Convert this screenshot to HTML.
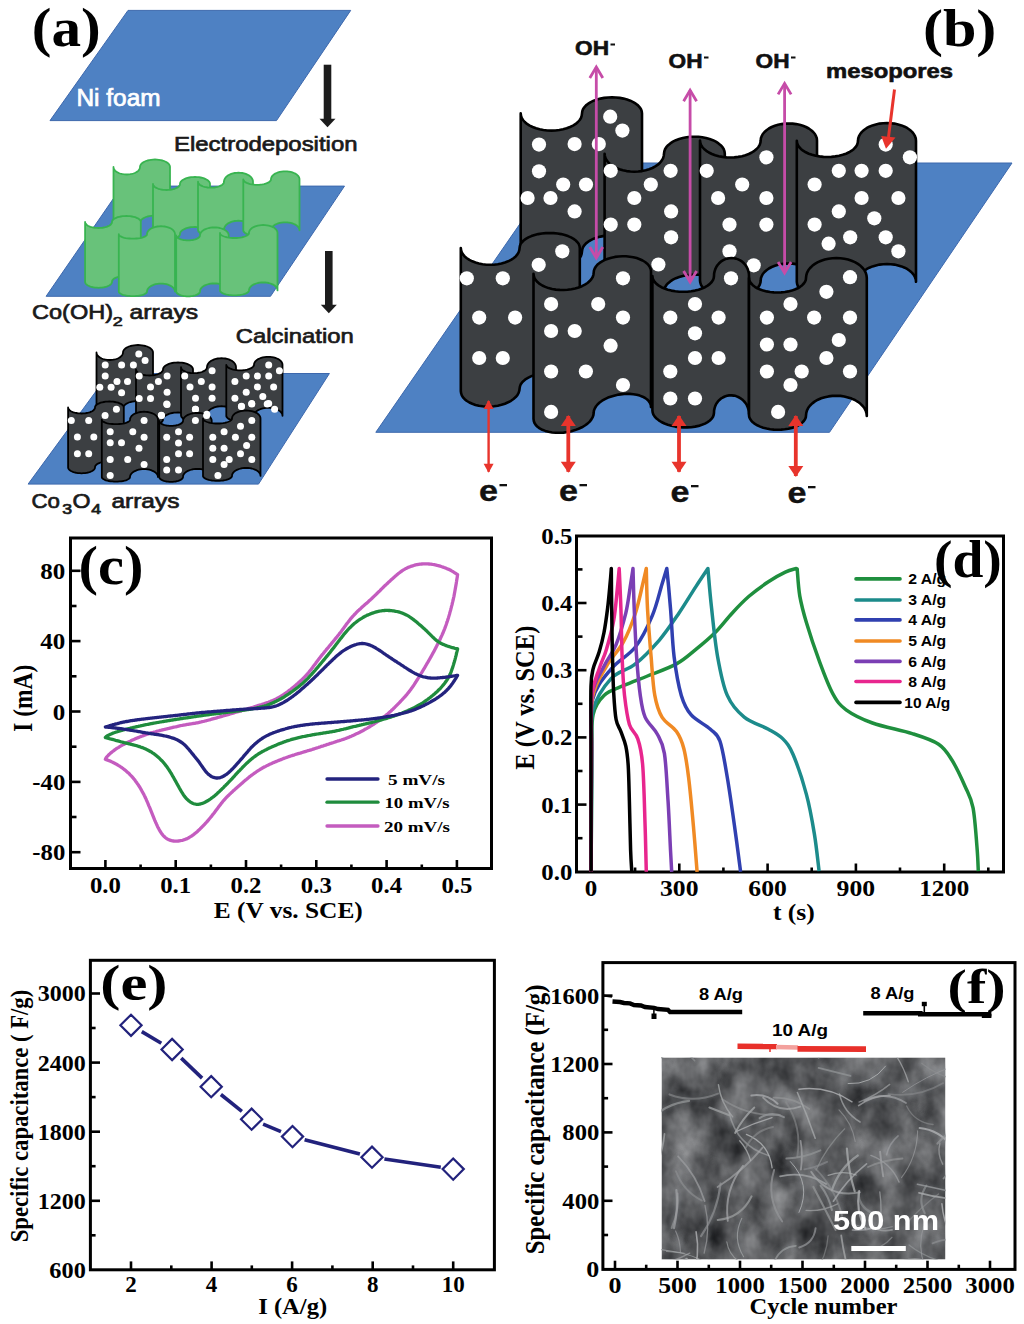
<!DOCTYPE html>
<html><head><meta charset="utf-8"><title>Figure</title>
<style>html,body{margin:0;padding:0;background:#fff;} svg{display:block;}</style></head>
<body><svg width="1024" height="1324" viewBox="0 0 1024 1324">
<rect x="0" y="0" width="1024" height="1324" fill="#fff"/>
<polygon points="128.0,10.4 350.7,10.4 276.5,120.6 50.0,120.6" fill="#4e81c3" stroke="#3d68ad" stroke-width="1"/>
<text x="31.8" y="46.2" font-family="'Liberation Serif',serif" font-weight="bold" font-size="55.5" fill="#000" text-anchor="start" textLength="69" lengthAdjust="spacingAndGlyphs">(a)</text>
<text x="76.5" y="106.4" font-family="'Liberation Sans',sans-serif" font-weight="normal" font-size="23" fill="#fff" text-anchor="start" textLength="84" lengthAdjust="spacingAndGlyphs" stroke="#fff" stroke-width="0.7">Ni foam</text>
<line x1="327.5" y1="64.7" x2="327.5" y2="120.2" stroke="#1c1c1c" stroke-width="7.6"/>
<polygon points="319.5,118.7 335.5,118.7 327.5,127.2" fill="#1c1c1c"/>
<text x="174" y="151.3" font-family="'Liberation Sans',sans-serif" font-weight="normal" font-size="20.7" fill="#1a1a1a" text-anchor="start" textLength="183.5" lengthAdjust="spacingAndGlyphs" stroke="#1a1a1a" stroke-width="0.7">Electrodeposition</text>
<polygon points="122.0,186.1 344.5,186.1 270.5,296.3 46.1,296.3" fill="#4e81c3" stroke="#3d68ad" stroke-width="1"/>
<path d="M113.5,167.0 L113.6,168.0 L114.0,168.9 L114.5,169.9 L115.3,170.8 L116.2,171.6 L117.4,172.3 L118.7,173.0 L120.1,173.5 L121.7,173.9 L123.3,174.2 L125.0,174.4 L126.8,174.5 L128.5,174.4 L130.2,174.2 L131.8,173.9 L133.4,173.5 L134.8,173.0 L136.1,172.3 L137.3,171.6 L138.2,170.8 L139.0,169.9 L139.5,168.9 L139.9,168.0 L140.0,167.0 L140.1,166.0 L140.5,165.1 L141.1,164.1 L142.0,163.2 L143.1,162.4 L144.4,161.7 L145.9,161.0 L147.5,160.5 L149.3,160.1 L151.1,159.8 L153.0,159.6 L155.0,159.5 L157.0,159.6 L158.9,159.8 L160.7,160.1 L162.5,160.5 L164.1,161.0 L165.6,161.7 L166.9,162.4 L168.0,163.2 L168.9,164.1 L169.5,165.1 L169.9,166.0 L170.0,167.0 L170.0,223.0 L169.9,222.0 L169.5,221.1 L168.9,220.1 L168.0,219.2 L166.9,218.4 L165.6,217.7 L164.1,217.0 L162.5,216.5 L160.7,216.1 L158.9,215.8 L157.0,215.6 L155.0,215.5 L153.0,215.6 L151.1,215.8 L149.3,216.1 L147.5,216.5 L145.9,217.0 L144.4,217.7 L143.1,218.4 L142.0,219.2 L141.1,220.1 L140.5,221.1 L140.1,222.0 L140.0,223.0 L139.9,224.0 L139.5,224.9 L139.0,225.9 L138.2,226.8 L137.3,227.6 L136.1,228.3 L134.8,229.0 L133.4,229.5 L131.8,229.9 L130.2,230.2 L128.5,230.4 L126.8,230.5 L125.0,230.4 L123.3,230.2 L121.7,229.9 L120.1,229.5 L118.7,229.0 L117.4,228.3 L116.2,227.6 L115.3,226.8 L114.5,225.9 L114.0,224.9 L113.6,224.0 L113.5,223.0 Z" fill="#68c27a" stroke="#38b450" stroke-width="1.8" stroke-linejoin="round"/>
<path d="M153.0,184.0 L153.1,184.8 L153.5,185.6 L154.0,186.3 L154.8,187.0 L155.8,187.7 L157.0,188.2 L158.3,188.8 L159.8,189.2 L161.3,189.5 L163.0,189.8 L164.7,189.9 L166.5,190.0 L168.3,189.9 L170.0,189.8 L171.7,189.5 L173.2,189.2 L174.7,188.8 L176.0,188.2 L177.2,187.7 L178.2,187.0 L179.0,186.3 L179.5,185.6 L179.9,184.8 L180.0,184.0 L180.1,183.1 L180.5,182.2 L181.1,181.3 L182.0,180.5 L183.1,179.7 L184.4,179.1 L185.9,178.4 L187.5,177.9 L189.3,177.5 L191.1,177.2 L193.0,177.1 L195.0,177.0 L197.0,177.1 L198.9,177.2 L200.7,177.5 L202.5,177.9 L204.1,178.4 L205.6,179.1 L206.9,179.7 L208.0,180.5 L208.9,181.3 L209.5,182.2 L209.9,183.1 L210.0,184.0 L210.0,234.0 L209.9,233.1 L209.5,232.2 L208.9,231.3 L208.0,230.5 L206.9,229.7 L205.6,229.1 L204.1,228.4 L202.5,227.9 L200.7,227.5 L198.9,227.2 L197.0,227.1 L195.0,227.0 L193.0,227.1 L191.1,227.2 L189.3,227.5 L187.5,227.9 L185.9,228.4 L184.4,229.1 L183.1,229.7 L182.0,230.5 L181.1,231.3 L180.5,232.2 L180.1,233.1 L180.0,234.0 L179.9,234.8 L179.5,235.6 L179.0,236.3 L178.2,237.0 L177.2,237.7 L176.0,238.2 L174.7,238.8 L173.2,239.2 L171.7,239.5 L170.0,239.8 L168.3,239.9 L166.5,240.0 L164.7,239.9 L163.0,239.8 L161.3,239.5 L159.8,239.2 L158.3,238.8 L157.0,238.2 L155.8,237.7 L154.8,237.0 L154.0,236.3 L153.5,235.6 L153.1,234.8 L153.0,234.0 Z" fill="#68c27a" stroke="#38b450" stroke-width="1.8" stroke-linejoin="round"/>
<path d="M198.0,181.7 L198.1,182.5 L198.4,183.3 L199.0,184.0 L199.7,184.7 L200.7,185.4 L201.8,185.9 L203.1,186.5 L204.5,186.9 L206.0,187.2 L207.6,187.5 L209.3,187.6 L211.0,187.7 L212.7,187.6 L214.4,187.5 L216.0,187.2 L217.5,186.9 L218.9,186.5 L220.2,185.9 L221.3,185.4 L222.3,184.7 L223.0,184.0 L223.6,183.3 L223.9,182.5 L224.0,181.7 L224.1,180.5 L224.5,179.4 L225.1,178.3 L225.9,177.2 L227.0,176.2 L228.2,175.3 L229.7,174.6 L231.2,173.9 L233.0,173.4 L234.7,173.0 L236.6,172.8 L238.5,172.7 L240.4,172.8 L242.3,173.0 L244.0,173.4 L245.8,173.9 L247.3,174.6 L248.8,175.3 L250.0,176.2 L251.1,177.2 L251.9,178.3 L252.5,179.4 L252.9,180.5 L253.0,181.7 L253.0,229.7 L252.9,228.5 L252.5,227.4 L251.9,226.3 L251.1,225.2 L250.0,224.2 L248.8,223.3 L247.3,222.6 L245.8,221.9 L244.0,221.4 L242.3,221.0 L240.4,220.8 L238.5,220.7 L236.6,220.8 L234.7,221.0 L233.0,221.4 L231.2,221.9 L229.7,222.6 L228.2,223.3 L227.0,224.2 L225.9,225.2 L225.1,226.3 L224.5,227.4 L224.1,228.5 L224.0,229.7 L223.9,230.5 L223.6,231.3 L223.0,232.0 L222.3,232.7 L221.3,233.4 L220.2,233.9 L218.9,234.5 L217.5,234.9 L216.0,235.2 L214.4,235.5 L212.7,235.6 L211.0,235.7 L209.3,235.6 L207.6,235.5 L206.0,235.2 L204.5,234.9 L203.1,234.5 L201.8,233.9 L200.7,233.4 L199.7,232.7 L199.0,232.0 L198.4,231.3 L198.1,230.5 L198.0,229.7 Z" fill="#68c27a" stroke="#38b450" stroke-width="1.8" stroke-linejoin="round"/>
<path d="M243.3,179.3 L243.4,180.0 L243.8,180.7 L244.4,181.4 L245.2,182.1 L246.2,182.6 L247.4,183.2 L248.7,183.7 L250.2,184.1 L251.8,184.4 L253.6,184.6 L255.3,184.8 L257.1,184.8 L259.0,184.8 L260.7,184.6 L262.5,184.4 L264.1,184.1 L265.6,183.7 L266.9,183.2 L268.1,182.6 L269.1,182.1 L269.9,181.4 L270.5,180.7 L270.9,180.0 L271.0,179.3 L271.1,178.3 L271.5,177.2 L272.1,176.2 L272.9,175.3 L273.9,174.4 L275.2,173.6 L276.6,173.0 L278.1,172.4 L279.8,171.9 L281.6,171.6 L283.4,171.4 L285.2,171.3 L287.1,171.4 L288.9,171.6 L290.7,171.9 L292.4,172.4 L293.9,173.0 L295.3,173.6 L296.6,174.4 L297.6,175.3 L298.4,176.2 L299.0,177.2 L299.4,178.3 L299.5,179.3 L299.5,230.3 L299.4,229.3 L299.0,228.2 L298.4,227.2 L297.6,226.3 L296.6,225.4 L295.3,224.6 L293.9,224.0 L292.4,223.4 L290.7,222.9 L288.9,222.6 L287.1,222.4 L285.2,222.3 L283.4,222.4 L281.6,222.6 L279.8,222.9 L278.1,223.4 L276.6,224.0 L275.2,224.6 L273.9,225.4 L272.9,226.3 L272.1,227.2 L271.5,228.2 L271.1,229.3 L271.0,230.3 L270.9,231.0 L270.5,231.7 L269.9,232.4 L269.1,233.1 L268.1,233.6 L266.9,234.2 L265.6,234.7 L264.1,235.1 L262.5,235.4 L260.7,235.6 L259.0,235.8 L257.1,235.8 L255.3,235.8 L253.6,235.6 L251.8,235.4 L250.2,235.1 L248.7,234.7 L247.4,234.2 L246.2,233.6 L245.2,233.1 L244.4,232.4 L243.8,231.7 L243.4,231.0 L243.3,230.3 Z" fill="#68c27a" stroke="#38b450" stroke-width="1.8" stroke-linejoin="round"/>
<path d="M85.1,222.0 L85.2,222.8 L85.6,223.6 L86.1,224.3 L86.9,225.0 L87.9,225.7 L89.0,226.2 L90.4,226.8 L91.8,227.2 L93.4,227.5 L95.1,227.8 L96.8,227.9 L98.5,228.0 L100.3,227.9 L102.0,227.8 L103.7,227.5 L105.3,227.2 L106.7,226.8 L108.1,226.2 L109.2,225.7 L110.2,225.0 L111.0,224.3 L111.5,223.6 L111.9,222.8 L112.0,222.0 L112.1,221.2 L112.5,220.4 L113.1,219.7 L113.9,219.0 L115.0,218.3 L116.2,217.8 L117.6,217.2 L119.2,216.8 L120.9,216.5 L122.7,216.2 L124.5,216.1 L126.4,216.0 L128.3,216.1 L130.1,216.2 L131.9,216.5 L133.6,216.8 L135.2,217.2 L136.6,217.8 L137.8,218.3 L138.9,219.0 L139.7,219.7 L140.3,220.4 L140.7,221.2 L140.8,222.0 L140.8,281.8 L140.7,281.0 L140.3,280.2 L139.7,279.5 L138.9,278.8 L137.8,278.1 L136.6,277.6 L135.2,277.0 L133.6,276.6 L131.9,276.3 L130.1,276.0 L128.3,275.9 L126.4,275.8 L124.5,275.9 L122.7,276.0 L120.9,276.3 L119.2,276.6 L117.6,277.0 L116.2,277.6 L115.0,278.1 L113.9,278.8 L113.1,279.5 L112.5,280.2 L112.1,281.0 L112.0,281.8 L111.9,282.6 L111.5,283.4 L111.0,284.1 L110.2,284.8 L109.2,285.5 L108.1,286.0 L106.7,286.6 L105.3,287.0 L103.7,287.3 L102.0,287.6 L100.3,287.7 L98.5,287.8 L96.8,287.7 L95.1,287.6 L93.4,287.3 L91.8,287.0 L90.4,286.6 L89.0,286.0 L87.9,285.5 L86.9,284.8 L86.1,284.1 L85.6,283.4 L85.2,282.6 L85.1,281.8 Z" fill="#68c27a" stroke="#38b450" stroke-width="1.8" stroke-linejoin="round"/>
<path d="M118.8,234.2 L118.9,234.8 L119.3,235.4 L119.9,235.9 L120.7,236.4 L121.7,236.9 L122.9,237.4 L124.3,237.8 L125.8,238.1 L127.5,238.4 L129.3,238.5 L131.1,238.7 L132.9,238.7 L134.7,238.7 L136.5,238.5 L138.3,238.4 L140.0,238.1 L141.5,237.8 L142.9,237.4 L144.1,236.9 L145.1,236.4 L145.9,235.9 L146.5,235.4 L146.9,234.8 L147.0,234.2 L147.1,233.2 L147.5,232.1 L148.1,231.1 L148.9,230.2 L149.9,229.3 L151.1,228.5 L152.5,227.9 L154.0,227.3 L155.6,226.8 L157.4,226.5 L159.2,226.3 L161.0,226.2 L162.8,226.3 L164.6,226.5 L166.4,226.8 L168.0,227.3 L169.5,227.9 L170.9,228.5 L172.1,229.3 L173.1,230.2 L173.9,231.1 L174.5,232.1 L174.9,233.2 L175.0,234.2 L175.0,291.6 L174.9,290.6 L174.5,289.5 L173.9,288.5 L173.1,287.6 L172.1,286.7 L170.9,285.9 L169.5,285.3 L168.0,284.7 L166.4,284.2 L164.6,283.9 L162.8,283.7 L161.0,283.6 L159.2,283.7 L157.4,283.9 L155.6,284.2 L154.0,284.7 L152.5,285.3 L151.1,285.9 L149.9,286.7 L148.9,287.6 L148.1,288.5 L147.5,289.5 L147.1,290.6 L147.0,291.6 L146.9,292.2 L146.5,292.8 L145.9,293.3 L145.1,293.8 L144.1,294.3 L142.9,294.8 L141.5,295.2 L140.0,295.5 L138.3,295.8 L136.5,295.9 L134.7,296.1 L132.9,296.1 L131.1,296.1 L129.3,295.9 L127.5,295.8 L125.8,295.5 L124.3,295.2 L122.9,294.8 L121.7,294.3 L120.7,293.8 L119.9,293.3 L119.3,292.8 L118.9,292.2 L118.8,291.6 Z" fill="#68c27a" stroke="#38b450" stroke-width="1.8" stroke-linejoin="round"/>
<path d="M176.2,235.4 L176.3,236.1 L176.6,236.7 L177.1,237.3 L177.8,237.9 L178.7,238.4 L179.7,238.9 L180.9,239.4 L182.1,239.7 L183.5,240.0 L185.0,240.2 L186.5,240.4 L188.1,240.4 L189.7,240.4 L191.2,240.2 L192.7,240.0 L194.0,239.7 L195.3,239.4 L196.5,238.9 L197.5,238.4 L198.4,237.9 L199.1,237.3 L199.6,236.7 L199.9,236.1 L200.0,235.4 L200.1,234.4 L200.5,233.3 L201.1,232.3 L201.9,231.4 L203.0,230.5 L204.2,229.7 L205.6,229.1 L207.2,228.5 L208.9,228.0 L210.6,227.7 L212.5,227.5 L214.3,227.4 L216.2,227.5 L218.1,227.7 L219.8,228.0 L221.5,228.5 L223.1,229.1 L224.5,229.7 L225.7,230.5 L226.8,231.4 L227.6,232.3 L228.2,233.3 L228.6,234.4 L228.7,235.4 L228.7,291.4 L228.6,290.4 L228.2,289.3 L227.6,288.3 L226.8,287.4 L225.7,286.5 L224.5,285.7 L223.1,285.1 L221.5,284.5 L219.8,284.0 L218.1,283.7 L216.2,283.5 L214.3,283.4 L212.5,283.5 L210.6,283.7 L208.9,284.0 L207.2,284.5 L205.6,285.1 L204.2,285.7 L203.0,286.5 L201.9,287.4 L201.1,288.3 L200.5,289.3 L200.1,290.4 L200.0,291.4 L199.9,292.1 L199.6,292.7 L199.1,293.3 L198.4,293.9 L197.5,294.4 L196.5,294.9 L195.3,295.4 L194.0,295.7 L192.7,296.0 L191.2,296.2 L189.7,296.4 L188.1,296.4 L186.5,296.4 L185.0,296.2 L183.5,296.0 L182.1,295.7 L180.9,295.4 L179.7,294.9 L178.7,294.4 L177.8,293.9 L177.1,293.3 L176.6,292.7 L176.3,292.1 L176.2,291.4 Z" fill="#68c27a" stroke="#38b450" stroke-width="1.8" stroke-linejoin="round"/>
<path d="M220.0,233.0 L220.1,233.7 L220.5,234.3 L221.1,234.9 L221.9,235.5 L223.0,236.0 L224.2,236.5 L225.7,237.0 L227.2,237.3 L229.0,237.6 L230.7,237.8 L232.6,238.0 L234.5,238.0 L236.4,238.0 L238.3,237.8 L240.0,237.6 L241.8,237.3 L243.3,237.0 L244.8,236.5 L246.0,236.0 L247.1,235.5 L247.9,234.9 L248.5,234.3 L248.9,233.7 L249.0,233.0 L249.1,232.0 L249.5,230.9 L250.1,229.9 L250.9,229.0 L251.9,228.1 L253.2,227.3 L254.6,226.7 L256.1,226.1 L257.8,225.6 L259.6,225.3 L261.4,225.1 L263.2,225.0 L265.1,225.1 L266.9,225.3 L268.7,225.6 L270.4,226.1 L271.9,226.7 L273.3,227.3 L274.6,228.1 L275.6,229.0 L276.4,229.9 L277.0,230.9 L277.4,232.0 L277.5,233.0 L277.5,290.4 L277.4,289.4 L277.0,288.3 L276.4,287.3 L275.6,286.4 L274.6,285.5 L273.3,284.7 L271.9,284.1 L270.4,283.5 L268.7,283.0 L266.9,282.7 L265.1,282.5 L263.2,282.4 L261.4,282.5 L259.6,282.7 L257.8,283.0 L256.1,283.5 L254.6,284.1 L253.2,284.7 L251.9,285.5 L250.9,286.4 L250.1,287.3 L249.5,288.3 L249.1,289.4 L249.0,290.4 L248.9,291.1 L248.5,291.7 L247.9,292.3 L247.1,292.9 L246.0,293.4 L244.8,293.9 L243.3,294.4 L241.8,294.7 L240.0,295.0 L238.3,295.2 L236.4,295.4 L234.5,295.4 L232.6,295.4 L230.7,295.2 L229.0,295.0 L227.2,294.7 L225.7,294.4 L224.2,293.9 L223.0,293.4 L221.9,292.9 L221.1,292.3 L220.5,291.7 L220.1,291.1 L220.0,290.4 Z" fill="#68c27a" stroke="#38b450" stroke-width="1.8" stroke-linejoin="round"/>
<line x1="328.8" y1="251" x2="328.8" y2="306.3" stroke="#1c1c1c" stroke-width="7.6"/>
<polygon points="320.8,304.8 336.8,304.8 328.8,313.3" fill="#1c1c1c"/>
<text x="32" y="319.3" font-family="'Liberation Sans',sans-serif" font-weight="normal" font-size="20.7" fill="#1a1a1a" text-anchor="start" textLength="81" lengthAdjust="spacingAndGlyphs" stroke="#1a1a1a" stroke-width="0.7">Co(OH)</text>
<text x="112.8" y="325.5" font-family="'Liberation Sans',sans-serif" font-weight="normal" font-size="13.5" fill="#1a1a1a" text-anchor="start" textLength="10" lengthAdjust="spacingAndGlyphs" stroke="#1a1a1a" stroke-width="0.7">2</text>
<text x="129.6" y="319.3" font-family="'Liberation Sans',sans-serif" font-weight="normal" font-size="20.7" fill="#1a1a1a" text-anchor="start" textLength="68.5" lengthAdjust="spacingAndGlyphs" stroke="#1a1a1a" stroke-width="0.7">arrays</text>
<text x="235.8" y="343.2" font-family="'Liberation Sans',sans-serif" font-weight="normal" font-size="20.7" fill="#1a1a1a" text-anchor="start" textLength="118" lengthAdjust="spacingAndGlyphs" stroke="#1a1a1a" stroke-width="0.7">Calcination</text>
<polygon points="109.0,373.5 329.4,373.5 258.5,484.1 28.1,484.1" fill="#4e81c3" stroke="#3d68ad" stroke-width="1"/>
<path d="M96.5,352.5 L96.6,353.5 L97.0,354.4 L97.5,355.4 L98.3,356.2 L99.2,357.1 L100.4,357.8 L101.7,358.5 L103.1,359.0 L104.7,359.4 L106.3,359.7 L108.0,359.9 L109.8,360.0 L111.5,359.9 L113.2,359.7 L114.8,359.4 L116.4,359.0 L117.8,358.5 L119.1,357.8 L120.3,357.1 L121.2,356.2 L122.0,355.4 L122.5,354.4 L122.9,353.5 L123.0,352.5 L123.1,351.5 L123.5,350.6 L124.1,349.6 L125.0,348.8 L126.1,347.9 L127.4,347.2 L128.9,346.5 L130.5,346.0 L132.3,345.6 L134.1,345.3 L136.0,345.1 L138.0,345.0 L140.0,345.1 L141.9,345.3 L143.7,345.6 L145.5,346.0 L147.1,346.5 L148.6,347.2 L149.9,347.9 L151.0,348.8 L151.9,349.6 L152.5,350.6 L152.9,351.5 L153.0,352.5 L153.0,408.5 L152.9,407.5 L152.5,406.6 L151.9,405.6 L151.0,404.8 L149.9,403.9 L148.6,403.2 L147.1,402.5 L145.5,402.0 L143.7,401.6 L141.9,401.3 L140.0,401.1 L138.0,401.0 L136.0,401.1 L134.1,401.3 L132.3,401.6 L130.5,402.0 L128.9,402.5 L127.4,403.2 L126.1,403.9 L125.0,404.8 L124.1,405.6 L123.5,406.6 L123.1,407.5 L123.0,408.5 L122.9,409.5 L122.5,410.4 L122.0,411.4 L121.2,412.2 L120.3,413.1 L119.1,413.8 L117.8,414.5 L116.4,415.0 L114.8,415.4 L113.2,415.7 L111.5,415.9 L109.8,416.0 L108.0,415.9 L106.3,415.7 L104.7,415.4 L103.1,415.0 L101.7,414.5 L100.4,413.8 L99.2,413.1 L98.3,412.2 L97.5,411.4 L97.0,410.4 L96.6,409.5 L96.5,408.5 Z" fill="#3c3f42" stroke="#000" stroke-width="1.8" stroke-linejoin="round"/>
<circle cx="138.8" cy="354.1" r="3.5" fill="#fff"/>
<circle cx="145.1" cy="360.5" r="3.5" fill="#fff"/>
<circle cx="105.2" cy="365.0" r="3.5" fill="#fff"/>
<circle cx="121.6" cy="365.0" r="3.5" fill="#fff"/>
<circle cx="133.4" cy="365.0" r="3.5" fill="#fff"/>
<circle cx="105.2" cy="376.1" r="3.5" fill="#fff"/>
<circle cx="117.0" cy="381.4" r="3.5" fill="#fff"/>
<circle cx="127.5" cy="381.4" r="3.5" fill="#fff"/>
<circle cx="99.8" cy="387.3" r="3.5" fill="#fff"/>
<circle cx="111.1" cy="387.3" r="3.5" fill="#fff"/>
<circle cx="121.6" cy="392.7" r="3.5" fill="#fff"/>
<path d="M136.0,369.5 L136.1,370.3 L136.5,371.1 L137.0,371.8 L137.8,372.5 L138.8,373.2 L140.0,373.7 L141.3,374.3 L142.8,374.7 L144.3,375.0 L146.0,375.3 L147.7,375.4 L149.5,375.5 L151.3,375.4 L153.0,375.3 L154.7,375.0 L156.2,374.7 L157.7,374.3 L159.0,373.7 L160.2,373.2 L161.2,372.5 L162.0,371.8 L162.5,371.1 L162.9,370.3 L163.0,369.5 L163.1,368.6 L163.5,367.7 L164.1,366.8 L165.0,366.0 L166.1,365.2 L167.4,364.6 L168.9,363.9 L170.5,363.4 L172.3,363.0 L174.1,362.7 L176.0,362.6 L178.0,362.5 L180.0,362.6 L181.9,362.7 L183.7,363.0 L185.5,363.4 L187.1,363.9 L188.6,364.6 L189.9,365.2 L191.0,366.0 L191.9,366.8 L192.5,367.7 L192.9,368.6 L193.0,369.5 L193.0,419.5 L192.9,418.6 L192.5,417.7 L191.9,416.8 L191.0,416.0 L189.9,415.2 L188.6,414.6 L187.1,413.9 L185.5,413.4 L183.7,413.0 L181.9,412.7 L180.0,412.6 L178.0,412.5 L176.0,412.6 L174.1,412.7 L172.3,413.0 L170.5,413.4 L168.9,413.9 L167.4,414.6 L166.1,415.2 L165.0,416.0 L164.1,416.8 L163.5,417.7 L163.1,418.6 L163.0,419.5 L162.9,420.3 L162.5,421.1 L162.0,421.8 L161.2,422.5 L160.2,423.2 L159.0,423.7 L157.7,424.3 L156.2,424.7 L154.7,425.0 L153.0,425.3 L151.3,425.4 L149.5,425.5 L147.7,425.4 L146.0,425.3 L144.3,425.0 L142.8,424.7 L141.3,424.3 L140.0,423.7 L138.8,423.2 L137.8,422.5 L137.0,421.8 L136.5,421.1 L136.1,420.3 L136.0,419.5 Z" fill="#3c3f42" stroke="#000" stroke-width="1.8" stroke-linejoin="round"/>
<circle cx="139.2" cy="376.1" r="3.5" fill="#fff"/>
<circle cx="158.4" cy="381.4" r="3.5" fill="#fff"/>
<circle cx="167.1" cy="376.1" r="3.5" fill="#fff"/>
<circle cx="150.5" cy="386.9" r="3.5" fill="#fff"/>
<circle cx="167.1" cy="392.3" r="3.5" fill="#fff"/>
<circle cx="139.2" cy="398.6" r="3.5" fill="#fff"/>
<circle cx="150.5" cy="398.6" r="3.5" fill="#fff"/>
<circle cx="167.1" cy="404.4" r="3.5" fill="#fff"/>
<circle cx="161.3" cy="415.2" r="3.5" fill="#fff"/>
<circle cx="161.5" cy="415.4" r="3.5" fill="#fff"/>
<circle cx="166.7" cy="404.1" r="3.5" fill="#fff"/>
<path d="M181.0,367.2 L181.1,368.0 L181.4,368.8 L182.0,369.5 L182.7,370.2 L183.7,370.9 L184.8,371.4 L186.1,372.0 L187.5,372.4 L189.0,372.7 L190.6,373.0 L192.3,373.1 L194.0,373.2 L195.7,373.1 L197.4,373.0 L199.0,372.7 L200.5,372.4 L201.9,372.0 L203.2,371.4 L204.3,370.9 L205.3,370.2 L206.0,369.5 L206.6,368.8 L206.9,368.0 L207.0,367.2 L207.1,366.0 L207.5,364.9 L208.1,363.8 L208.9,362.7 L210.0,361.7 L211.2,360.8 L212.7,360.1 L214.2,359.4 L216.0,358.9 L217.7,358.5 L219.6,358.3 L221.5,358.2 L223.4,358.3 L225.3,358.5 L227.0,358.9 L228.8,359.4 L230.3,360.1 L231.8,360.8 L233.0,361.7 L234.1,362.7 L234.9,363.8 L235.5,364.9 L235.9,366.0 L236.0,367.2 L236.0,415.2 L235.9,414.0 L235.5,412.9 L234.9,411.8 L234.1,410.7 L233.0,409.7 L231.8,408.8 L230.3,408.1 L228.8,407.4 L227.0,406.9 L225.3,406.5 L223.4,406.3 L221.5,406.2 L219.6,406.3 L217.7,406.5 L216.0,406.9 L214.2,407.4 L212.7,408.1 L211.2,408.8 L210.0,409.7 L208.9,410.7 L208.1,411.8 L207.5,412.9 L207.1,414.0 L207.0,415.2 L206.9,416.0 L206.6,416.8 L206.0,417.5 L205.3,418.2 L204.3,418.9 L203.2,419.4 L201.9,420.0 L200.5,420.4 L199.0,420.7 L197.4,421.0 L195.7,421.1 L194.0,421.2 L192.3,421.1 L190.6,421.0 L189.0,420.7 L187.5,420.4 L186.1,420.0 L184.8,419.4 L183.7,418.9 L182.7,418.2 L182.0,417.5 L181.4,416.8 L181.1,416.0 L181.0,415.2 Z" fill="#3c3f42" stroke="#000" stroke-width="1.8" stroke-linejoin="round"/>
<circle cx="184.7" cy="376.1" r="3.5" fill="#fff"/>
<circle cx="212.1" cy="370.7" r="3.5" fill="#fff"/>
<circle cx="201.3" cy="381.4" r="3.5" fill="#fff"/>
<circle cx="190.0" cy="386.9" r="3.5" fill="#fff"/>
<circle cx="212.1" cy="386.9" r="3.5" fill="#fff"/>
<circle cx="195.5" cy="398.2" r="3.5" fill="#fff"/>
<circle cx="212.1" cy="398.2" r="3.5" fill="#fff"/>
<circle cx="195.5" cy="409.3" r="3.5" fill="#fff"/>
<circle cx="206.8" cy="414.2" r="3.5" fill="#fff"/>
<circle cx="195.4" cy="409.2" r="3.5" fill="#fff"/>
<path d="M226.3,364.8 L226.4,365.5 L226.8,366.2 L227.4,366.9 L228.2,367.6 L229.2,368.1 L230.4,368.7 L231.7,369.2 L233.2,369.6 L234.8,369.9 L236.6,370.1 L238.3,370.3 L240.2,370.3 L242.0,370.3 L243.7,370.1 L245.5,369.9 L247.1,369.6 L248.6,369.2 L249.9,368.7 L251.1,368.1 L252.1,367.6 L252.9,366.9 L253.5,366.2 L253.9,365.5 L254.0,364.8 L254.1,363.8 L254.5,362.7 L255.1,361.7 L255.9,360.8 L256.9,359.9 L258.2,359.1 L259.6,358.5 L261.1,357.9 L262.8,357.4 L264.6,357.1 L266.4,356.9 L268.2,356.8 L270.1,356.9 L271.9,357.1 L273.7,357.4 L275.4,357.9 L276.9,358.5 L278.3,359.1 L279.6,359.9 L280.6,360.8 L281.4,361.7 L282.0,362.7 L282.4,363.8 L282.5,364.8 L282.5,415.8 L282.4,414.8 L282.0,413.7 L281.4,412.7 L280.6,411.8 L279.6,410.9 L278.3,410.1 L276.9,409.5 L275.4,408.9 L273.7,408.4 L271.9,408.1 L270.1,407.9 L268.2,407.8 L266.4,407.9 L264.6,408.1 L262.8,408.4 L261.1,408.9 L259.6,409.5 L258.2,410.1 L256.9,410.9 L255.9,411.8 L255.1,412.7 L254.5,413.7 L254.1,414.8 L254.0,415.8 L253.9,416.5 L253.5,417.2 L252.9,417.9 L252.1,418.6 L251.1,419.1 L249.9,419.7 L248.6,420.2 L247.1,420.6 L245.5,420.9 L243.7,421.1 L242.0,421.3 L240.2,421.3 L238.3,421.3 L236.6,421.1 L234.8,420.9 L233.2,420.6 L231.7,420.2 L230.4,419.7 L229.2,419.1 L228.2,418.6 L227.4,417.9 L226.8,417.2 L226.4,416.5 L226.3,415.8 Z" fill="#3c3f42" stroke="#000" stroke-width="1.8" stroke-linejoin="round"/>
<circle cx="268.7" cy="365.0" r="3.5" fill="#fff"/>
<circle cx="279.4" cy="370.7" r="3.5" fill="#fff"/>
<circle cx="246.2" cy="376.1" r="3.5" fill="#fff"/>
<circle cx="257.4" cy="376.1" r="3.5" fill="#fff"/>
<circle cx="268.7" cy="376.1" r="3.5" fill="#fff"/>
<circle cx="234.9" cy="381.4" r="3.5" fill="#fff"/>
<circle cx="257.4" cy="386.9" r="3.5" fill="#fff"/>
<circle cx="273.6" cy="386.9" r="3.5" fill="#fff"/>
<circle cx="246.2" cy="392.3" r="3.5" fill="#fff"/>
<circle cx="262.8" cy="396.6" r="3.5" fill="#fff"/>
<circle cx="234.9" cy="398.2" r="3.5" fill="#fff"/>
<circle cx="268.7" cy="403.5" r="3.5" fill="#fff"/>
<circle cx="241.4" cy="406.4" r="3.5" fill="#fff"/>
<circle cx="251.7" cy="403.5" r="3.5" fill="#fff"/>
<circle cx="241.5" cy="406.2" r="3.5" fill="#fff"/>
<circle cx="251.8" cy="404.1" r="3.5" fill="#fff"/>
<circle cx="267.2" cy="404.1" r="3.5" fill="#fff"/>
<path d="M68.1,407.5 L68.2,408.3 L68.6,409.1 L69.1,409.8 L69.9,410.5 L70.9,411.2 L72.0,411.7 L73.4,412.3 L74.8,412.7 L76.4,413.0 L78.1,413.3 L79.8,413.4 L81.5,413.5 L83.3,413.4 L85.0,413.3 L86.7,413.0 L88.3,412.7 L89.7,412.3 L91.1,411.7 L92.2,411.2 L93.2,410.5 L94.0,409.8 L94.5,409.1 L94.9,408.3 L95.0,407.5 L95.1,406.7 L95.5,405.9 L96.1,405.2 L96.9,404.5 L98.0,403.8 L99.2,403.3 L100.6,402.7 L102.2,402.3 L103.9,402.0 L105.7,401.7 L107.5,401.6 L109.4,401.5 L111.3,401.6 L113.1,401.7 L114.9,402.0 L116.6,402.3 L118.2,402.7 L119.6,403.3 L120.8,403.8 L121.9,404.5 L122.7,405.2 L123.3,405.9 L123.7,406.7 L123.8,407.5 L123.8,467.3 L123.7,466.5 L123.3,465.7 L122.7,465.0 L121.9,464.3 L120.8,463.6 L119.6,463.1 L118.2,462.5 L116.6,462.1 L114.9,461.8 L113.1,461.5 L111.3,461.4 L109.4,461.3 L107.5,461.4 L105.7,461.5 L103.9,461.8 L102.2,462.1 L100.6,462.5 L99.2,463.1 L98.0,463.6 L96.9,464.3 L96.1,465.0 L95.5,465.7 L95.1,466.5 L95.0,467.3 L94.9,468.1 L94.5,468.9 L94.0,469.6 L93.2,470.3 L92.2,471.0 L91.1,471.5 L89.7,472.1 L88.3,472.5 L86.7,472.8 L85.0,473.1 L83.3,473.2 L81.5,473.3 L79.8,473.2 L78.1,473.1 L76.4,472.8 L74.8,472.5 L73.4,472.1 L72.0,471.5 L70.9,471.0 L69.9,470.3 L69.1,469.6 L68.6,468.9 L68.2,468.1 L68.1,467.3 Z" fill="#3c3f42" stroke="#000" stroke-width="1.8" stroke-linejoin="round"/>
<circle cx="71.3" cy="420.5" r="3.5" fill="#fff"/>
<circle cx="88.7" cy="420.5" r="3.5" fill="#fff"/>
<circle cx="77.4" cy="436.9" r="3.5" fill="#fff"/>
<circle cx="93.8" cy="436.9" r="3.5" fill="#fff"/>
<circle cx="77.4" cy="453.7" r="3.5" fill="#fff"/>
<circle cx="88.7" cy="453.7" r="3.5" fill="#fff"/>
<circle cx="105.1" cy="415.4" r="3.5" fill="#fff"/>
<circle cx="116.4" cy="409.2" r="3.5" fill="#fff"/>
<path d="M101.8,419.7 L101.9,420.3 L102.3,420.9 L102.9,421.4 L103.7,421.9 L104.7,422.4 L105.9,422.9 L107.3,423.3 L108.8,423.6 L110.5,423.9 L112.3,424.0 L114.1,424.2 L115.9,424.2 L117.7,424.2 L119.5,424.0 L121.3,423.9 L123.0,423.6 L124.5,423.3 L125.9,422.9 L127.1,422.4 L128.1,421.9 L128.9,421.4 L129.5,420.9 L129.9,420.3 L130.0,419.7 L130.1,418.7 L130.5,417.6 L131.1,416.6 L131.9,415.7 L132.9,414.8 L134.1,414.0 L135.5,413.4 L137.0,412.8 L138.6,412.3 L140.4,412.0 L142.2,411.8 L144.0,411.7 L145.8,411.8 L147.6,412.0 L149.4,412.3 L151.0,412.8 L152.5,413.4 L153.9,414.0 L155.1,414.8 L156.1,415.7 L156.9,416.6 L157.5,417.6 L157.9,418.7 L158.0,419.7 L158.0,477.1 L157.9,476.1 L157.5,475.0 L156.9,474.0 L156.1,473.1 L155.1,472.2 L153.9,471.4 L152.5,470.8 L151.0,470.2 L149.4,469.7 L147.6,469.4 L145.8,469.2 L144.0,469.1 L142.2,469.2 L140.4,469.4 L138.6,469.7 L137.0,470.2 L135.5,470.8 L134.1,471.4 L132.9,472.2 L131.9,473.1 L131.1,474.0 L130.5,475.0 L130.1,476.1 L130.0,477.1 L129.9,477.7 L129.5,478.3 L128.9,478.8 L128.1,479.3 L127.1,479.8 L125.9,480.3 L124.5,480.7 L123.0,481.0 L121.3,481.3 L119.5,481.4 L117.7,481.6 L115.9,481.6 L114.1,481.6 L112.3,481.4 L110.5,481.3 L108.8,481.0 L107.3,480.7 L105.9,480.3 L104.7,479.8 L103.7,479.3 L102.9,478.8 L102.3,478.3 L101.9,477.7 L101.8,477.1 Z" fill="#3c3f42" stroke="#000" stroke-width="1.8" stroke-linejoin="round"/>
<circle cx="144.1" cy="420.5" r="3.5" fill="#fff"/>
<circle cx="110.2" cy="431.8" r="3.5" fill="#fff"/>
<circle cx="132.8" cy="431.8" r="3.5" fill="#fff"/>
<circle cx="144.1" cy="437.3" r="3.5" fill="#fff"/>
<circle cx="110.2" cy="442.7" r="3.5" fill="#fff"/>
<circle cx="121.5" cy="442.7" r="3.5" fill="#fff"/>
<circle cx="139.0" cy="448.2" r="3.5" fill="#fff"/>
<circle cx="110.2" cy="459.5" r="3.5" fill="#fff"/>
<circle cx="127.7" cy="459.5" r="3.5" fill="#fff"/>
<circle cx="144.1" cy="464.6" r="3.5" fill="#fff"/>
<circle cx="110.2" cy="475.5" r="3.5" fill="#fff"/>
<path d="M159.2,420.9 L159.3,421.6 L159.6,422.2 L160.1,422.8 L160.8,423.4 L161.7,423.9 L162.7,424.4 L163.9,424.9 L165.1,425.2 L166.5,425.5 L168.0,425.7 L169.5,425.9 L171.1,425.9 L172.7,425.9 L174.2,425.7 L175.7,425.5 L177.0,425.2 L178.3,424.9 L179.5,424.4 L180.5,423.9 L181.4,423.4 L182.1,422.8 L182.6,422.2 L182.9,421.6 L183.0,420.9 L183.1,419.9 L183.5,418.8 L184.1,417.8 L184.9,416.9 L186.0,416.0 L187.2,415.2 L188.6,414.6 L190.2,414.0 L191.9,413.5 L193.6,413.2 L195.5,413.0 L197.3,412.9 L199.2,413.0 L201.1,413.2 L202.8,413.5 L204.5,414.0 L206.1,414.6 L207.5,415.2 L208.7,416.0 L209.8,416.9 L210.6,417.8 L211.2,418.8 L211.6,419.9 L211.7,420.9 L211.7,476.9 L211.6,475.9 L211.2,474.8 L210.6,473.8 L209.8,472.9 L208.7,472.0 L207.5,471.2 L206.1,470.6 L204.5,470.0 L202.8,469.5 L201.1,469.2 L199.2,469.0 L197.3,468.9 L195.5,469.0 L193.6,469.2 L191.9,469.5 L190.2,470.0 L188.6,470.6 L187.2,471.2 L186.0,472.0 L184.9,472.9 L184.1,473.8 L183.5,474.8 L183.1,475.9 L183.0,476.9 L182.9,477.6 L182.6,478.2 L182.1,478.8 L181.4,479.4 L180.5,479.9 L179.5,480.4 L178.3,480.9 L177.0,481.2 L175.7,481.5 L174.2,481.7 L172.7,481.9 L171.1,481.9 L169.5,481.9 L168.0,481.7 L166.5,481.5 L165.1,481.2 L163.9,480.9 L162.7,480.4 L161.7,479.9 L160.8,479.4 L160.1,478.8 L159.6,478.2 L159.3,477.6 L159.2,476.9 Z" fill="#3c3f42" stroke="#000" stroke-width="1.8" stroke-linejoin="round"/>
<circle cx="178.5" cy="431.8" r="3.5" fill="#fff"/>
<circle cx="166.7" cy="437.3" r="3.5" fill="#fff"/>
<circle cx="189.6" cy="437.3" r="3.5" fill="#fff"/>
<circle cx="178.5" cy="443.1" r="3.5" fill="#fff"/>
<circle cx="178.5" cy="453.7" r="3.5" fill="#fff"/>
<circle cx="189.6" cy="453.7" r="3.5" fill="#fff"/>
<circle cx="166.7" cy="459.5" r="3.5" fill="#fff"/>
<circle cx="166.7" cy="470.1" r="3.5" fill="#fff"/>
<circle cx="178.5" cy="470.1" r="3.5" fill="#fff"/>
<circle cx="195.4" cy="420.5" r="3.5" fill="#fff"/>
<circle cx="206.6" cy="415.4" r="3.5" fill="#fff"/>
<path d="M203.0,418.5 L203.1,419.2 L203.5,419.8 L204.1,420.4 L204.9,421.0 L206.0,421.5 L207.2,422.0 L208.7,422.5 L210.2,422.8 L212.0,423.1 L213.7,423.3 L215.6,423.5 L217.5,423.5 L219.4,423.5 L221.3,423.3 L223.0,423.1 L224.8,422.8 L226.3,422.5 L227.8,422.0 L229.0,421.5 L230.1,421.0 L230.9,420.4 L231.5,419.8 L231.9,419.2 L232.0,418.5 L232.1,417.5 L232.5,416.4 L233.1,415.4 L233.9,414.5 L234.9,413.6 L236.2,412.8 L237.6,412.2 L239.1,411.6 L240.8,411.1 L242.6,410.8 L244.4,410.6 L246.2,410.5 L248.1,410.6 L249.9,410.8 L251.7,411.1 L253.4,411.6 L254.9,412.2 L256.3,412.8 L257.6,413.6 L258.6,414.5 L259.4,415.4 L260.0,416.4 L260.4,417.5 L260.5,418.5 L260.5,475.9 L260.4,474.9 L260.0,473.8 L259.4,472.8 L258.6,471.9 L257.6,471.0 L256.3,470.2 L254.9,469.6 L253.4,469.0 L251.7,468.5 L249.9,468.2 L248.1,468.0 L246.2,467.9 L244.4,468.0 L242.6,468.2 L240.8,468.5 L239.1,469.0 L237.6,469.6 L236.2,470.2 L234.9,471.0 L233.9,471.9 L233.1,472.8 L232.5,473.8 L232.1,474.9 L232.0,475.9 L231.9,476.6 L231.5,477.2 L230.9,477.8 L230.1,478.4 L229.0,478.9 L227.8,479.4 L226.3,479.9 L224.8,480.2 L223.0,480.5 L221.3,480.7 L219.4,480.9 L217.5,480.9 L215.6,480.9 L213.7,480.7 L212.0,480.5 L210.2,480.2 L208.7,479.9 L207.2,479.4 L206.0,478.9 L204.9,478.4 L204.1,477.8 L203.5,477.2 L203.1,476.6 L203.0,475.9 Z" fill="#3c3f42" stroke="#000" stroke-width="1.8" stroke-linejoin="round"/>
<circle cx="274.6" cy="409.3" r="3.5" fill="#fff"/>
<circle cx="251.8" cy="420.5" r="3.5" fill="#fff"/>
<circle cx="240.5" cy="426.3" r="3.5" fill="#fff"/>
<circle cx="224.1" cy="431.8" r="3.5" fill="#fff"/>
<circle cx="212.8" cy="437.3" r="3.5" fill="#fff"/>
<circle cx="235.4" cy="437.3" r="3.5" fill="#fff"/>
<circle cx="251.8" cy="437.3" r="3.5" fill="#fff"/>
<circle cx="246.6" cy="445.5" r="3.5" fill="#fff"/>
<circle cx="212.8" cy="448.2" r="3.5" fill="#fff"/>
<circle cx="224.1" cy="448.2" r="3.5" fill="#fff"/>
<circle cx="240.5" cy="453.7" r="3.5" fill="#fff"/>
<circle cx="212.8" cy="459.5" r="3.5" fill="#fff"/>
<circle cx="229.2" cy="459.5" r="3.5" fill="#fff"/>
<circle cx="251.8" cy="459.5" r="3.5" fill="#fff"/>
<circle cx="224.1" cy="464.6" r="3.5" fill="#fff"/>
<circle cx="217.9" cy="475.5" r="3.5" fill="#fff"/>
<text x="31.4" y="508.1" font-family="'Liberation Sans',sans-serif" font-weight="normal" font-size="20.7" fill="#1a1a1a" text-anchor="start" textLength="28.5" lengthAdjust="spacingAndGlyphs" stroke="#1a1a1a" stroke-width="0.7">Co</text>
<text x="62.2" y="514.3" font-family="'Liberation Sans',sans-serif" font-weight="normal" font-size="14" fill="#1a1a1a" text-anchor="start" textLength="9.8" lengthAdjust="spacingAndGlyphs" stroke="#1a1a1a" stroke-width="0.7">3</text>
<text x="72.5" y="508.1" font-family="'Liberation Sans',sans-serif" font-weight="normal" font-size="20.7" fill="#1a1a1a" text-anchor="start" textLength="18" lengthAdjust="spacingAndGlyphs" stroke="#1a1a1a" stroke-width="0.7">O</text>
<text x="91.2" y="514.3" font-family="'Liberation Sans',sans-serif" font-weight="normal" font-size="14" fill="#1a1a1a" text-anchor="start" textLength="9.8" lengthAdjust="spacingAndGlyphs" stroke="#1a1a1a" stroke-width="0.7">4</text>
<text x="111.4" y="508.1" font-family="'Liberation Sans',sans-serif" font-weight="normal" font-size="20.7" fill="#1a1a1a" text-anchor="start" textLength="68" lengthAdjust="spacingAndGlyphs" stroke="#1a1a1a" stroke-width="0.7">arrays</text>
<polygon points="562.0,163.0 1012.0,163.0 829.5,432.3 375.8,432.3" fill="#4e81c3" stroke="#3d68ad" stroke-width="1"/>
<path d="M520.7,113.4 L521.0,115.6 L521.7,117.9 L523.0,120.0 L524.8,122.0 L527.0,123.9 L529.7,125.6 L532.7,127.0 L536.0,128.3 L539.6,129.3 L543.4,130.0 L547.3,130.5 L551.4,130.6 L555.4,130.5 L559.3,130.0 L563.1,129.3 L566.7,128.3 L570.0,127.0 L573.0,125.6 L575.7,123.9 L577.9,122.0 L579.7,120.0 L581.0,117.9 L581.7,115.6 L582.0,113.4 L582.3,111.3 L583.0,109.3 L584.3,107.3 L586.0,105.4 L588.2,103.7 L590.8,102.1 L593.7,100.7 L597.0,99.5 L600.5,98.6 L604.2,97.9 L608.1,97.5 L612.0,97.4 L615.9,97.5 L619.8,97.9 L623.5,98.6 L627.0,99.5 L630.3,100.7 L633.2,102.1 L635.8,103.7 L638.0,105.4 L639.7,107.3 L641.0,109.3 L641.7,111.3 L642.0,113.4 L642.0,251.4 L641.7,249.3 L641.0,247.3 L639.7,245.3 L638.0,243.4 L635.8,241.7 L633.2,240.1 L630.3,238.7 L627.0,237.5 L623.5,236.6 L619.8,235.9 L615.9,235.5 L612.0,235.4 L608.1,235.5 L604.2,235.9 L600.5,236.6 L597.0,237.5 L593.7,238.7 L590.8,240.1 L588.2,241.7 L586.0,243.4 L584.3,245.3 L583.0,247.3 L582.3,249.3 L582.0,251.4 L581.7,253.6 L581.0,255.9 L579.7,258.0 L577.9,260.0 L575.7,261.9 L573.0,263.6 L570.0,265.0 L566.7,266.3 L563.1,267.3 L559.3,268.0 L555.4,268.5 L551.4,268.6 L547.3,268.5 L543.4,268.0 L539.6,267.3 L536.0,266.3 L532.7,265.0 L529.7,263.6 L527.0,261.9 L524.8,260.0 L523.0,258.0 L521.7,255.9 L521.0,253.6 L520.7,251.4 Z" fill="#3c3f42" stroke="#000" stroke-width="2.6" stroke-linejoin="round"/>
<circle cx="610.2" cy="116.7" r="7.1" fill="#fff"/>
<circle cx="622.4" cy="130.6" r="7.1" fill="#fff"/>
<circle cx="539.0" cy="144.6" r="7.1" fill="#fff"/>
<circle cx="574.6" cy="144.1" r="7.1" fill="#fff"/>
<circle cx="598.8" cy="144.1" r="7.1" fill="#fff"/>
<circle cx="539.0" cy="171.3" r="7.1" fill="#fff"/>
<circle cx="563.2" cy="184.5" r="7.1" fill="#fff"/>
<circle cx="586.0" cy="184.5" r="7.1" fill="#fff"/>
<circle cx="527.6" cy="198.0" r="7.1" fill="#fff"/>
<circle cx="550.5" cy="198.0" r="7.1" fill="#fff"/>
<circle cx="574.6" cy="211.4" r="7.1" fill="#fff"/>
<path d="M604.6,153.7 L604.9,156.0 L605.6,158.4 L606.9,160.6 L608.6,162.7 L610.7,164.7 L613.3,166.4 L616.2,168.0 L619.4,169.3 L622.9,170.3 L626.6,171.1 L630.4,171.5 L634.3,171.7 L638.2,171.5 L642.0,171.1 L645.7,170.3 L649.1,169.3 L652.4,168.0 L655.3,166.4 L657.9,164.7 L660.0,162.7 L661.7,160.6 L663.0,158.4 L663.7,156.0 L664.0,153.7 L664.3,151.5 L665.0,149.3 L666.3,147.2 L668.1,145.2 L670.3,143.4 L672.9,141.7 L675.9,140.2 L679.2,139.0 L682.8,138.0 L686.5,137.3 L690.4,136.8 L694.4,136.7 L698.4,136.8 L702.3,137.3 L706.0,138.0 L709.6,139.0 L712.9,140.2 L715.9,141.7 L718.5,143.4 L720.7,145.2 L722.5,147.2 L723.8,149.3 L724.5,151.5 L724.8,153.7 L724.8,291.7 L724.5,289.5 L723.8,287.3 L722.5,285.2 L720.7,283.2 L718.5,281.4 L715.9,279.7 L712.9,278.2 L709.6,277.0 L706.0,276.0 L702.3,275.3 L698.4,274.8 L694.4,274.7 L690.4,274.8 L686.5,275.3 L682.8,276.0 L679.2,277.0 L675.9,278.2 L672.9,279.7 L670.3,281.4 L668.1,283.2 L666.3,285.2 L665.0,287.3 L664.3,289.5 L664.0,291.7 L663.7,294.0 L663.0,296.4 L661.7,298.6 L660.0,300.7 L657.9,302.7 L655.3,304.4 L652.4,306.0 L649.1,307.3 L645.7,308.3 L642.0,309.1 L638.2,309.5 L634.3,309.7 L630.4,309.5 L626.6,309.1 L622.9,308.3 L619.4,307.3 L616.2,306.0 L613.3,304.4 L610.7,302.7 L608.6,300.7 L606.9,298.6 L605.6,296.4 L604.9,294.0 L604.6,291.7 Z" fill="#3c3f42" stroke="#000" stroke-width="2.6" stroke-linejoin="round"/>
<circle cx="610.7" cy="170.8" r="7.1" fill="#fff"/>
<circle cx="650.8" cy="184.5" r="7.1" fill="#fff"/>
<circle cx="670.6" cy="170.8" r="7.1" fill="#fff"/>
<circle cx="634.3" cy="198.0" r="7.1" fill="#fff"/>
<circle cx="671.1" cy="211.4" r="7.1" fill="#fff"/>
<circle cx="610.7" cy="224.6" r="7.1" fill="#fff"/>
<circle cx="634.3" cy="224.6" r="7.1" fill="#fff"/>
<circle cx="671.1" cy="237.3" r="7.1" fill="#fff"/>
<circle cx="658.4" cy="264.5" r="7.1" fill="#fff"/>
<path d="M700.0,140.5 L700.3,142.7 L701.0,144.9 L702.3,147.0 L704.1,149.0 L706.3,150.8 L708.9,152.5 L711.9,154.0 L715.2,155.2 L718.7,156.2 L722.5,156.9 L726.4,157.4 L730.4,157.5 L734.3,157.4 L738.2,156.9 L742.0,156.2 L745.5,155.2 L748.8,154.0 L751.8,152.5 L754.4,150.8 L756.6,149.0 L758.4,147.0 L759.7,144.9 L760.4,142.7 L760.7,140.5 L760.9,138.3 L761.7,136.1 L762.8,134.0 L764.5,132.0 L766.5,130.2 L768.9,128.5 L771.7,127.0 L774.8,125.8 L778.1,124.8 L781.6,124.1 L785.2,123.6 L788.9,123.5 L792.5,123.6 L796.1,124.1 L799.6,124.8 L802.9,125.8 L806.0,127.0 L808.8,128.5 L811.2,130.2 L813.2,132.0 L814.9,134.0 L816.0,136.1 L816.8,138.3 L817.0,140.5 L817.0,280.5 L816.8,278.3 L816.0,276.1 L814.9,274.0 L813.2,272.0 L811.2,270.2 L808.8,268.5 L806.0,267.0 L802.9,265.8 L799.6,264.8 L796.1,264.1 L792.5,263.6 L788.9,263.5 L785.2,263.6 L781.6,264.1 L778.1,264.8 L774.8,265.8 L771.7,267.0 L768.9,268.5 L766.5,270.2 L764.5,272.0 L762.8,274.0 L761.7,276.1 L760.9,278.3 L760.7,280.5 L760.4,282.7 L759.7,284.9 L758.4,287.0 L756.6,289.0 L754.4,290.8 L751.8,292.5 L748.8,294.0 L745.5,295.2 L742.0,296.2 L738.2,296.9 L734.3,297.4 L730.4,297.5 L726.4,297.4 L722.5,296.9 L718.7,296.2 L715.2,295.2 L711.9,294.0 L708.9,292.5 L706.3,290.8 L704.1,289.0 L702.3,287.0 L701.0,284.9 L700.3,282.7 L700.0,280.5 Z" fill="#3c3f42" stroke="#000" stroke-width="2.6" stroke-linejoin="round"/>
<circle cx="706.7" cy="170.8" r="7.1" fill="#fff"/>
<circle cx="742.2" cy="184.5" r="7.1" fill="#fff"/>
<circle cx="718.1" cy="198.0" r="7.1" fill="#fff"/>
<circle cx="766.4" cy="198.0" r="7.1" fill="#fff"/>
<circle cx="766.4" cy="157.3" r="7.1" fill="#fff"/>
<circle cx="729.5" cy="224.6" r="7.1" fill="#fff"/>
<circle cx="766.4" cy="224.6" r="7.1" fill="#fff"/>
<circle cx="729.5" cy="251.3" r="7.1" fill="#fff"/>
<circle cx="753.7" cy="265.3" r="7.1" fill="#fff"/>
<path d="M796.8,140.8 L797.1,142.9 L797.8,145.0 L799.1,147.0 L800.9,148.9 L803.1,150.7 L805.8,152.3 L808.8,153.7 L812.1,154.8 L815.7,155.8 L819.5,156.4 L823.4,156.9 L827.4,157.0 L831.4,156.9 L835.3,156.4 L839.1,155.8 L842.7,154.8 L846.0,153.7 L849.0,152.3 L851.7,150.7 L853.9,148.9 L855.7,147.0 L857.0,145.0 L857.7,142.9 L858.0,140.8 L858.2,138.5 L859.0,136.2 L860.2,134.0 L861.9,131.9 L864.0,130.0 L866.5,128.2 L869.3,126.7 L872.5,125.4 L875.9,124.4 L879.5,123.6 L883.2,123.2 L887.0,123.0 L890.8,123.2 L894.5,123.6 L898.1,124.4 L901.5,125.4 L904.7,126.7 L907.5,128.2 L910.0,130.0 L912.1,131.9 L913.8,134.0 L915.0,136.2 L915.8,138.5 L916.0,140.8 L916.0,281.8 L915.8,279.5 L915.0,277.2 L913.8,275.0 L912.1,272.9 L910.0,271.0 L907.5,269.2 L904.7,267.7 L901.5,266.4 L898.1,265.4 L894.5,264.6 L890.8,264.2 L887.0,264.0 L883.2,264.2 L879.5,264.6 L875.9,265.4 L872.5,266.4 L869.3,267.7 L866.5,269.2 L864.0,271.0 L861.9,272.9 L860.2,275.0 L859.0,277.2 L858.2,279.5 L858.0,281.8 L857.7,283.9 L857.0,286.0 L855.7,288.0 L853.9,289.9 L851.7,291.7 L849.0,293.3 L846.0,294.7 L842.7,295.8 L839.1,296.8 L835.3,297.4 L831.4,297.9 L827.4,298.0 L823.4,297.9 L819.5,297.4 L815.7,296.8 L812.1,295.8 L808.8,294.7 L805.8,293.3 L803.1,291.7 L800.9,289.9 L799.1,288.0 L797.8,286.0 L797.1,283.9 L796.8,281.8 Z" fill="#3c3f42" stroke="#000" stroke-width="2.6" stroke-linejoin="round"/>
<circle cx="885.7" cy="144.6" r="7.1" fill="#fff"/>
<circle cx="909.9" cy="157.3" r="7.1" fill="#fff"/>
<circle cx="838.8" cy="170.8" r="7.1" fill="#fff"/>
<circle cx="861.6" cy="170.8" r="7.1" fill="#fff"/>
<circle cx="885.7" cy="170.8" r="7.1" fill="#fff"/>
<circle cx="814.6" cy="184.5" r="7.1" fill="#fff"/>
<circle cx="861.6" cy="198.0" r="7.1" fill="#fff"/>
<circle cx="898.4" cy="198.0" r="7.1" fill="#fff"/>
<circle cx="838.8" cy="211.4" r="7.1" fill="#fff"/>
<circle cx="874.3" cy="218.3" r="7.1" fill="#fff"/>
<circle cx="814.6" cy="224.6" r="7.1" fill="#fff"/>
<circle cx="850.2" cy="237.3" r="7.1" fill="#fff"/>
<circle cx="885.7" cy="237.3" r="7.1" fill="#fff"/>
<circle cx="828.6" cy="243.7" r="7.1" fill="#fff"/>
<circle cx="898.4" cy="251.3" r="7.1" fill="#fff"/>
<path d="M460.8,248.0 L461.1,250.2 L461.8,252.3 L463.0,254.4 L464.7,256.4 L466.9,258.2 L469.4,259.9 L472.3,261.3 L475.5,262.5 L478.9,263.5 L482.6,264.2 L486.4,264.7 L490.2,264.8 L494.0,264.7 L497.8,264.2 L501.5,263.5 L504.9,262.5 L508.1,261.3 L511.0,259.9 L513.5,258.2 L515.7,256.4 L517.4,254.4 L518.6,252.3 L519.3,250.2 L519.6,248.0 L519.9,246.0 L520.6,244.1 L521.9,242.3 L523.6,240.5 L525.8,238.9 L528.4,237.4 L531.4,236.1 L534.7,235.0 L538.2,234.1 L541.9,233.5 L545.8,233.1 L549.7,233.0 L553.6,233.1 L557.5,233.5 L561.2,234.1 L564.8,235.0 L568.0,236.1 L571.0,237.4 L573.6,238.9 L575.8,240.5 L577.5,242.3 L578.8,244.1 L579.5,246.0 L579.8,248.0 L579.8,386.0 L579.5,384.1 L578.8,382.2 L577.5,380.4 L575.8,378.7 L573.6,377.1 L571.0,375.8 L568.0,374.6 L564.8,373.6 L561.2,372.9 L557.5,372.4 L553.6,372.2 L549.7,372.3 L545.8,372.6 L541.9,373.1 L538.2,373.9 L534.7,374.9 L531.4,376.1 L528.4,377.6 L525.8,379.1 L523.6,380.9 L521.9,382.7 L520.6,384.6 L519.9,386.6 L519.6,388.5 L519.3,390.7 L518.6,392.9 L517.4,395.1 L515.7,397.1 L513.5,399.0 L511.0,400.8 L508.1,402.3 L504.9,403.7 L501.5,404.8 L497.8,405.7 L494.0,406.3 L490.2,406.6 L486.4,406.6 L482.6,406.3 L478.9,405.8 L475.5,404.9 L472.3,403.8 L469.4,402.5 L466.9,401.0 L464.7,399.2 L463.0,397.3 L461.8,395.3 L461.1,393.2 L460.8,391.0 Z" fill="#3c3f42" stroke="#000" stroke-width="2.6" stroke-linejoin="round"/>
<circle cx="466.8" cy="278.3" r="7.1" fill="#fff"/>
<circle cx="502.8" cy="278.3" r="7.1" fill="#fff"/>
<circle cx="479.2" cy="317.6" r="7.1" fill="#fff"/>
<circle cx="515.1" cy="317.6" r="7.1" fill="#fff"/>
<circle cx="479.2" cy="358.0" r="7.1" fill="#fff"/>
<circle cx="502.8" cy="358.0" r="7.1" fill="#fff"/>
<circle cx="562.3" cy="251.3" r="7.1" fill="#fff"/>
<circle cx="538.7" cy="264.8" r="7.1" fill="#fff"/>
<path d="M533.5,273.8 L533.8,276.0 L534.5,278.1 L535.8,280.2 L537.5,282.1 L539.7,283.9 L542.3,285.5 L545.3,286.9 L548.5,288.1 L552.1,289.0 L555.8,289.6 L559.7,289.9 L563.6,290.0 L567.5,289.8 L571.4,289.3 L575.1,288.5 L578.6,287.5 L581.9,286.2 L584.9,284.7 L587.5,283.0 L589.7,281.1 L591.4,279.1 L592.7,277.0 L593.4,274.8 L593.7,272.6 L593.9,270.6 L594.7,268.5 L595.9,266.5 L597.5,264.6 L599.6,262.9 L602.1,261.3 L604.9,259.9 L608.0,258.7 L611.4,257.7 L614.9,256.9 L618.6,256.5 L622.4,256.3 L626.1,256.3 L629.8,256.7 L633.3,257.2 L636.7,258.1 L639.8,259.2 L642.6,260.5 L645.1,262.0 L647.2,263.7 L648.8,265.5 L650.0,267.4 L650.8,269.4 L651.0,271.5 L651.0,407.0 L650.8,405.0 L650.0,403.0 L648.8,401.2 L647.2,399.5 L645.1,398.0 L642.6,396.7 L639.8,395.6 L636.7,394.8 L633.3,394.2 L629.8,393.9 L626.1,393.8 L622.4,394.1 L618.6,394.6 L614.9,395.4 L611.4,396.4 L608.0,397.6 L604.9,399.1 L602.1,400.7 L599.6,402.5 L597.5,404.5 L595.9,406.5 L594.7,408.6 L593.9,410.7 L593.7,412.8 L593.4,415.0 L592.7,417.2 L591.4,419.4 L589.7,421.6 L587.5,423.6 L584.9,425.5 L581.9,427.3 L578.6,428.8 L575.1,430.1 L571.4,431.2 L567.5,432.0 L563.6,432.6 L559.7,432.8 L555.8,432.8 L552.1,432.5 L548.5,431.8 L545.3,430.9 L542.3,429.8 L539.7,428.4 L537.5,426.8 L535.8,425.0 L534.5,423.0 L533.8,421.0 L533.5,418.8 Z" fill="#3c3f42" stroke="#000" stroke-width="2.6" stroke-linejoin="round"/>
<circle cx="623.0" cy="278.3" r="7.1" fill="#fff"/>
<circle cx="551.1" cy="304.1" r="7.1" fill="#fff"/>
<circle cx="598.2" cy="304.1" r="7.1" fill="#fff"/>
<circle cx="623.0" cy="317.6" r="7.1" fill="#fff"/>
<circle cx="551.1" cy="331.0" r="7.1" fill="#fff"/>
<circle cx="574.7" cy="331.0" r="7.1" fill="#fff"/>
<circle cx="610.6" cy="345.7" r="7.1" fill="#fff"/>
<circle cx="551.1" cy="371.5" r="7.1" fill="#fff"/>
<circle cx="585.9" cy="371.5" r="7.1" fill="#fff"/>
<circle cx="623.0" cy="385.0" r="7.1" fill="#fff"/>
<circle cx="551.1" cy="411.9" r="7.1" fill="#fff"/>
<path d="M652.4,276.0 L652.7,278.1 L653.4,280.1 L654.7,282.0 L656.5,283.9 L658.8,285.6 L661.4,287.2 L664.5,288.5 L667.8,289.7 L671.4,290.6 L675.2,291.3 L679.2,291.7 L683.2,291.8 L687.2,291.7 L691.2,291.3 L695.0,290.6 L698.6,289.7 L701.9,288.5 L705.0,287.2 L707.6,285.6 L709.9,283.9 L711.7,282.0 L713.0,280.1 L713.7,278.1 L714.0,276.0 L714.1,273.7 L714.6,271.3 L715.3,269.1 L716.3,267.0 L717.6,265.0 L719.1,263.3 L720.8,261.7 L722.8,260.4 L724.8,259.4 L727.0,258.6 L729.2,258.2 L731.5,258.0 L733.8,258.2 L736.0,258.6 L738.2,259.4 L740.2,260.4 L742.2,261.7 L743.9,263.3 L745.4,265.0 L746.7,267.0 L747.7,269.1 L748.4,271.3 L748.9,273.7 L749.0,276.0 L749.0,414.0 L748.9,411.6 L748.4,409.3 L747.7,407.1 L746.7,404.9 L745.4,402.9 L743.9,401.1 L742.2,399.5 L740.2,398.1 L738.2,397.0 L736.0,396.1 L733.8,395.6 L731.5,395.4 L729.2,395.4 L727.0,395.8 L724.8,396.5 L722.8,397.5 L720.8,398.7 L719.1,400.2 L717.6,401.9 L716.3,403.8 L715.3,405.9 L714.6,408.1 L714.1,410.4 L714.0,412.7 L713.7,414.8 L713.0,416.8 L711.7,418.7 L709.9,420.5 L707.6,422.1 L705.0,423.6 L701.9,424.8 L698.6,425.9 L695.0,426.6 L691.2,427.2 L687.2,427.4 L683.2,427.4 L679.2,427.1 L675.2,426.6 L671.4,425.8 L667.8,424.7 L664.5,423.5 L661.4,422.0 L658.8,420.3 L656.5,418.5 L654.7,416.6 L653.4,414.6 L652.7,412.6 L652.4,410.5 Z" fill="#3c3f42" stroke="#000" stroke-width="2.6" stroke-linejoin="round"/>
<circle cx="731.0" cy="278.3" r="7.1" fill="#fff"/>
<circle cx="695.0" cy="304.1" r="7.1" fill="#fff"/>
<circle cx="670.3" cy="317.6" r="7.1" fill="#fff"/>
<circle cx="718.6" cy="317.6" r="7.1" fill="#fff"/>
<circle cx="695.0" cy="333.3" r="7.1" fill="#fff"/>
<circle cx="695.0" cy="358.0" r="7.1" fill="#fff"/>
<circle cx="718.6" cy="358.0" r="7.1" fill="#fff"/>
<circle cx="670.3" cy="371.5" r="7.1" fill="#fff"/>
<circle cx="670.3" cy="398.5" r="7.1" fill="#fff"/>
<circle cx="695.0" cy="398.5" r="7.1" fill="#fff"/>
<path d="M749.0,278.0 L749.2,279.9 L750.0,281.8 L751.2,283.5 L752.8,285.2 L754.9,286.8 L757.3,288.3 L760.2,289.5 L763.2,290.6 L766.6,291.4 L770.1,292.0 L773.8,292.4 L777.5,292.5 L781.2,292.4 L784.9,292.0 L788.4,291.4 L791.8,290.6 L794.8,289.5 L797.7,288.3 L800.1,286.8 L802.2,285.2 L803.8,283.5 L805.0,281.8 L805.8,279.9 L806.0,278.0 L806.3,275.4 L807.0,272.8 L808.3,270.3 L810.1,268.0 L812.3,265.8 L814.9,263.9 L817.9,262.1 L821.2,260.7 L824.8,259.5 L828.5,258.7 L832.4,258.2 L836.4,258.0 L840.4,258.2 L844.3,258.7 L848.0,259.5 L851.6,260.7 L854.9,262.1 L857.9,263.9 L860.5,265.8 L862.7,268.0 L864.5,270.3 L865.8,272.8 L866.5,275.4 L866.8,278.0 L866.8,416.0 L866.5,413.4 L865.8,410.8 L864.5,408.3 L862.7,406.0 L860.5,403.8 L857.9,401.8 L854.9,400.0 L851.6,398.6 L848.0,397.4 L844.3,396.5 L840.4,395.9 L836.4,395.7 L832.4,395.9 L828.5,396.4 L824.8,397.2 L821.2,398.3 L817.9,399.7 L814.9,401.4 L812.3,403.4 L810.1,405.5 L808.3,407.8 L807.0,410.3 L806.3,412.9 L806.0,415.5 L805.8,417.4 L805.0,419.2 L803.8,421.0 L802.2,422.7 L800.1,424.3 L797.7,425.7 L794.8,426.9 L791.8,427.9 L788.4,428.7 L784.9,429.3 L781.2,429.6 L777.5,429.7 L773.8,429.6 L770.1,429.2 L766.6,428.5 L763.2,427.7 L760.2,426.6 L757.3,425.3 L754.9,423.9 L752.8,422.3 L751.2,420.6 L750.0,418.8 L749.2,416.9 L749.0,415.0 Z" fill="#3c3f42" stroke="#000" stroke-width="2.6" stroke-linejoin="round"/>
<circle cx="850.0" cy="277.2" r="7.1" fill="#fff"/>
<circle cx="826.4" cy="291.8" r="7.1" fill="#fff"/>
<circle cx="790.5" cy="304.1" r="7.1" fill="#fff"/>
<circle cx="766.9" cy="317.6" r="7.1" fill="#fff"/>
<circle cx="814.1" cy="317.6" r="7.1" fill="#fff"/>
<circle cx="850.0" cy="317.6" r="7.1" fill="#fff"/>
<circle cx="838.8" cy="340.0" r="7.1" fill="#fff"/>
<circle cx="766.9" cy="344.5" r="7.1" fill="#fff"/>
<circle cx="790.5" cy="344.5" r="7.1" fill="#fff"/>
<circle cx="826.4" cy="358.0" r="7.1" fill="#fff"/>
<circle cx="766.9" cy="371.5" r="7.1" fill="#fff"/>
<circle cx="801.7" cy="371.5" r="7.1" fill="#fff"/>
<circle cx="850.0" cy="371.5" r="7.1" fill="#fff"/>
<circle cx="790.5" cy="385.0" r="7.1" fill="#fff"/>
<circle cx="778.1" cy="411.9" r="7.1" fill="#fff"/>
<line x1="596.3" y1="67" x2="596.3" y2="258" stroke="#c64ca8" stroke-width="2.8"/>
<polyline points="589.8,78 596.3,67 602.8,78" fill="none" stroke="#c64ca8" stroke-width="2.8" stroke-linejoin="miter"/>
<polyline points="589.8,247 596.3,258 602.8,247" fill="none" stroke="#c64ca8" stroke-width="2.8" stroke-linejoin="miter"/>
<line x1="690.1" y1="90.3" x2="690.1" y2="282" stroke="#c64ca8" stroke-width="2.8"/>
<polyline points="683.6,101.3 690.1,90.3 696.6,101.3" fill="none" stroke="#c64ca8" stroke-width="2.8" stroke-linejoin="miter"/>
<polyline points="683.6,271 690.1,282 696.6,271" fill="none" stroke="#c64ca8" stroke-width="2.8" stroke-linejoin="miter"/>
<line x1="784.6" y1="83.4" x2="784.6" y2="273" stroke="#c64ca8" stroke-width="2.8"/>
<polyline points="778.1,94.4 784.6,83.4 791.1,94.4" fill="none" stroke="#c64ca8" stroke-width="2.8" stroke-linejoin="miter"/>
<polyline points="778.1,262 784.6,273 791.1,262" fill="none" stroke="#c64ca8" stroke-width="2.8" stroke-linejoin="miter"/>
<text x="575" y="54.5" font-family="'Liberation Sans',sans-serif" font-weight="bold" font-size="20.5" fill="#111" text-anchor="start" textLength="34" lengthAdjust="spacingAndGlyphs" stroke="#111" stroke-width="0.6">OH</text>
<rect x="610.5" y="43.5" width="4.5" height="2" fill="#111"/>
<text x="668.5" y="67.5" font-family="'Liberation Sans',sans-serif" font-weight="bold" font-size="20.5" fill="#111" text-anchor="start" textLength="34" lengthAdjust="spacingAndGlyphs" stroke="#111" stroke-width="0.6">OH</text>
<rect x="704.0" y="56.5" width="4.5" height="2" fill="#111"/>
<text x="755.5" y="67.5" font-family="'Liberation Sans',sans-serif" font-weight="bold" font-size="20.5" fill="#111" text-anchor="start" textLength="34" lengthAdjust="spacingAndGlyphs" stroke="#111" stroke-width="0.6">OH</text>
<rect x="791.0" y="56.5" width="4.5" height="2" fill="#111"/>
<text x="826" y="77.8" font-family="'Liberation Sans',sans-serif" font-weight="bold" font-size="21" fill="#111" text-anchor="start" textLength="127" lengthAdjust="spacingAndGlyphs" stroke="#111" stroke-width="0.6">mesopores</text>
<line x1="894.5" y1="89.5" x2="888.5" y2="137" stroke="#e8342c" stroke-width="3"/>
<polygon points="881.2,136 895.5,137.5 886,148.8" fill="#e8342c"/>
<text x="922.9" y="46.2" font-family="'Liberation Serif',serif" font-weight="bold" font-size="53" fill="#000" text-anchor="start" textLength="73.5" lengthAdjust="spacingAndGlyphs">(b)</text>
<line x1="488.6" y1="401" x2="488.6" y2="471.8" stroke="#e8342c" stroke-width="2.4"/>
<polygon points="483.6,409 493.6,409 488.6,400" fill="#e8342c"/>
<polygon points="483.6,463.8 493.6,463.8 488.6,472.8" fill="#e8342c"/>
<line x1="568.3" y1="416" x2="568.3" y2="471.8" stroke="#e8342c" stroke-width="3.8"/>
<polygon points="560.8,426 575.8,426 568.3,415" fill="#e8342c"/>
<polygon points="560.8,461.8 575.8,461.8 568.3,472.8" fill="#e8342c"/>
<line x1="679" y1="416" x2="679" y2="471.8" stroke="#e8342c" stroke-width="3.8"/>
<polygon points="671.5,426 686.5,426 679,415" fill="#e8342c"/>
<polygon points="671.5,461.8 686.5,461.8 679,472.8" fill="#e8342c"/>
<line x1="795.8" y1="416" x2="795.8" y2="476" stroke="#e8342c" stroke-width="3.8"/>
<polygon points="788.3,426 803.3,426 795.8,415" fill="#e8342c"/>
<polygon points="788.3,466 803.3,466 795.8,477" fill="#e8342c"/>
<text x="479" y="500.5" font-family="'Liberation Sans',sans-serif" font-weight="bold" font-size="30" fill="#111" text-anchor="start" textLength="19" lengthAdjust="spacingAndGlyphs" stroke="#111" stroke-width="0.4">e</text>
<rect x="499.5" y="484.0" width="7.5" height="2.3" fill="#111"/>
<text x="559" y="500.5" font-family="'Liberation Sans',sans-serif" font-weight="bold" font-size="30" fill="#111" text-anchor="start" textLength="19" lengthAdjust="spacingAndGlyphs" stroke="#111" stroke-width="0.4">e</text>
<rect x="579.5" y="484.0" width="7.5" height="2.3" fill="#111"/>
<text x="670.5" y="501.5" font-family="'Liberation Sans',sans-serif" font-weight="bold" font-size="30" fill="#111" text-anchor="start" textLength="19" lengthAdjust="spacingAndGlyphs" stroke="#111" stroke-width="0.4">e</text>
<rect x="691.0" y="485.0" width="7.5" height="2.3" fill="#111"/>
<text x="787.5" y="502.5" font-family="'Liberation Sans',sans-serif" font-weight="bold" font-size="30" fill="#111" text-anchor="start" textLength="19" lengthAdjust="spacingAndGlyphs" stroke="#111" stroke-width="0.4">e</text>
<rect x="808.0" y="486.0" width="7.5" height="2.3" fill="#111"/>
<rect x="70.5" y="538" width="421.0" height="330.5" fill="none" stroke="#000" stroke-width="3"/>
<line x1="70.5" y1="570.8" x2="80.5" y2="570.8" stroke="#000" stroke-width="2.6"/>
<line x1="70.5" y1="641.1" x2="80.5" y2="641.1" stroke="#000" stroke-width="2.6"/>
<line x1="70.5" y1="711.5" x2="80.5" y2="711.5" stroke="#000" stroke-width="2.6"/>
<line x1="70.5" y1="781.9" x2="80.5" y2="781.9" stroke="#000" stroke-width="2.6"/>
<line x1="70.5" y1="852.2" x2="80.5" y2="852.2" stroke="#000" stroke-width="2.6"/>
<line x1="70.5" y1="606.0" x2="76.5" y2="606.0" stroke="#000" stroke-width="2.6"/>
<line x1="70.5" y1="676.3" x2="76.5" y2="676.3" stroke="#000" stroke-width="2.6"/>
<line x1="70.5" y1="746.7" x2="76.5" y2="746.7" stroke="#000" stroke-width="2.6"/>
<line x1="70.5" y1="817.0" x2="76.5" y2="817.0" stroke="#000" stroke-width="2.6"/>
<line x1="105.4" y1="868.5" x2="105.4" y2="860.0" stroke="#000" stroke-width="2.6"/>
<line x1="175.7" y1="868.5" x2="175.7" y2="860.0" stroke="#000" stroke-width="2.6"/>
<line x1="246.0" y1="868.5" x2="246.0" y2="860.0" stroke="#000" stroke-width="2.6"/>
<line x1="316.3" y1="868.5" x2="316.3" y2="860.0" stroke="#000" stroke-width="2.6"/>
<line x1="386.6" y1="868.5" x2="386.6" y2="860.0" stroke="#000" stroke-width="2.6"/>
<line x1="456.9" y1="868.5" x2="456.9" y2="860.0" stroke="#000" stroke-width="2.6"/>
<line x1="140.6" y1="868.5" x2="140.6" y2="864.5" stroke="#000" stroke-width="2.6"/>
<line x1="210.9" y1="868.5" x2="210.9" y2="864.5" stroke="#000" stroke-width="2.6"/>
<line x1="281.1" y1="868.5" x2="281.1" y2="864.5" stroke="#000" stroke-width="2.6"/>
<line x1="351.4" y1="868.5" x2="351.4" y2="864.5" stroke="#000" stroke-width="2.6"/>
<line x1="421.8" y1="868.5" x2="421.8" y2="864.5" stroke="#000" stroke-width="2.6"/>
<text x="65.3" y="578.78" font-family="'Liberation Serif',serif" font-weight="bold" font-size="23" fill="#000" text-anchor="end"  textLength="25" lengthAdjust="spacingAndGlyphs">80</text>
<text x="65.3" y="649.14" font-family="'Liberation Serif',serif" font-weight="bold" font-size="23" fill="#000" text-anchor="end"  textLength="25" lengthAdjust="spacingAndGlyphs">40</text>
<text x="65.3" y="719.5" font-family="'Liberation Serif',serif" font-weight="bold" font-size="23" fill="#000" text-anchor="end"  textLength="12.5" lengthAdjust="spacingAndGlyphs">0</text>
<text x="65.3" y="789.86" font-family="'Liberation Serif',serif" font-weight="bold" font-size="23" fill="#000" text-anchor="end"  textLength="33" lengthAdjust="spacingAndGlyphs">-40</text>
<text x="65.3" y="860.22" font-family="'Liberation Serif',serif" font-weight="bold" font-size="23" fill="#000" text-anchor="end"  textLength="33" lengthAdjust="spacingAndGlyphs">-80</text>
<text x="105.4" y="893.2" font-family="'Liberation Serif',serif" font-weight="bold" font-size="23" fill="#000" text-anchor="middle"  textLength="31" lengthAdjust="spacingAndGlyphs">0.0</text>
<text x="175.7" y="893.2" font-family="'Liberation Serif',serif" font-weight="bold" font-size="23" fill="#000" text-anchor="middle"  textLength="31" lengthAdjust="spacingAndGlyphs">0.1</text>
<text x="246.0" y="893.2" font-family="'Liberation Serif',serif" font-weight="bold" font-size="23" fill="#000" text-anchor="middle"  textLength="31" lengthAdjust="spacingAndGlyphs">0.2</text>
<text x="316.3" y="893.2" font-family="'Liberation Serif',serif" font-weight="bold" font-size="23" fill="#000" text-anchor="middle"  textLength="31" lengthAdjust="spacingAndGlyphs">0.3</text>
<text x="386.6" y="893.2" font-family="'Liberation Serif',serif" font-weight="bold" font-size="23" fill="#000" text-anchor="middle"  textLength="31" lengthAdjust="spacingAndGlyphs">0.4</text>
<text x="456.9" y="893.2" font-family="'Liberation Serif',serif" font-weight="bold" font-size="23" fill="#000" text-anchor="middle"  textLength="31" lengthAdjust="spacingAndGlyphs">0.5</text>
<text x="288.3" y="918.3" font-family="'Liberation Serif',serif" font-weight="bold" font-size="23.5" fill="#000" text-anchor="middle"  textLength="149" lengthAdjust="spacingAndGlyphs">E (V vs. SCE)</text>
<text x="0" y="0" font-family="'Liberation Serif',serif" font-weight="bold" font-size="24" fill="#000" text-anchor="middle"  textLength="67" lengthAdjust="spacingAndGlyphs" transform="translate(31.7,698.2) scale(1.15,1) rotate(-90)">I (mA)</text>
<text x="78.6" y="583.9" font-family="'Liberation Serif',serif" font-weight="bold" font-size="54.5" fill="#000" text-anchor="start" textLength="65" lengthAdjust="spacingAndGlyphs">(c)</text>
<path d="M105.4,759.3 L105.6,758.8 L106.0,758.0 L106.7,757.0 L107.3,756.3 L108.0,755.6 L108.6,754.9 L109.3,754.3 L110.0,753.7 L110.7,753.0 L111.5,752.4 L112.2,751.8 L113.0,751.2 L113.8,750.6 L114.7,749.9 L115.5,749.3 L116.4,748.7 L117.3,748.1 L118.2,747.6 L119.2,747.0 L120.1,746.4 L121.0,745.9 L121.9,745.4 L122.8,744.9 L123.7,744.4 L124.5,744.0 L125.4,743.5 L126.2,743.1 L127.1,742.7 L127.9,742.2 L128.8,741.8 L129.7,741.4 L130.6,741.0 L131.5,740.5 L132.4,740.1 L133.3,739.7 L134.3,739.3 L135.3,738.8 L136.2,738.4 L137.2,738.0 L138.2,737.6 L139.2,737.2 L140.2,736.8 L141.2,736.4 L142.3,736.0 L143.3,735.6 L144.3,735.2 L145.3,734.9 L146.3,734.5 L147.3,734.2 L148.3,733.9 L149.3,733.5 L150.3,733.2 L151.3,732.9 L152.3,732.6 L153.2,732.4 L154.2,732.1 L155.3,731.8 L156.3,731.5 L157.3,731.2 L158.3,731.0 L159.4,730.7 L160.4,730.4 L161.5,730.2 L162.5,729.9 L163.6,729.6 L164.6,729.4 L165.7,729.1 L166.7,728.9 L167.8,728.6 L168.8,728.4 L169.9,728.1 L170.9,727.9 L171.9,727.7 L172.9,727.4 L173.9,727.2 L174.8,727.0 L175.8,726.8 L176.8,726.6 L177.7,726.3 L178.6,726.1 L179.6,725.9 L180.5,725.7 L181.5,725.5 L182.4,725.3 L183.4,725.1 L184.4,725.0 L185.4,724.8 L186.3,724.6 L187.3,724.4 L188.3,724.3 L189.2,724.1 L190.2,724.0 L191.1,723.8 L192.0,723.7 L192.9,723.5 L193.8,723.4 L194.7,723.3 L195.6,723.1 L196.5,722.9 L197.4,722.8 L198.4,722.6 L199.3,722.4 L200.2,722.2 L201.1,722.0 L202.1,721.7 L203.0,721.5 L204.0,721.3 L204.9,721.0 L205.8,720.8 L206.8,720.5 L207.8,720.3 L208.7,720.0 L209.7,719.8 L210.7,719.5 L211.7,719.2 L212.7,718.9 L213.7,718.6 L214.8,718.3 L215.8,718.1 L216.8,717.8 L217.8,717.5 L218.9,717.2 L219.9,716.9 L220.9,716.6 L221.9,716.3 L223.0,716.0 L224.0,715.7 L225.0,715.4 L226.0,715.1 L227.0,714.8 L228.0,714.6 L229.0,714.3 L230.0,714.0 L231.0,713.7 L232.0,713.4 L233.0,713.1 L234.0,712.8 L235.0,712.5 L236.1,712.2 L237.1,712.0 L238.1,711.7 L239.1,711.4 L240.1,711.1 L241.1,710.8 L242.1,710.5 L243.1,710.2 L244.1,709.9 L245.0,709.6 L246.0,709.3 L247.0,709.0 L248.0,708.7 L248.9,708.4 L249.9,708.2 L250.8,707.9 L251.8,707.6 L252.8,707.3 L253.7,707.0 L254.7,706.7 L255.7,706.4 L256.7,706.0 L257.7,705.7 L258.7,705.4 L259.7,705.1 L260.7,704.8 L261.7,704.5 L262.7,704.1 L263.7,703.8 L264.6,703.5 L265.6,703.2 L266.6,702.8 L267.5,702.5 L268.4,702.2 L269.4,701.8 L270.3,701.5 L271.2,701.1 L272.1,700.7 L273.0,700.4 L273.9,700.0 L274.8,699.6 L275.7,699.1 L276.5,698.7 L277.4,698.2 L278.3,697.7 L279.2,697.3 L280.1,696.8 L280.9,696.2 L281.8,695.7 L282.7,695.2 L283.5,694.6 L284.3,694.0 L285.2,693.5 L286.0,692.9 L286.8,692.3 L287.6,691.7 L288.4,691.1 L289.3,690.4 L290.1,689.8 L290.9,689.2 L291.7,688.5 L292.5,687.9 L293.3,687.2 L294.1,686.6 L294.9,685.9 L295.7,685.2 L296.5,684.5 L297.3,683.8 L298.1,683.2 L298.8,682.4 L299.6,681.7 L300.4,681.0 L301.2,680.3 L301.9,679.6 L302.7,678.8 L303.4,678.1 L304.2,677.3 L304.9,676.6 L305.6,675.9 L306.3,675.1 L307.0,674.3 L307.7,673.6 L308.3,672.8 L309.0,672.1 L309.6,671.3 L310.2,670.5 L310.8,669.8 L311.4,669.0 L312.0,668.2 L312.6,667.4 L313.2,666.6 L313.8,665.8 L314.4,665.0 L315.0,664.2 L315.6,663.4 L316.2,662.5 L316.8,661.7 L317.4,660.9 L318.1,660.0 L318.7,659.2 L319.3,658.4 L320.0,657.6 L320.6,656.8 L321.2,656.0 L321.8,655.2 L322.5,654.4 L323.1,653.7 L323.7,652.9 L324.4,652.1 L325.0,651.3 L325.7,650.5 L326.3,649.7 L327.0,648.9 L327.7,648.1 L328.4,647.3 L329.0,646.5 L329.7,645.7 L330.4,644.9 L331.1,644.1 L331.7,643.2 L332.4,642.4 L333.1,641.6 L333.7,640.8 L334.4,640.0 L335.0,639.2 L335.7,638.4 L336.3,637.6 L337.0,636.8 L337.6,636.0 L338.3,635.2 L338.9,634.4 L339.5,633.6 L340.1,632.8 L340.8,632.0 L341.4,631.2 L342.0,630.3 L342.6,629.5 L343.2,628.7 L343.8,627.9 L344.4,627.1 L345.0,626.2 L345.6,625.4 L346.2,624.6 L346.8,623.8 L347.4,623.0 L348.0,622.3 L348.6,621.5 L349.2,620.7 L349.8,619.9 L350.4,619.1 L351.0,618.4 L351.7,617.6 L352.3,616.9 L353.0,616.1 L353.7,615.4 L354.4,614.6 L355.0,613.9 L355.8,613.2 L356.5,612.4 L357.2,611.7 L357.9,611.0 L358.7,610.3 L359.4,609.6 L360.2,608.9 L361.0,608.2 L361.7,607.5 L362.5,606.8 L363.3,606.1 L364.1,605.4 L364.8,604.7 L365.6,604.0 L366.4,603.4 L367.2,602.7 L368.0,602.0 L368.7,601.3 L369.5,600.6 L370.3,599.9 L371.0,599.2 L371.8,598.5 L372.5,597.8 L373.3,597.1 L374.0,596.4 L374.8,595.6 L375.5,594.9 L376.3,594.2 L377.0,593.5 L377.8,592.7 L378.5,592.0 L379.3,591.3 L380.0,590.6 L380.7,589.8 L381.5,589.1 L382.2,588.4 L382.9,587.7 L383.6,587.0 L384.4,586.2 L385.1,585.5 L385.8,584.8 L386.6,584.2 L387.3,583.5 L388.0,582.8 L388.8,582.1 L389.5,581.4 L390.3,580.7 L391.0,580.0 L391.8,579.3 L392.5,578.7 L393.3,578.0 L394.1,577.3 L394.8,576.6 L395.6,575.9 L396.4,575.3 L397.2,574.6 L397.9,574.0 L398.7,573.3 L399.5,572.7 L400.3,572.1 L401.1,571.5 L401.9,571.0 L402.7,570.4 L403.5,569.9 L404.4,569.4 L405.2,568.9 L406.1,568.4 L407.0,568.0 L407.9,567.5 L408.8,567.1 L409.8,566.8 L410.7,566.4 L411.7,566.1 L412.7,565.8 L413.7,565.5 L414.7,565.2 L415.7,564.9 L416.7,564.7 L417.7,564.5 L418.7,564.4 L419.8,564.2 L420.8,564.1 L421.8,564.0 L422.9,563.9 L423.9,563.9 L424.9,563.8 L425.9,563.8 L427.0,563.9 L428.0,563.9 L429.0,564.0 L430.0,564.1 L431.1,564.2 L432.1,564.3 L433.1,564.5 L434.1,564.7 L435.2,564.9 L436.2,565.1 L437.2,565.4 L438.2,565.6 L439.2,565.9 L440.2,566.2 L441.2,566.5 L442.1,566.8 L443.1,567.1 L444.1,567.5 L445.1,567.8 L446.1,568.2 L447.1,568.7 L448.1,569.1 L449.1,569.6 L450.1,570.1 L451.1,570.6 L452.0,571.1 L453.0,571.7 L454.0,572.3 L454.8,572.8 L455.7,573.4 L456.4,573.9 L457.1,574.3 L457.6,574.6 L457.6,574.6 L457.5,575.2 L457.4,575.9 L457.3,576.6 L457.2,577.5 L457.0,578.3 L456.9,579.3 L456.7,580.2 L456.6,581.2 L456.4,582.2 L456.3,583.3 L456.1,584.3 L455.9,585.4 L455.7,586.5 L455.5,587.6 L455.3,588.7 L455.1,589.9 L454.9,591.0 L454.7,592.2 L454.5,593.3 L454.3,594.4 L454.1,595.5 L453.9,596.6 L453.6,597.7 L453.4,598.8 L453.2,599.8 L452.9,600.9 L452.7,601.9 L452.4,602.9 L452.2,603.9 L452.0,604.9 L451.7,605.9 L451.4,606.9 L451.2,607.9 L450.9,608.9 L450.7,609.9 L450.4,610.9 L450.1,611.9 L449.8,612.9 L449.6,613.9 L449.3,614.9 L449.0,615.9 L448.7,616.9 L448.4,617.9 L448.1,618.8 L447.8,619.8 L447.5,620.8 L447.2,621.7 L446.8,622.7 L446.5,623.7 L446.2,624.6 L445.8,625.6 L445.5,626.6 L445.1,627.5 L444.8,628.5 L444.4,629.5 L444.0,630.4 L443.6,631.4 L443.2,632.4 L442.8,633.4 L442.3,634.3 L441.9,635.3 L441.5,636.2 L441.1,637.1 L440.6,638.1 L440.2,639.0 L439.8,639.9 L439.3,640.8 L438.9,641.7 L438.4,642.6 L438.0,643.5 L437.5,644.4 L437.1,645.3 L436.6,646.2 L436.2,647.1 L435.7,648.0 L435.2,648.9 L434.8,649.8 L434.3,650.7 L433.8,651.6 L433.3,652.5 L432.8,653.4 L432.3,654.3 L431.9,655.2 L431.4,656.0 L430.9,656.9 L430.4,657.8 L429.9,658.7 L429.4,659.5 L428.9,660.4 L428.4,661.2 L427.9,662.1 L427.4,662.9 L426.9,663.8 L426.4,664.7 L425.9,665.5 L425.4,666.4 L424.9,667.3 L424.4,668.2 L423.8,669.0 L423.3,669.9 L422.8,670.8 L422.3,671.7 L421.7,672.6 L421.2,673.4 L420.7,674.3 L420.2,675.2 L419.6,676.0 L419.1,676.9 L418.6,677.7 L418.0,678.6 L417.5,679.4 L417.0,680.3 L416.4,681.1 L415.9,681.9 L415.4,682.8 L414.8,683.6 L414.3,684.4 L413.7,685.3 L413.2,686.1 L412.6,686.9 L412.0,687.7 L411.4,688.6 L410.8,689.4 L410.2,690.2 L409.6,691.1 L408.9,691.9 L408.3,692.7 L407.6,693.5 L407.0,694.3 L406.3,695.1 L405.6,695.9 L405.0,696.7 L404.3,697.4 L403.6,698.2 L402.9,698.9 L402.2,699.7 L401.5,700.4 L400.8,701.1 L400.1,701.9 L399.4,702.7 L398.7,703.4 L397.9,704.2 L397.2,704.9 L396.4,705.7 L395.7,706.4 L394.9,707.2 L394.1,707.9 L393.4,708.7 L392.6,709.4 L391.8,710.1 L391.1,710.9 L390.3,711.6 L389.5,712.3 L388.7,713.0 L387.9,713.7 L387.1,714.3 L386.3,715.0 L385.5,715.7 L384.7,716.4 L383.8,717.0 L383.0,717.7 L382.2,718.3 L381.3,718.9 L380.5,719.6 L379.6,720.2 L378.8,720.8 L377.9,721.4 L377.0,722.0 L376.2,722.6 L375.3,723.1 L374.5,723.7 L373.6,724.3 L372.7,724.8 L371.9,725.4 L371.0,725.9 L370.1,726.5 L369.2,727.0 L368.3,727.5 L367.4,728.1 L366.5,728.6 L365.6,729.1 L364.6,729.6 L363.7,730.2 L362.7,730.7 L361.7,731.2 L360.7,731.7 L359.8,732.2 L358.8,732.7 L357.8,733.2 L356.9,733.6 L355.9,734.1 L355.0,734.5 L354.0,735.0 L353.1,735.4 L352.2,735.8 L351.3,736.2 L350.3,736.6 L349.4,737.0 L348.5,737.4 L347.6,737.7 L346.7,738.1 L345.8,738.4 L344.9,738.8 L344.0,739.1 L343.1,739.4 L342.1,739.7 L341.2,740.0 L340.2,740.3 L339.3,740.6 L338.3,740.9 L337.3,741.2 L336.4,741.5 L335.4,741.9 L334.4,742.2 L333.5,742.5 L332.5,742.8 L331.6,743.1 L330.6,743.4 L329.6,743.7 L328.6,744.1 L327.6,744.4 L326.6,744.7 L325.6,745.1 L324.5,745.4 L323.5,745.8 L322.4,746.1 L321.4,746.4 L320.3,746.8 L319.3,747.1 L318.2,747.5 L317.2,747.8 L316.1,748.2 L315.1,748.5 L314.1,748.8 L313.1,749.1 L312.1,749.5 L311.1,749.8 L310.1,750.1 L309.1,750.4 L308.0,750.7 L307.0,751.0 L306.0,751.3 L305.0,751.6 L304.0,751.9 L303.1,752.2 L302.1,752.5 L301.1,752.8 L300.1,753.1 L299.2,753.3 L298.2,753.6 L297.3,753.9 L296.4,754.2 L295.4,754.5 L294.5,754.8 L293.5,755.1 L292.6,755.4 L291.7,755.7 L290.7,756.0 L289.7,756.3 L288.8,756.6 L287.8,757.0 L286.8,757.3 L285.8,757.7 L284.9,758.0 L283.9,758.4 L282.9,758.8 L281.9,759.2 L280.9,759.6 L279.9,760.0 L278.9,760.4 L277.9,760.8 L276.9,761.2 L275.9,761.6 L274.9,762.0 L274.0,762.4 L273.0,762.8 L272.1,763.2 L271.1,763.7 L270.2,764.1 L269.3,764.5 L268.3,765.0 L267.4,765.4 L266.5,765.9 L265.6,766.4 L264.7,766.8 L263.8,767.3 L262.9,767.8 L262.0,768.3 L261.2,768.8 L260.3,769.3 L259.4,769.9 L258.6,770.4 L257.8,770.9 L257.0,771.4 L256.1,772.0 L255.3,772.6 L254.5,773.1 L253.7,773.7 L252.9,774.3 L252.1,774.8 L251.4,775.4 L250.6,776.0 L249.8,776.6 L249.0,777.3 L248.2,777.9 L247.5,778.5 L246.7,779.2 L245.9,779.8 L245.1,780.5 L244.4,781.1 L243.6,781.8 L242.8,782.5 L242.0,783.2 L241.3,783.8 L240.5,784.5 L239.7,785.2 L239.0,785.8 L238.2,786.5 L237.4,787.2 L236.7,787.9 L235.9,788.5 L235.1,789.2 L234.4,789.9 L233.6,790.6 L232.8,791.3 L232.1,792.0 L231.3,792.7 L230.6,793.4 L229.8,794.1 L229.1,794.8 L228.4,795.5 L227.7,796.2 L226.9,797.0 L226.2,797.7 L225.5,798.4 L224.9,799.2 L224.2,800.0 L223.5,800.7 L222.8,801.5 L222.2,802.3 L221.5,803.1 L220.9,803.9 L220.3,804.7 L219.7,805.5 L219.1,806.3 L218.5,807.1 L217.9,807.9 L217.3,808.7 L216.7,809.5 L216.1,810.3 L215.5,811.1 L214.9,811.9 L214.3,812.7 L213.7,813.5 L213.0,814.3 L212.4,815.1 L211.8,815.9 L211.2,816.7 L210.5,817.5 L209.9,818.2 L209.2,819.0 L208.6,819.8 L207.9,820.6 L207.3,821.4 L206.6,822.2 L205.9,822.9 L205.2,823.7 L204.5,824.5 L203.8,825.2 L203.0,826.0 L202.3,826.7 L201.5,827.5 L200.8,828.2 L200.0,829.0 L199.2,829.7 L198.4,830.4 L197.7,831.2 L196.9,831.9 L196.1,832.6 L195.2,833.3 L194.4,833.9 L193.6,834.6 L192.8,835.2 L191.9,835.8 L191.0,836.4 L190.1,836.9 L189.2,837.5 L188.3,838.0 L187.4,838.4 L186.4,838.9 L185.4,839.3 L184.4,839.7 L183.4,840.0 L182.4,840.3 L181.4,840.5 L180.4,840.7 L179.4,840.9 L178.4,841.0 L177.4,841.1 L176.4,841.2 L175.4,841.2 L174.5,841.1 L173.5,841.0 L172.5,840.9 L171.6,840.7 L170.7,840.4 L169.8,840.1 L168.9,839.8 L168.1,839.3 L167.2,838.9 L166.4,838.4 L165.6,837.8 L164.9,837.2 L164.2,836.5 L163.5,835.8 L162.8,835.1 L162.2,834.3 L161.6,833.5 L161.0,832.6 L160.4,831.8 L159.9,830.9 L159.4,830.0 L158.9,829.1 L158.4,828.1 L157.9,827.2 L157.4,826.2 L157.0,825.2 L156.5,824.2 L156.1,823.2 L155.6,822.2 L155.2,821.2 L154.7,820.2 L154.3,819.2 L153.9,818.2 L153.5,817.2 L153.1,816.2 L152.7,815.2 L152.3,814.2 L151.9,813.2 L151.5,812.2 L151.1,811.2 L150.7,810.2 L150.3,809.2 L149.9,808.2 L149.5,807.2 L149.1,806.3 L148.7,805.3 L148.3,804.3 L147.9,803.3 L147.5,802.4 L147.1,801.4 L146.6,800.4 L146.2,799.5 L145.8,798.5 L145.3,797.6 L144.9,796.6 L144.4,795.7 L144.0,794.8 L143.5,793.9 L143.0,793.0 L142.5,792.1 L142.0,791.2 L141.5,790.3 L141.0,789.4 L140.5,788.5 L140.0,787.6 L139.4,786.8 L138.9,785.9 L138.3,785.0 L137.8,784.2 L137.2,783.4 L136.6,782.5 L136.0,781.7 L135.4,780.9 L134.8,780.0 L134.1,779.2 L133.5,778.4 L132.8,777.6 L132.2,776.9 L131.5,776.1 L130.7,775.3 L130.0,774.6 L129.3,773.8 L128.5,773.1 L127.7,772.4 L126.9,771.7 L126.1,771.0 L125.3,770.3 L124.4,769.6 L123.6,769.0 L122.7,768.3 L121.9,767.7 L121.0,767.1 L120.1,766.5 L119.2,765.9 L118.3,765.4 L117.4,764.8 L116.5,764.3 L115.5,763.7 L114.6,763.2 L113.6,762.7 L112.6,762.2 L111.6,761.8 L110.6,761.3 L109.6,760.9 L108.6,760.5 L107.6,760.1 L106.8,759.8 L106.0,759.6 L105.4,759.3" fill="none" stroke="#c45cbf" stroke-width="3.3" stroke-linejoin="round" stroke-linecap="round"/>
<path d="M105.4,737.5 L105.7,737.2 L106.0,736.8 L106.6,736.3 L107.5,735.7 L108.5,735.2 L109.5,734.7 L110.4,734.3 L111.3,733.9 L112.2,733.5 L113.1,733.1 L114.0,732.8 L114.8,732.5 L115.7,732.2 L116.5,732.0 L117.4,731.7 L118.2,731.5 L119.0,731.2 L119.9,731.0 L120.8,730.7 L121.7,730.5 L122.6,730.2 L123.5,730.0 L124.4,729.7 L125.4,729.5 L126.4,729.2 L127.4,729.0 L128.4,728.7 L129.4,728.5 L130.5,728.2 L131.5,727.9 L132.6,727.7 L133.7,727.4 L134.8,727.2 L135.9,726.9 L137.0,726.6 L138.2,726.4 L139.3,726.1 L140.4,725.9 L141.6,725.6 L142.7,725.4 L143.8,725.1 L144.9,724.9 L146.0,724.7 L147.0,724.5 L148.0,724.3 L149.0,724.1 L150.0,723.9 L151.0,723.7 L151.9,723.5 L152.8,723.4 L153.8,723.2 L154.7,723.0 L155.6,722.8 L156.6,722.7 L157.5,722.5 L158.5,722.3 L159.4,722.2 L160.4,722.0 L161.3,721.8 L162.3,721.7 L163.3,721.5 L164.3,721.4 L165.3,721.2 L166.3,721.0 L167.3,720.9 L168.3,720.7 L169.3,720.5 L170.3,720.4 L171.4,720.2 L172.4,720.0 L173.4,719.9 L174.5,719.7 L175.5,719.5 L176.5,719.4 L177.6,719.2 L178.6,719.1 L179.7,718.9 L180.7,718.7 L181.8,718.6 L182.8,718.4 L183.9,718.2 L184.9,718.1 L186.0,717.9 L187.1,717.8 L188.1,717.6 L189.2,717.5 L190.2,717.3 L191.3,717.1 L192.3,717.0 L193.3,716.8 L194.4,716.7 L195.4,716.5 L196.5,716.4 L197.5,716.2 L198.5,716.1 L199.5,715.9 L200.6,715.8 L201.6,715.6 L202.6,715.5 L203.6,715.3 L204.7,715.2 L205.7,715.0 L206.8,714.9 L207.8,714.8 L208.9,714.6 L209.9,714.5 L211.0,714.3 L212.1,714.2 L213.1,714.1 L214.2,713.9 L215.3,713.8 L216.4,713.7 L217.5,713.5 L218.6,713.4 L219.7,713.3 L220.8,713.1 L221.8,713.0 L222.9,712.8 L224.0,712.7 L225.1,712.6 L226.2,712.4 L227.3,712.3 L228.4,712.2 L229.4,712.0 L230.5,711.9 L231.6,711.8 L232.6,711.6 L233.7,711.5 L234.7,711.4 L235.7,711.2 L236.8,711.1 L237.8,711.0 L238.8,710.9 L239.8,710.7 L240.7,710.6 L241.7,710.5 L242.7,710.3 L243.6,710.2 L244.5,710.1 L245.4,709.9 L246.3,709.8 L247.2,709.7 L248.1,709.5 L249.0,709.4 L249.9,709.3 L250.8,709.1 L251.7,708.9 L252.6,708.8 L253.6,708.6 L254.6,708.4 L255.6,708.2 L256.7,708.0 L257.8,707.7 L258.9,707.5 L260.0,707.2 L261.1,706.9 L262.2,706.7 L263.2,706.4 L264.3,706.1 L265.2,705.8 L266.2,705.5 L267.0,705.2 L267.9,704.9 L268.7,704.6 L269.5,704.3 L270.3,703.9 L271.1,703.6 L271.9,703.3 L272.6,702.9 L273.4,702.6 L274.2,702.2 L275.0,701.8 L275.8,701.4 L276.7,701.0 L277.5,700.6 L278.4,700.2 L279.2,699.7 L280.1,699.3 L281.0,698.8 L281.8,698.3 L282.7,697.8 L283.5,697.3 L284.3,696.8 L285.2,696.2 L286.0,695.7 L286.8,695.2 L287.6,694.6 L288.4,694.1 L289.3,693.5 L290.1,693.0 L290.9,692.4 L291.7,691.8 L292.5,691.3 L293.3,690.7 L294.0,690.1 L294.8,689.6 L295.6,689.0 L296.4,688.4 L297.2,687.8 L297.9,687.2 L298.7,686.6 L299.5,685.9 L300.3,685.3 L301.1,684.6 L301.9,683.9 L302.7,683.2 L303.5,682.5 L304.3,681.7 L305.1,681.0 L305.9,680.3 L306.6,679.5 L307.4,678.8 L308.1,678.1 L308.8,677.3 L309.4,676.6 L310.1,675.9 L310.8,675.2 L311.4,674.5 L312.1,673.8 L312.7,673.0 L313.4,672.3 L314.0,671.5 L314.7,670.8 L315.4,670.0 L316.0,669.2 L316.7,668.5 L317.4,667.7 L318.0,666.9 L318.7,666.1 L319.4,665.2 L320.1,664.4 L320.8,663.6 L321.4,662.8 L322.1,662.0 L322.8,661.2 L323.5,660.4 L324.1,659.6 L324.8,658.8 L325.4,658.0 L326.1,657.2 L326.8,656.4 L327.4,655.6 L328.1,654.8 L328.7,654.0 L329.4,653.2 L330.0,652.4 L330.7,651.5 L331.3,650.7 L332.0,649.9 L332.6,649.1 L333.3,648.2 L333.9,647.4 L334.6,646.5 L335.2,645.7 L335.9,644.8 L336.5,644.0 L337.2,643.2 L337.8,642.3 L338.4,641.5 L339.1,640.7 L339.7,639.8 L340.3,639.0 L341.0,638.2 L341.6,637.4 L342.2,636.6 L342.8,635.9 L343.4,635.1 L344.0,634.3 L344.6,633.6 L345.2,632.9 L345.9,632.1 L346.5,631.4 L347.1,630.7 L347.8,629.9 L348.5,629.2 L349.2,628.4 L349.9,627.7 L350.7,627.0 L351.5,626.2 L352.2,625.5 L353.0,624.7 L353.8,624.0 L354.6,623.3 L355.4,622.7 L356.3,622.0 L357.1,621.4 L357.9,620.8 L358.7,620.2 L359.5,619.7 L360.3,619.1 L361.2,618.6 L362.0,618.1 L362.9,617.5 L363.8,617.0 L364.7,616.5 L365.6,616.1 L366.5,615.6 L367.5,615.1 L368.5,614.7 L369.5,614.3 L370.4,613.9 L371.4,613.5 L372.4,613.1 L373.4,612.8 L374.4,612.5 L375.4,612.2 L376.4,611.9 L377.4,611.6 L378.4,611.4 L379.4,611.2 L380.5,611.0 L381.5,610.8 L382.5,610.7 L383.5,610.6 L384.6,610.5 L385.6,610.4 L386.6,610.4 L387.7,610.4 L388.7,610.5 L389.7,610.5 L390.7,610.6 L391.7,610.7 L392.7,610.8 L393.7,610.9 L394.6,611.1 L395.6,611.3 L396.6,611.5 L397.6,611.7 L398.5,611.9 L399.5,612.2 L400.5,612.5 L401.5,612.8 L402.5,613.2 L403.4,613.6 L404.4,614.0 L405.3,614.4 L406.3,614.9 L407.2,615.4 L408.1,615.9 L409.0,616.4 L409.8,617.0 L410.7,617.6 L411.5,618.2 L412.4,618.8 L413.2,619.4 L414.1,620.1 L414.9,620.7 L415.8,621.4 L416.6,622.1 L417.4,622.8 L418.2,623.5 L419.1,624.2 L419.9,624.9 L420.7,625.6 L421.5,626.3 L422.3,627.0 L423.1,627.7 L423.9,628.4 L424.6,629.1 L425.4,629.8 L426.2,630.6 L427.0,631.3 L427.8,632.1 L428.5,632.8 L429.3,633.6 L430.1,634.4 L430.8,635.1 L431.6,635.9 L432.3,636.6 L433.0,637.3 L433.8,638.0 L434.5,638.7 L435.3,639.4 L436.0,640.1 L436.8,640.7 L437.7,641.3 L438.5,641.9 L439.4,642.4 L440.3,643.0 L441.2,643.5 L442.2,643.9 L443.2,644.4 L444.2,644.8 L445.2,645.2 L446.2,645.6 L447.2,646.0 L448.3,646.3 L449.3,646.7 L450.4,647.0 L451.4,647.3 L452.5,647.6 L453.6,647.9 L454.8,648.3 L455.9,648.5 L456.9,648.7 L457.6,648.9 L457.6,648.9 L457.5,649.5 L457.3,650.2 L457.1,651.0 L456.9,651.9 L456.6,652.9 L456.4,653.9 L456.2,654.9 L455.9,656.0 L455.6,657.0 L455.4,658.1 L455.1,659.1 L454.8,660.2 L454.5,661.2 L454.2,662.3 L453.9,663.3 L453.6,664.4 L453.3,665.4 L453.0,666.4 L452.7,667.4 L452.3,668.4 L452.0,669.4 L451.6,670.4 L451.3,671.4 L450.9,672.4 L450.5,673.3 L450.1,674.3 L449.6,675.2 L449.2,676.1 L448.7,677.0 L448.2,677.9 L447.7,678.8 L447.2,679.6 L446.6,680.5 L446.1,681.3 L445.5,682.1 L444.9,682.9 L444.3,683.7 L443.7,684.4 L443.1,685.2 L442.4,686.0 L441.8,686.7 L441.1,687.5 L440.4,688.3 L439.7,689.0 L438.9,689.7 L438.2,690.5 L437.5,691.2 L436.7,691.9 L436.0,692.6 L435.2,693.3 L434.5,693.9 L433.7,694.6 L433.0,695.2 L432.2,695.8 L431.4,696.5 L430.7,697.1 L429.9,697.7 L429.1,698.3 L428.3,698.9 L427.5,699.5 L426.6,700.1 L425.8,700.7 L424.9,701.3 L424.1,701.9 L423.2,702.5 L422.3,703.1 L421.4,703.6 L420.4,704.2 L419.5,704.7 L418.6,705.3 L417.7,705.8 L416.8,706.3 L415.9,706.8 L415.0,707.2 L414.1,707.7 L413.3,708.1 L412.4,708.5 L411.5,708.9 L410.7,709.3 L409.8,709.7 L408.9,710.1 L408.1,710.5 L407.2,710.9 L406.3,711.3 L405.4,711.7 L404.4,712.0 L403.5,712.4 L402.6,712.8 L401.6,713.2 L400.7,713.5 L399.7,713.9 L398.7,714.3 L397.7,714.6 L396.7,715.0 L395.7,715.3 L394.7,715.7 L393.7,716.1 L392.7,716.4 L391.6,716.7 L390.6,717.1 L389.6,717.4 L388.6,717.7 L387.6,718.0 L386.6,718.4 L385.6,718.7 L384.6,719.0 L383.6,719.2 L382.6,719.5 L381.5,719.8 L380.5,720.1 L379.5,720.4 L378.5,720.7 L377.4,720.9 L376.3,721.2 L375.3,721.5 L374.2,721.8 L373.1,722.0 L372.0,722.3 L370.9,722.6 L369.8,722.8 L368.7,723.1 L367.6,723.4 L366.6,723.6 L365.5,723.9 L364.4,724.1 L363.3,724.4 L362.3,724.6 L361.2,724.9 L360.2,725.1 L359.2,725.4 L358.2,725.6 L357.2,725.8 L356.3,726.1 L355.3,726.3 L354.4,726.5 L353.5,726.7 L352.5,726.9 L351.6,727.2 L350.7,727.4 L349.8,727.6 L348.9,727.8 L347.9,728.1 L347.0,728.3 L346.0,728.6 L345.1,728.8 L344.1,729.0 L343.2,729.3 L342.3,729.5 L341.4,729.7 L340.5,729.9 L339.6,730.1 L338.8,730.3 L337.9,730.5 L337.0,730.7 L336.1,730.9 L335.1,731.1 L334.2,731.3 L333.3,731.4 L332.3,731.6 L331.3,731.8 L330.3,731.9 L329.3,732.1 L328.3,732.3 L327.2,732.4 L326.2,732.6 L325.1,732.8 L324.0,732.9 L322.9,733.1 L321.9,733.3 L320.8,733.5 L319.7,733.6 L318.6,733.8 L317.5,734.0 L316.4,734.2 L315.3,734.4 L314.3,734.5 L313.2,734.7 L312.2,734.9 L311.1,735.1 L310.1,735.3 L309.0,735.5 L308.0,735.7 L306.9,735.9 L305.9,736.1 L304.8,736.3 L303.8,736.5 L302.8,736.7 L301.7,736.9 L300.7,737.2 L299.7,737.4 L298.7,737.6 L297.7,737.8 L296.7,738.1 L295.8,738.3 L294.8,738.6 L293.8,738.8 L292.8,739.1 L291.8,739.4 L290.8,739.7 L289.9,740.0 L288.9,740.3 L287.9,740.6 L286.9,740.9 L285.9,741.3 L284.9,741.6 L283.9,742.0 L282.9,742.4 L281.9,742.8 L280.9,743.1 L279.9,743.5 L278.9,743.9 L277.9,744.3 L276.9,744.7 L275.9,745.2 L274.9,745.6 L274.0,746.0 L273.0,746.4 L272.1,746.8 L271.1,747.3 L270.2,747.7 L269.3,748.1 L268.3,748.6 L267.4,749.0 L266.5,749.5 L265.6,749.9 L264.7,750.4 L263.8,750.9 L262.9,751.3 L262.0,751.8 L261.2,752.3 L260.3,752.8 L259.5,753.3 L258.6,753.8 L257.8,754.4 L257.0,754.9 L256.2,755.5 L255.4,756.0 L254.6,756.6 L253.8,757.2 L253.0,757.8 L252.3,758.4 L251.5,759.0 L250.7,759.7 L250.0,760.3 L249.2,761.0 L248.5,761.7 L247.8,762.4 L247.0,763.0 L246.3,763.7 L245.6,764.4 L244.8,765.2 L244.1,765.9 L243.4,766.6 L242.6,767.3 L241.9,768.1 L241.2,768.8 L240.5,769.5 L239.8,770.3 L239.1,771.0 L238.4,771.7 L237.7,772.5 L237.0,773.2 L236.3,774.0 L235.6,774.7 L234.9,775.5 L234.2,776.3 L233.5,777.0 L232.8,777.8 L232.1,778.6 L231.4,779.3 L230.7,780.1 L229.9,780.9 L229.2,781.6 L228.5,782.4 L227.8,783.1 L227.1,783.9 L226.3,784.6 L225.6,785.4 L224.9,786.1 L224.1,786.8 L223.4,787.6 L222.7,788.3 L221.9,789.0 L221.2,789.8 L220.4,790.5 L219.7,791.2 L218.9,791.9 L218.2,792.6 L217.4,793.3 L216.7,794.0 L215.9,794.7 L215.2,795.3 L214.4,796.0 L213.6,796.6 L212.8,797.2 L212.0,797.8 L211.2,798.4 L210.4,799.0 L209.5,799.6 L208.6,800.2 L207.7,800.7 L206.8,801.2 L205.9,801.8 L205.0,802.2 L204.0,802.7 L203.1,803.1 L202.2,803.4 L201.2,803.7 L200.3,804.0 L199.4,804.1 L198.5,804.3 L197.6,804.3 L196.7,804.3 L195.8,804.2 L194.9,804.0 L194.0,803.8 L193.1,803.5 L192.2,803.1 L191.4,802.6 L190.5,802.1 L189.7,801.5 L188.9,800.9 L188.2,800.3 L187.4,799.6 L186.7,798.9 L186.0,798.1 L185.4,797.4 L184.7,796.6 L184.1,795.7 L183.5,794.9 L183.0,794.1 L182.4,793.2 L181.9,792.3 L181.3,791.4 L180.8,790.5 L180.3,789.6 L179.7,788.7 L179.2,787.8 L178.7,786.8 L178.2,785.9 L177.7,785.0 L177.2,784.1 L176.7,783.2 L176.2,782.3 L175.7,781.4 L175.2,780.5 L174.7,779.6 L174.2,778.7 L173.7,777.8 L173.2,776.9 L172.7,776.1 L172.2,775.2 L171.7,774.3 L171.2,773.4 L170.7,772.6 L170.2,771.7 L169.6,770.9 L169.1,770.0 L168.5,769.2 L167.9,768.3 L167.3,767.5 L166.8,766.7 L166.1,765.9 L165.5,765.1 L164.9,764.3 L164.3,763.5 L163.6,762.7 L163.0,762.0 L162.3,761.2 L161.6,760.5 L160.9,759.8 L160.2,759.1 L159.5,758.4 L158.8,757.7 L158.0,757.0 L157.3,756.4 L156.5,755.7 L155.7,755.1 L154.9,754.5 L154.1,753.9 L153.3,753.3 L152.5,752.8 L151.6,752.2 L150.8,751.7 L149.9,751.2 L149.0,750.7 L148.1,750.2 L147.1,749.7 L146.2,749.3 L145.2,748.8 L144.3,748.4 L143.3,748.0 L142.4,747.6 L141.4,747.3 L140.4,747.0 L139.5,746.6 L138.5,746.3 L137.5,746.0 L136.5,745.7 L135.5,745.5 L134.5,745.2 L133.4,744.9 L132.4,744.6 L131.4,744.4 L130.4,744.1 L129.3,743.9 L128.3,743.6 L127.3,743.4 L126.3,743.1 L125.3,742.8 L124.2,742.6 L123.2,742.3 L122.1,742.0 L121.1,741.8 L120.0,741.5 L118.9,741.2 L117.8,740.9 L116.7,740.6 L115.6,740.3 L114.6,740.0 L113.5,739.7 L112.4,739.4 L111.3,739.1 L110.3,738.9 L109.3,738.6 L108.4,738.3 L107.5,738.1 L106.7,737.9 L106.0,737.7 L105.4,737.5" fill="none" stroke="#1f8c3d" stroke-width="3.3" stroke-linejoin="round" stroke-linecap="round"/>
<path d="M105.4,727.0 L105.9,726.8 L106.5,726.7 L107.1,726.5 L107.8,726.3 L108.4,726.1 L109.2,725.9 L110.0,725.6 L110.8,725.4 L111.6,725.1 L112.5,724.9 L113.4,724.6 L114.3,724.4 L115.3,724.1 L116.3,723.8 L117.4,723.6 L118.5,723.3 L119.6,723.0 L120.7,722.7 L121.9,722.5 L123.1,722.2 L124.3,722.0 L125.5,721.7 L126.7,721.5 L127.8,721.3 L128.9,721.1 L130.0,720.9 L131.1,720.7 L132.1,720.6 L133.1,720.4 L134.1,720.3 L135.0,720.1 L136.0,720.0 L137.0,719.9 L137.9,719.7 L138.9,719.6 L139.9,719.5 L140.9,719.3 L141.9,719.2 L143.0,719.1 L144.0,719.0 L145.1,718.8 L146.2,718.7 L147.3,718.6 L148.4,718.4 L149.5,718.3 L150.6,718.2 L151.7,718.1 L152.9,717.9 L154.0,717.8 L155.1,717.7 L156.3,717.6 L157.4,717.4 L158.5,717.3 L159.7,717.2 L160.8,717.1 L161.9,716.9 L163.0,716.8 L164.1,716.7 L165.2,716.6 L166.3,716.5 L167.4,716.3 L168.4,716.2 L169.4,716.1 L170.5,716.0 L171.5,715.9 L172.5,715.8 L173.4,715.7 L174.4,715.6 L175.3,715.5 L176.3,715.4 L177.2,715.3 L178.1,715.2 L179.0,715.1 L180.0,715.0 L180.9,714.9 L181.9,714.7 L182.9,714.6 L183.9,714.5 L184.9,714.4 L186.0,714.3 L187.0,714.1 L188.0,714.0 L188.9,713.9 L189.9,713.8 L190.8,713.7 L191.7,713.6 L192.6,713.5 L193.4,713.4 L194.3,713.3 L195.2,713.2 L196.1,713.1 L197.0,713.0 L198.0,712.9 L199.0,712.8 L199.9,712.7 L200.9,712.6 L201.8,712.5 L202.8,712.5 L203.8,712.4 L204.7,712.3 L205.7,712.2 L206.7,712.1 L207.7,712.0 L208.7,711.9 L209.7,711.9 L210.8,711.8 L211.9,711.7 L212.9,711.6 L214.0,711.5 L215.1,711.4 L216.3,711.3 L217.4,711.2 L218.5,711.1 L219.6,711.1 L220.8,711.0 L221.9,710.9 L223.0,710.8 L224.2,710.7 L225.3,710.6 L226.4,710.5 L227.5,710.4 L228.6,710.3 L229.7,710.3 L230.7,710.2 L231.8,710.1 L232.8,710.0 L233.8,709.9 L234.8,709.9 L235.8,709.8 L236.8,709.7 L237.8,709.6 L238.8,709.6 L239.8,709.5 L240.9,709.4 L241.9,709.4 L243.0,709.3 L244.1,709.2 L245.2,709.1 L246.3,709.1 L247.3,709.0 L248.4,709.0 L249.4,708.9 L250.4,708.9 L251.4,708.8 L252.3,708.8 L253.3,708.7 L254.2,708.7 L255.0,708.6 L255.9,708.6 L256.8,708.5 L257.7,708.5 L258.6,708.4 L259.5,708.4 L260.5,708.3 L261.4,708.2 L262.4,708.2 L263.4,708.1 L264.4,708.0 L265.4,707.9 L266.4,707.8 L267.4,707.7 L268.5,707.6 L269.5,707.5 L270.5,707.3 L271.5,707.1 L272.4,706.9 L273.4,706.7 L274.4,706.4 L275.3,706.1 L276.3,705.8 L277.2,705.5 L278.2,705.1 L279.1,704.7 L280.0,704.3 L280.9,703.8 L281.9,703.4 L282.8,702.9 L283.7,702.4 L284.6,701.8 L285.5,701.3 L286.4,700.7 L287.3,700.2 L288.2,699.6 L289.0,699.0 L289.9,698.4 L290.8,697.8 L291.6,697.2 L292.5,696.6 L293.3,696.0 L294.2,695.3 L295.0,694.7 L295.8,694.1 L296.6,693.4 L297.4,692.7 L298.3,692.1 L299.1,691.4 L299.9,690.7 L300.7,690.0 L301.5,689.3 L302.3,688.6 L303.1,687.9 L303.9,687.2 L304.7,686.5 L305.5,685.8 L306.3,685.1 L307.1,684.4 L307.9,683.7 L308.7,682.9 L309.5,682.2 L310.3,681.5 L311.1,680.8 L311.9,680.0 L312.7,679.3 L313.5,678.5 L314.2,677.8 L315.0,677.0 L315.8,676.3 L316.5,675.6 L317.3,674.9 L318.0,674.1 L318.7,673.4 L319.4,672.7 L320.1,672.1 L320.8,671.4 L321.5,670.7 L322.2,670.0 L322.9,669.3 L323.6,668.6 L324.3,667.9 L325.0,667.2 L325.7,666.6 L326.3,665.9 L327.0,665.2 L327.7,664.5 L328.4,663.9 L329.1,663.2 L329.8,662.5 L330.5,661.8 L331.2,661.2 L331.9,660.5 L332.6,659.8 L333.4,659.1 L334.1,658.4 L334.9,657.7 L335.6,657.0 L336.4,656.3 L337.2,655.6 L338.0,654.9 L338.8,654.2 L339.6,653.6 L340.5,652.9 L341.3,652.3 L342.1,651.6 L343.0,651.0 L343.9,650.4 L344.8,649.9 L345.7,649.3 L346.6,648.8 L347.5,648.3 L348.4,647.7 L349.4,647.3 L350.3,646.8 L351.3,646.3 L352.2,645.9 L353.2,645.5 L354.2,645.2 L355.1,644.8 L356.1,644.5 L357.0,644.2 L358.0,644.0 L358.9,643.8 L359.9,643.7 L360.8,643.6 L361.8,643.5 L362.7,643.5 L363.7,643.6 L364.6,643.7 L365.6,643.8 L366.5,644.0 L367.5,644.3 L368.4,644.6 L369.3,644.9 L370.3,645.3 L371.2,645.7 L372.1,646.1 L373.0,646.5 L373.9,647.0 L374.9,647.5 L375.8,648.0 L376.6,648.6 L377.5,649.1 L378.4,649.7 L379.3,650.3 L380.2,650.8 L381.1,651.4 L382.0,652.0 L382.9,652.7 L383.7,653.3 L384.6,653.9 L385.5,654.5 L386.3,655.1 L387.2,655.6 L388.0,656.2 L388.9,656.8 L389.7,657.4 L390.6,657.9 L391.4,658.5 L392.2,659.0 L393.1,659.6 L393.9,660.1 L394.7,660.7 L395.6,661.2 L396.4,661.7 L397.3,662.3 L398.1,662.8 L399.0,663.4 L399.8,663.9 L400.7,664.5 L401.5,665.1 L402.4,665.6 L403.3,666.2 L404.1,666.8 L405.0,667.4 L405.9,667.9 L406.8,668.5 L407.7,669.1 L408.6,669.7 L409.5,670.2 L410.4,670.8 L411.3,671.3 L412.2,671.9 L413.1,672.4 L414.0,672.9 L414.9,673.4 L415.8,673.8 L416.8,674.3 L417.7,674.7 L418.6,675.1 L419.6,675.5 L420.5,675.8 L421.5,676.2 L422.4,676.5 L423.4,676.8 L424.4,677.0 L425.3,677.2 L426.3,677.4 L427.3,677.6 L428.3,677.8 L429.3,677.9 L430.3,678.0 L431.3,678.1 L432.3,678.1 L433.3,678.1 L434.4,678.1 L435.4,678.1 L436.4,678.1 L437.5,678.0 L438.5,677.9 L439.6,677.8 L440.6,677.7 L441.7,677.6 L442.7,677.5 L443.8,677.4 L444.9,677.3 L445.9,677.1 L447.0,677.0 L448.1,676.8 L449.1,676.7 L450.2,676.5 L451.3,676.4 L452.3,676.2 L453.4,676.0 L454.4,675.8 L455.4,675.7 L456.2,675.5 L457.0,675.4 L457.6,675.3 L457.6,675.3 L457.3,675.8 L456.9,676.5 L456.4,677.4 L455.9,678.3 L455.3,679.2 L454.7,680.1 L454.1,681.0 L453.5,681.9 L452.9,682.8 L452.3,683.7 L451.6,684.6 L451.0,685.4 L450.3,686.3 L449.6,687.1 L449.0,687.9 L448.3,688.7 L447.5,689.4 L446.8,690.2 L446.0,690.9 L445.3,691.7 L444.5,692.4 L443.7,693.1 L442.9,693.8 L442.1,694.4 L441.3,695.1 L440.4,695.7 L439.6,696.3 L438.8,696.9 L437.9,697.5 L437.0,698.0 L436.2,698.6 L435.3,699.2 L434.4,699.7 L433.5,700.3 L432.6,700.8 L431.7,701.3 L430.8,701.8 L429.8,702.4 L428.9,702.9 L428.0,703.4 L427.1,703.8 L426.1,704.3 L425.2,704.8 L424.3,705.2 L423.4,705.7 L422.5,706.1 L421.6,706.6 L420.7,707.0 L419.8,707.4 L418.9,707.8 L417.9,708.2 L417.0,708.6 L416.1,709.0 L415.1,709.4 L414.1,709.8 L413.1,710.1 L412.1,710.5 L411.1,710.9 L410.1,711.2 L409.1,711.5 L408.1,711.8 L407.1,712.2 L406.1,712.4 L405.1,712.7 L404.1,713.0 L403.2,713.2 L402.2,713.5 L401.2,713.7 L400.2,714.0 L399.3,714.2 L398.3,714.4 L397.3,714.6 L396.3,714.8 L395.2,715.0 L394.2,715.3 L393.2,715.5 L392.1,715.7 L391.1,715.9 L390.1,716.1 L389.0,716.3 L387.9,716.4 L386.9,716.6 L385.8,716.8 L384.8,717.0 L383.7,717.2 L382.7,717.3 L381.7,717.5 L380.6,717.7 L379.6,717.8 L378.6,718.0 L377.5,718.1 L376.5,718.3 L375.5,718.4 L374.5,718.6 L373.5,718.7 L372.5,718.8 L371.6,718.9 L370.6,719.1 L369.6,719.2 L368.6,719.3 L367.6,719.4 L366.7,719.5 L365.7,719.6 L364.7,719.7 L363.7,719.8 L362.7,719.9 L361.7,720.0 L360.7,720.1 L359.7,720.2 L358.7,720.2 L357.7,720.3 L356.6,720.4 L355.6,720.5 L354.5,720.6 L353.5,720.7 L352.4,720.8 L351.4,720.9 L350.3,721.0 L349.3,721.1 L348.2,721.1 L347.2,721.2 L346.2,721.3 L345.1,721.4 L344.1,721.5 L343.1,721.6 L342.0,721.7 L341.0,721.7 L340.0,721.8 L338.9,721.9 L337.8,722.0 L336.8,722.1 L335.7,722.2 L334.6,722.2 L333.5,722.3 L332.4,722.4 L331.3,722.5 L330.3,722.6 L329.2,722.6 L328.1,722.7 L327.0,722.8 L325.9,722.9 L324.8,723.0 L323.7,723.1 L322.7,723.1 L321.6,723.2 L320.6,723.3 L319.5,723.4 L318.5,723.5 L317.5,723.6 L316.5,723.7 L315.5,723.7 L314.6,723.8 L313.6,723.9 L312.6,724.0 L311.6,724.1 L310.6,724.2 L309.6,724.3 L308.5,724.5 L307.5,724.6 L306.4,724.7 L305.3,724.9 L304.3,725.0 L303.2,725.1 L302.2,725.3 L301.1,725.4 L300.1,725.6 L299.1,725.8 L298.2,725.9 L297.2,726.1 L296.3,726.3 L295.3,726.4 L294.4,726.6 L293.5,726.8 L292.6,727.0 L291.6,727.2 L290.7,727.5 L289.7,727.7 L288.8,727.9 L287.8,728.2 L286.8,728.5 L285.8,728.7 L284.9,729.0 L283.9,729.3 L282.9,729.6 L281.9,729.9 L280.9,730.2 L279.9,730.5 L278.9,730.8 L277.9,731.1 L276.9,731.5 L275.9,731.8 L274.9,732.2 L274.0,732.5 L273.0,732.9 L272.1,733.3 L271.1,733.7 L270.2,734.1 L269.3,734.5 L268.3,735.0 L267.4,735.4 L266.5,735.9 L265.6,736.4 L264.7,736.9 L263.8,737.4 L262.9,738.0 L262.0,738.5 L261.2,739.1 L260.3,739.7 L259.5,740.3 L258.6,740.9 L257.8,741.6 L257.0,742.2 L256.2,742.9 L255.5,743.5 L254.7,744.2 L254.0,744.9 L253.2,745.6 L252.5,746.3 L251.8,747.0 L251.1,747.7 L250.4,748.5 L249.8,749.2 L249.1,750.0 L248.4,750.7 L247.8,751.5 L247.1,752.3 L246.4,753.1 L245.8,753.8 L245.1,754.6 L244.4,755.4 L243.7,756.2 L243.1,757.0 L242.4,757.8 L241.7,758.6 L241.0,759.4 L240.3,760.2 L239.6,761.0 L238.9,761.8 L238.2,762.6 L237.5,763.4 L236.8,764.2 L236.1,765.0 L235.3,765.8 L234.6,766.6 L233.9,767.4 L233.2,768.1 L232.5,768.9 L231.7,769.6 L231.0,770.4 L230.3,771.1 L229.5,771.8 L228.8,772.4 L228.0,773.1 L227.2,773.7 L226.4,774.4 L225.5,774.9 L224.7,775.5 L223.8,776.0 L222.9,776.5 L222.0,776.9 L221.0,777.3 L220.1,777.6 L219.2,777.8 L218.3,777.9 L217.3,778.0 L216.4,778.0 L215.5,777.9 L214.6,777.7 L213.7,777.4 L212.8,777.1 L211.9,776.7 L211.0,776.2 L210.2,775.6 L209.4,775.0 L208.6,774.4 L207.8,773.7 L207.0,772.9 L206.3,772.1 L205.6,771.3 L205.0,770.5 L204.3,769.6 L203.7,768.8 L203.1,767.9 L202.5,767.0 L201.8,766.1 L201.2,765.2 L200.6,764.3 L200.0,763.4 L199.4,762.6 L198.8,761.7 L198.1,760.9 L197.5,760.0 L196.8,759.2 L196.2,758.4 L195.5,757.6 L194.9,756.8 L194.2,756.0 L193.6,755.2 L192.9,754.4 L192.3,753.6 L191.6,752.8 L191.0,752.0 L190.3,751.2 L189.7,750.4 L189.0,749.6 L188.4,748.8 L187.7,748.1 L187.0,747.3 L186.3,746.5 L185.6,745.8 L184.8,745.1 L184.1,744.4 L183.3,743.8 L182.5,743.1 L181.7,742.5 L180.9,742.0 L180.1,741.5 L179.3,741.0 L178.4,740.5 L177.5,740.0 L176.6,739.6 L175.7,739.2 L174.8,738.8 L173.8,738.4 L172.9,738.1 L171.9,737.8 L170.9,737.5 L169.9,737.2 L169.0,736.9 L168.0,736.6 L167.0,736.4 L166.1,736.2 L165.1,736.0 L164.2,735.8 L163.2,735.6 L162.2,735.4 L161.2,735.2 L160.2,735.0 L159.2,734.9 L158.2,734.7 L157.2,734.6 L156.2,734.4 L155.1,734.3 L154.1,734.1 L153.0,733.9 L152.0,733.8 L150.9,733.6 L149.9,733.5 L148.8,733.3 L147.8,733.1 L146.8,733.0 L145.7,732.8 L144.7,732.6 L143.7,732.5 L142.7,732.3 L141.6,732.1 L140.6,731.9 L139.5,731.7 L138.5,731.6 L137.5,731.4 L136.4,731.2 L135.4,731.0 L134.3,730.8 L133.3,730.7 L132.2,730.5 L131.2,730.3 L130.2,730.1 L129.1,730.0 L128.1,729.8 L127.1,729.6 L126.1,729.5 L125.1,729.3 L124.1,729.2 L123.0,729.0 L122.0,728.9 L120.9,728.7 L119.9,728.6 L118.8,728.4 L117.7,728.3 L116.6,728.1 L115.5,728.0 L114.4,727.9 L113.3,727.8 L112.2,727.6 L111.2,727.5 L110.2,727.4 L109.2,727.3 L108.3,727.3 L107.4,727.2 L106.7,727.1 L106.0,727.0 L105.4,727.0" fill="none" stroke="#23237e" stroke-width="3.3" stroke-linejoin="round" stroke-linecap="round"/>
<line x1="327" y1="779" x2="378" y2="779" stroke="#23237e" stroke-width="3.3" stroke-linecap="round"/>
<text x="388" y="784.5" font-family="'Liberation Serif',serif" font-weight="bold" font-size="15" fill="#000" text-anchor="start"  textLength="57" lengthAdjust="spacingAndGlyphs">5 mV/s</text>
<line x1="327" y1="802.2" x2="378" y2="802.2" stroke="#1f8c3d" stroke-width="3.3" stroke-linecap="round"/>
<text x="384.5" y="807.7" font-family="'Liberation Serif',serif" font-weight="bold" font-size="15" fill="#000" text-anchor="start"  textLength="65" lengthAdjust="spacingAndGlyphs">10 mV/s</text>
<line x1="327" y1="826" x2="378" y2="826" stroke="#c45cbf" stroke-width="3.3" stroke-linecap="round"/>
<text x="384" y="831.5" font-family="'Liberation Serif',serif" font-weight="bold" font-size="15" fill="#000" text-anchor="start"  textLength="66" lengthAdjust="spacingAndGlyphs">20 mV/s</text>
<rect x="576.5" y="536" width="427.0" height="336" fill="none" stroke="#000" stroke-width="3"/>
<line x1="576.5" y1="804.6" x2="586.5" y2="804.6" stroke="#000" stroke-width="2.6"/>
<line x1="576.5" y1="737.4" x2="586.5" y2="737.4" stroke="#000" stroke-width="2.6"/>
<line x1="576.5" y1="670.2" x2="586.5" y2="670.2" stroke="#000" stroke-width="2.6"/>
<line x1="576.5" y1="603.0" x2="586.5" y2="603.0" stroke="#000" stroke-width="2.6"/>
<line x1="576.5" y1="838.2" x2="582.5" y2="838.2" stroke="#000" stroke-width="2.6"/>
<line x1="576.5" y1="771.0" x2="582.5" y2="771.0" stroke="#000" stroke-width="2.6"/>
<line x1="576.5" y1="703.8" x2="582.5" y2="703.8" stroke="#000" stroke-width="2.6"/>
<line x1="576.5" y1="636.6" x2="582.5" y2="636.6" stroke="#000" stroke-width="2.6"/>
<line x1="576.5" y1="569.4" x2="582.5" y2="569.4" stroke="#000" stroke-width="2.6"/>
<line x1="591.0" y1="872" x2="591.0" y2="863.5" stroke="#000" stroke-width="2.6"/>
<line x1="679.3" y1="872" x2="679.3" y2="863.5" stroke="#000" stroke-width="2.6"/>
<line x1="767.6" y1="872" x2="767.6" y2="863.5" stroke="#000" stroke-width="2.6"/>
<line x1="855.9" y1="872" x2="855.9" y2="863.5" stroke="#000" stroke-width="2.6"/>
<line x1="944.2" y1="872" x2="944.2" y2="863.5" stroke="#000" stroke-width="2.6"/>
<line x1="635.1" y1="872" x2="635.1" y2="867.5" stroke="#000" stroke-width="2.6"/>
<line x1="723.4" y1="872" x2="723.4" y2="867.5" stroke="#000" stroke-width="2.6"/>
<line x1="811.7" y1="872" x2="811.7" y2="867.5" stroke="#000" stroke-width="2.6"/>
<line x1="900.0" y1="872" x2="900.0" y2="867.5" stroke="#000" stroke-width="2.6"/>
<line x1="988.3" y1="872" x2="988.3" y2="867.5" stroke="#000" stroke-width="2.6"/>
<text x="572.3" y="879.8" font-family="'Liberation Serif',serif" font-weight="bold" font-size="23" fill="#000" text-anchor="end"  textLength="31" lengthAdjust="spacingAndGlyphs">0.0</text>
<text x="572.3" y="812.5999999999999" font-family="'Liberation Serif',serif" font-weight="bold" font-size="23" fill="#000" text-anchor="end"  textLength="31" lengthAdjust="spacingAndGlyphs">0.1</text>
<text x="572.3" y="745.4" font-family="'Liberation Serif',serif" font-weight="bold" font-size="23" fill="#000" text-anchor="end"  textLength="31" lengthAdjust="spacingAndGlyphs">0.2</text>
<text x="572.3" y="678.1999999999999" font-family="'Liberation Serif',serif" font-weight="bold" font-size="23" fill="#000" text-anchor="end"  textLength="31" lengthAdjust="spacingAndGlyphs">0.3</text>
<text x="572.3" y="611.0" font-family="'Liberation Serif',serif" font-weight="bold" font-size="23" fill="#000" text-anchor="end"  textLength="31" lengthAdjust="spacingAndGlyphs">0.4</text>
<text x="572.3" y="543.8" font-family="'Liberation Serif',serif" font-weight="bold" font-size="23" fill="#000" text-anchor="end"  textLength="31" lengthAdjust="spacingAndGlyphs">0.5</text>
<text x="591.0" y="896" font-family="'Liberation Serif',serif" font-weight="bold" font-size="23" fill="#000" text-anchor="middle"  textLength="12.5" lengthAdjust="spacingAndGlyphs">0</text>
<text x="679.29" y="896" font-family="'Liberation Serif',serif" font-weight="bold" font-size="23" fill="#000" text-anchor="middle"  textLength="38.5" lengthAdjust="spacingAndGlyphs">300</text>
<text x="767.58" y="896" font-family="'Liberation Serif',serif" font-weight="bold" font-size="23" fill="#000" text-anchor="middle"  textLength="38.5" lengthAdjust="spacingAndGlyphs">600</text>
<text x="855.87" y="896" font-family="'Liberation Serif',serif" font-weight="bold" font-size="23" fill="#000" text-anchor="middle"  textLength="38.5" lengthAdjust="spacingAndGlyphs">900</text>
<text x="944.1600000000001" y="896" font-family="'Liberation Serif',serif" font-weight="bold" font-size="23" fill="#000" text-anchor="middle"  textLength="50" lengthAdjust="spacingAndGlyphs">1200</text>
<text x="793.9" y="920.4" font-family="'Liberation Serif',serif" font-weight="bold" font-size="23.5" fill="#000" text-anchor="middle"  textLength="42" lengthAdjust="spacingAndGlyphs">t (s)</text>
<text x="0" y="0" font-family="'Liberation Serif',serif" font-weight="bold" font-size="24" fill="#000" text-anchor="middle"  textLength="144" lengthAdjust="spacingAndGlyphs" transform="translate(534.2,697.7) scale(1.15,1) rotate(-90)">E (V vs. SCE)</text>
<text x="933.9" y="576.5" font-family="'Liberation Serif',serif" font-weight="bold" font-size="52" fill="#000" text-anchor="start" textLength="68" lengthAdjust="spacingAndGlyphs">(d)</text>
<path d="M591.1,871.8 C591.2,852.1 591.6,779.5 591.9,753.4 C592.3,727.2 591.1,724.4 593.1,714.7 C595.1,705.0 599.0,700.2 604.0,695.4 C609.0,690.5 616.1,688.9 623.3,685.7 C630.6,682.5 638.6,679.6 647.5,676.0 C656.4,672.4 668.5,668.4 676.5,663.9 C684.6,659.5 689.4,654.7 695.9,649.4 C702.3,644.2 709.1,638.6 715.2,632.5 C721.2,626.5 726.5,619.2 732.1,613.2 C737.7,607.1 743.0,601.5 749.0,596.3 C755.1,591.0 762.3,585.8 768.4,581.8 C774.4,577.7 780.6,574.3 785.3,572.1 C789.9,569.9 794.3,569.1 796.2,568.5 L797.2,569.1 C797.6,573.6 798.3,587.2 799.8,596.1 C801.4,605.0 803.1,611.5 806.4,622.5 C809.7,633.6 815.3,650.3 819.7,662.2 C824.1,674.1 828.5,686.0 832.9,693.9 C837.3,701.9 839.5,704.9 846.1,709.8 C852.7,714.6 861.5,719.0 872.5,723.0 C883.6,727.0 901.2,730.1 912.2,733.6 C923.2,737.1 932.0,739.8 938.6,744.2 C945.2,748.6 947.5,753.0 951.9,760.0 C956.3,767.1 961.6,778.5 965.1,786.5 C968.6,794.4 971.0,797.5 973.0,807.6 C975.0,817.8 976.1,836.7 977.0,847.3 C977.9,857.9 978.1,867.1 978.3,871.1" fill="none" stroke="#1f8f3e" stroke-width="3.5" stroke-linejoin="round" stroke-linecap="butt"/>
<path d="M591.1,871.8 C591.2,852.1 591.6,780.3 591.9,753.4 C592.3,726.4 589.9,722.3 593.1,709.9 C596.4,697.4 604.2,686.1 611.3,678.4 C618.3,670.8 627.4,670.4 635.4,663.9 C643.5,657.5 652.3,648.2 659.6,639.8 C666.8,631.3 672.9,622.0 678.9,613.2 C685.0,604.3 691.0,594.0 695.9,586.6 C700.7,579.1 705.9,571.5 707.9,568.5 L707.9,568.5 C708.5,575.1 709.9,593.6 711.6,608.3 C713.2,623.0 715.0,642.2 717.6,656.7 C720.2,671.2 722.8,685.3 727.3,695.4 C731.7,705.4 737.3,711.5 744.2,717.1 C751.0,722.7 761.9,725.6 768.4,729.2 C774.8,732.8 778.7,734.6 782.9,738.9 C787.0,743.1 789.3,745.5 793.2,754.7 C797.1,764.0 802.9,781.2 806.4,794.4 C810.0,807.6 812.3,821.3 814.4,834.1 C816.5,846.8 818.3,864.9 819.1,871.1" fill="none" stroke="#1c8b8b" stroke-width="3.5" stroke-linejoin="round" stroke-linecap="butt"/>
<path d="M591.1,871.8 C591.1,852.1 591.2,782.0 591.4,753.4 C591.7,724.8 589.1,714.3 592.4,700.2 C595.7,686.1 604.1,677.6 611.3,668.8 C618.4,659.9 628.6,655.9 635.4,647.0 C642.3,638.1 647.9,626.1 652.3,615.6 C656.8,605.1 659.6,592.0 662.0,584.2 C664.4,576.3 666.0,571.1 666.8,568.5 L666.8,568.5 C667.5,575.1 669.3,593.6 670.5,608.3 C671.7,623.0 672.3,642.2 674.1,656.7 C675.9,671.2 678.5,685.7 681.3,695.4 C684.2,705.0 686.2,709.0 691.0,714.7 C695.8,720.3 705.5,724.8 710.4,729.2 C715.2,733.6 717.2,733.2 720.0,741.3 C722.8,749.3 724.9,763.4 727.3,777.5 C729.7,791.6 732.3,810.2 734.5,825.9 C736.7,841.6 739.6,864.1 740.6,871.8" fill="none" stroke="#3040b0" stroke-width="3.5" stroke-linejoin="round" stroke-linecap="butt"/>
<path d="M591.1,871.8 C591.1,852.1 591.2,782.4 591.4,753.4 C591.7,724.4 589.9,712.3 592.4,697.8 C594.9,683.3 601.3,675.6 606.4,666.3 C611.6,657.1 618.5,651.0 623.3,642.2 C628.2,633.3 632.2,622.8 635.4,613.2 C638.6,603.5 640.9,591.6 642.7,584.2 C644.5,576.7 645.7,571.1 646.3,568.5 L646.3,568.5 C646.5,575.1 646.7,593.6 647.5,608.3 C648.3,623.0 649.9,642.2 651.1,656.7 C652.3,671.2 652.9,685.3 654.8,695.4 C656.6,705.4 658.4,711.1 662.0,717.1 C665.6,723.1 672.9,726.4 676.5,731.6 C680.1,736.8 681.8,740.9 683.8,748.5 C685.8,756.2 687.0,764.6 688.6,777.5 C690.2,790.4 692.0,810.2 693.4,825.9 C694.8,841.6 696.5,864.1 697.1,871.8" fill="none" stroke="#f08a24" stroke-width="3.5" stroke-linejoin="round" stroke-linecap="butt"/>
<path d="M591.1,871.8 C591.1,852.1 591.3,782.8 591.4,753.4 C591.6,724.0 589.8,709.9 591.9,695.4 C594.0,680.8 600.0,674.8 604.0,666.3 C608.0,657.9 612.5,653.5 616.1,644.6 C619.7,635.7 623.3,623.2 625.8,613.2 C628.2,603.1 629.4,591.6 630.6,584.2 C631.8,576.7 632.6,571.1 633.0,568.5 L633.0,568.5 C633.2,575.1 633.6,593.6 634.2,608.3 C634.8,623.0 635.6,642.2 636.6,656.7 C637.6,671.2 638.8,685.3 640.3,695.4 C641.7,705.4 642.3,710.7 645.1,717.1 C647.9,723.6 654.0,728.0 657.2,734.0 C660.4,740.1 662.6,742.1 664.4,753.4 C666.2,764.6 667.0,785.6 668.1,801.7 C669.1,817.8 669.9,838.4 670.5,850.0 C671.1,861.7 671.5,868.2 671.7,871.8" fill="none" stroke="#7b3fb4" stroke-width="3.5" stroke-linejoin="round" stroke-linecap="butt"/>
<path d="M591.1,871.8 C591.1,852.1 591.3,782.8 591.4,753.4 C591.6,724.0 590.6,709.5 591.9,695.4 C593.2,681.3 596.8,676.4 599.2,668.8 C601.6,661.1 604.0,657.5 606.4,649.4 C608.8,641.4 611.9,630.5 613.7,620.4 C615.5,610.4 616.4,597.7 617.3,589.0 C618.2,580.3 618.9,571.9 619.2,568.5 L619.2,568.5 C619.5,575.1 620.4,593.6 620.9,608.3 C621.4,623.0 621.5,642.2 622.1,656.7 C622.7,671.2 623.3,684.1 624.5,695.4 C625.8,706.6 627.2,717.1 629.4,724.4 C631.6,731.6 635.6,732.0 637.8,738.9 C640.1,745.7 641.5,750.9 642.7,765.4 C643.9,779.9 644.5,808.1 645.1,825.9 C645.7,843.6 646.1,864.1 646.3,871.8" fill="none" stroke="#e8268e" stroke-width="3.5" stroke-linejoin="round" stroke-linecap="butt"/>
<path d="M591.1,871.8 C591.1,848.0 591.0,760.2 591.0,729.2 C590.9,698.2 590.6,695.8 591.0,685.7 C591.3,675.6 591.8,674.4 593.1,668.8 C594.5,663.1 597.4,657.9 599.2,651.8 C601.0,645.8 602.6,639.8 604.0,632.5 C605.4,625.3 606.6,616.4 607.6,608.3 C608.6,600.3 609.4,590.8 610.0,584.2 C610.7,577.5 611.1,571.1 611.3,568.5 L611.3,568.5 C611.3,575.1 611.5,593.6 611.7,608.3 C611.9,623.0 612.1,642.6 612.5,656.7 C612.8,670.8 613.1,682.5 613.7,692.9 C614.3,703.4 614.9,713.1 616.1,719.5 C617.3,726.0 619.3,727.2 620.9,731.6 C622.5,736.0 624.5,740.5 625.8,746.1 C627.0,751.7 627.6,756.2 628.2,765.4 C628.8,774.7 629.0,787.6 629.4,801.7 C629.8,815.8 630.2,838.4 630.6,850.0 C631.0,861.7 631.6,868.2 631.8,871.8" fill="none" stroke="#000000" stroke-width="3.5" stroke-linejoin="round" stroke-linecap="butt"/>
<line x1="856" y1="578.9" x2="900" y2="578.9" stroke="#1f8f3e" stroke-width="3.6" stroke-linecap="round"/>
<text x="908.2" y="584.1999999999999" font-family="'Liberation Sans',sans-serif" font-weight="bold" font-size="14.5" fill="#000" text-anchor="start"  textLength="38" lengthAdjust="spacingAndGlyphs">2 A/g</text>
<line x1="856" y1="600" x2="900" y2="600" stroke="#1c8b8b" stroke-width="3.6" stroke-linecap="round"/>
<text x="908.2" y="605.3" font-family="'Liberation Sans',sans-serif" font-weight="bold" font-size="14.5" fill="#000" text-anchor="start"  textLength="38" lengthAdjust="spacingAndGlyphs">3 A/g</text>
<line x1="856" y1="619.9" x2="900" y2="619.9" stroke="#3040b0" stroke-width="3.6" stroke-linecap="round"/>
<text x="908.2" y="625.1999999999999" font-family="'Liberation Sans',sans-serif" font-weight="bold" font-size="14.5" fill="#000" text-anchor="start"  textLength="38" lengthAdjust="spacingAndGlyphs">4 A/g</text>
<line x1="856" y1="641" x2="900" y2="641" stroke="#f08a24" stroke-width="3.6" stroke-linecap="round"/>
<text x="908.2" y="646.3" font-family="'Liberation Sans',sans-serif" font-weight="bold" font-size="14.5" fill="#000" text-anchor="start"  textLength="38" lengthAdjust="spacingAndGlyphs">5 A/g</text>
<line x1="856" y1="661.4" x2="900" y2="661.4" stroke="#7b3fb4" stroke-width="3.6" stroke-linecap="round"/>
<text x="908.2" y="666.6999999999999" font-family="'Liberation Sans',sans-serif" font-weight="bold" font-size="14.5" fill="#000" text-anchor="start"  textLength="38" lengthAdjust="spacingAndGlyphs">6 A/g</text>
<line x1="856" y1="681.5" x2="900" y2="681.5" stroke="#e8268e" stroke-width="3.6" stroke-linecap="round"/>
<text x="908.2" y="686.8" font-family="'Liberation Sans',sans-serif" font-weight="bold" font-size="14.5" fill="#000" text-anchor="start"  textLength="38" lengthAdjust="spacingAndGlyphs">8 A/g</text>
<line x1="856" y1="702.4" x2="900" y2="702.4" stroke="#000000" stroke-width="3.6" stroke-linecap="round"/>
<text x="904.3" y="707.6999999999999" font-family="'Liberation Sans',sans-serif" font-weight="bold" font-size="14.5" fill="#000" text-anchor="start"  textLength="46" lengthAdjust="spacingAndGlyphs">10 A/g</text>
<rect x="90.4" y="960.3" width="404.0" height="309.5" fill="none" stroke="#000" stroke-width="3"/>
<line x1="90.4" y1="993.5" x2="100.0" y2="993.5" stroke="#000" stroke-width="2.6"/>
<line x1="90.4" y1="1062.6" x2="100.0" y2="1062.6" stroke="#000" stroke-width="2.6"/>
<line x1="90.4" y1="1131.7" x2="100.0" y2="1131.7" stroke="#000" stroke-width="2.6"/>
<line x1="90.4" y1="1200.8" x2="100.0" y2="1200.8" stroke="#000" stroke-width="2.6"/>
<line x1="90.4" y1="1028.0" x2="95.60000000000001" y2="1028.0" stroke="#000" stroke-width="2.6"/>
<line x1="90.4" y1="1097.1" x2="95.60000000000001" y2="1097.1" stroke="#000" stroke-width="2.6"/>
<line x1="90.4" y1="1166.2" x2="95.60000000000001" y2="1166.2" stroke="#000" stroke-width="2.6"/>
<line x1="90.4" y1="1235.3" x2="95.60000000000001" y2="1235.3" stroke="#000" stroke-width="2.6"/>
<line x1="131.0" y1="1269.9" x2="131.0" y2="1261.4" stroke="#000" stroke-width="2.6"/>
<line x1="211.6" y1="1269.9" x2="211.6" y2="1261.4" stroke="#000" stroke-width="2.6"/>
<line x1="292.1" y1="1269.9" x2="292.1" y2="1261.4" stroke="#000" stroke-width="2.6"/>
<line x1="372.7" y1="1269.9" x2="372.7" y2="1261.4" stroke="#000" stroke-width="2.6"/>
<line x1="453.2" y1="1269.9" x2="453.2" y2="1261.4" stroke="#000" stroke-width="2.6"/>
<line x1="171.3" y1="1269.9" x2="171.3" y2="1265.4" stroke="#000" stroke-width="2.6"/>
<line x1="251.8" y1="1269.9" x2="251.8" y2="1265.4" stroke="#000" stroke-width="2.6"/>
<line x1="332.4" y1="1269.9" x2="332.4" y2="1265.4" stroke="#000" stroke-width="2.6"/>
<line x1="413.0" y1="1269.9" x2="413.0" y2="1265.4" stroke="#000" stroke-width="2.6"/>
<text x="85.8" y="1001.4920000000001" font-family="'Liberation Serif',serif" font-weight="bold" font-size="23" fill="#000" text-anchor="end"  textLength="48" lengthAdjust="spacingAndGlyphs">3000</text>
<text x="85.8" y="1070.594" font-family="'Liberation Serif',serif" font-weight="bold" font-size="23" fill="#000" text-anchor="end"  textLength="48" lengthAdjust="spacingAndGlyphs">2400</text>
<text x="85.8" y="1139.6960000000001" font-family="'Liberation Serif',serif" font-weight="bold" font-size="23" fill="#000" text-anchor="end"  textLength="48" lengthAdjust="spacingAndGlyphs">1800</text>
<text x="85.8" y="1208.798" font-family="'Liberation Serif',serif" font-weight="bold" font-size="23" fill="#000" text-anchor="end"  textLength="48" lengthAdjust="spacingAndGlyphs">1200</text>
<text x="85.8" y="1277.9" font-family="'Liberation Serif',serif" font-weight="bold" font-size="23" fill="#000" text-anchor="end"  textLength="36.5" lengthAdjust="spacingAndGlyphs">600</text>
<text x="131.0" y="1292.2" font-family="'Liberation Serif',serif" font-weight="bold" font-size="23" fill="#000" text-anchor="middle"  textLength="11.5" lengthAdjust="spacingAndGlyphs">2</text>
<text x="211.56" y="1292.2" font-family="'Liberation Serif',serif" font-weight="bold" font-size="23" fill="#000" text-anchor="middle"  textLength="11.5" lengthAdjust="spacingAndGlyphs">4</text>
<text x="292.12" y="1292.2" font-family="'Liberation Serif',serif" font-weight="bold" font-size="23" fill="#000" text-anchor="middle"  textLength="11.5" lengthAdjust="spacingAndGlyphs">6</text>
<text x="372.68" y="1292.2" font-family="'Liberation Serif',serif" font-weight="bold" font-size="23" fill="#000" text-anchor="middle"  textLength="11.5" lengthAdjust="spacingAndGlyphs">8</text>
<text x="453.24" y="1292.2" font-family="'Liberation Serif',serif" font-weight="bold" font-size="23" fill="#000" text-anchor="middle"  textLength="23" lengthAdjust="spacingAndGlyphs">10</text>
<text x="292.7" y="1313.5" font-family="'Liberation Serif',serif" font-weight="bold" font-size="23.5" fill="#000" text-anchor="middle"  textLength="69" lengthAdjust="spacingAndGlyphs">I (A/g)</text>
<text x="0" y="0" font-family="'Liberation Serif',serif" font-weight="bold" font-size="22.5" fill="#000" text-anchor="middle"  textLength="252.5" lengthAdjust="spacingAndGlyphs" transform="translate(27.5,1116) scale(1.15,1) rotate(-90)">Specific capacitance ( F/g)</text>
<text x="100.2" y="1000.1" font-family="'Liberation Serif',serif" font-weight="bold" font-size="51" fill="#000" text-anchor="start" textLength="67.3" lengthAdjust="spacingAndGlyphs">(e)</text>
<line x1="141.8" y1="1031.6" x2="161.3" y2="1043.2" stroke="#22227c" stroke-width="3.6"/>
<line x1="181.2" y1="1058.1" x2="202.1" y2="1078.1" stroke="#22227c" stroke-width="3.6"/>
<line x1="220.9" y1="1094.5" x2="241.9" y2="1111.4" stroke="#22227c" stroke-width="3.6"/>
<line x1="263.1" y1="1124.1" x2="281.0" y2="1131.7" stroke="#22227c" stroke-width="3.6"/>
<line x1="304.6" y1="1139.7" x2="359.9" y2="1154.1" stroke="#22227c" stroke-width="3.6"/>
<line x1="384.4" y1="1159.0" x2="440.8" y2="1167.3" stroke="#22227c" stroke-width="3.6"/>
<polygon points="131,1014.6999999999999 141.6,1025.3 131,1035.8999999999999 120.4,1025.3" fill="#fff" stroke="#22227c" stroke-width="2.2"/>
<polygon points="172.1,1038.9 182.7,1049.5 172.1,1060.1 161.5,1049.5" fill="#fff" stroke="#22227c" stroke-width="2.2"/>
<polygon points="211.2,1076.1000000000001 221.79999999999998,1086.7 211.2,1097.3 200.6,1086.7" fill="#fff" stroke="#22227c" stroke-width="2.2"/>
<polygon points="251.6,1108.6000000000001 262.2,1119.2 251.6,1129.8 241.0,1119.2" fill="#fff" stroke="#22227c" stroke-width="2.2"/>
<polygon points="292.5,1126.0 303.1,1136.6 292.5,1147.1999999999998 281.9,1136.6" fill="#fff" stroke="#22227c" stroke-width="2.2"/>
<polygon points="372,1146.6000000000001 382.6,1157.2 372,1167.8 361.4,1157.2" fill="#fff" stroke="#22227c" stroke-width="2.2"/>
<polygon points="453.2,1158.5 463.8,1169.1 453.2,1179.6999999999998 442.59999999999997,1169.1" fill="#fff" stroke="#22227c" stroke-width="2.2"/>
<rect x="602.9" y="962.6" width="412.1" height="306.80000000000007" fill="none" stroke="#000" stroke-width="3"/>
<line x1="602.9" y1="995.6" x2="612.5" y2="995.6" stroke="#000" stroke-width="2.6"/>
<line x1="602.9" y1="1064.0" x2="612.5" y2="1064.0" stroke="#000" stroke-width="2.6"/>
<line x1="602.9" y1="1132.4" x2="612.5" y2="1132.4" stroke="#000" stroke-width="2.6"/>
<line x1="602.9" y1="1200.8" x2="612.5" y2="1200.8" stroke="#000" stroke-width="2.6"/>
<line x1="602.9" y1="1029.8" x2="608.1" y2="1029.8" stroke="#000" stroke-width="2.6"/>
<line x1="602.9" y1="1098.2" x2="608.1" y2="1098.2" stroke="#000" stroke-width="2.6"/>
<line x1="602.9" y1="1166.6" x2="608.1" y2="1166.6" stroke="#000" stroke-width="2.6"/>
<line x1="602.9" y1="1235.0" x2="608.1" y2="1235.0" stroke="#000" stroke-width="2.6"/>
<line x1="615.0" y1="1269.2" x2="615.0" y2="1260.7" stroke="#000" stroke-width="2.6"/>
<line x1="677.5" y1="1269.2" x2="677.5" y2="1260.7" stroke="#000" stroke-width="2.6"/>
<line x1="740.0" y1="1269.2" x2="740.0" y2="1260.7" stroke="#000" stroke-width="2.6"/>
<line x1="802.5" y1="1269.2" x2="802.5" y2="1260.7" stroke="#000" stroke-width="2.6"/>
<line x1="865.0" y1="1269.2" x2="865.0" y2="1260.7" stroke="#000" stroke-width="2.6"/>
<line x1="927.5" y1="1269.2" x2="927.5" y2="1260.7" stroke="#000" stroke-width="2.6"/>
<line x1="990.0" y1="1269.2" x2="990.0" y2="1260.7" stroke="#000" stroke-width="2.6"/>
<line x1="646.2" y1="1269.2" x2="646.2" y2="1264.7" stroke="#000" stroke-width="2.6"/>
<line x1="708.8" y1="1269.2" x2="708.8" y2="1264.7" stroke="#000" stroke-width="2.6"/>
<line x1="771.2" y1="1269.2" x2="771.2" y2="1264.7" stroke="#000" stroke-width="2.6"/>
<line x1="833.8" y1="1269.2" x2="833.8" y2="1264.7" stroke="#000" stroke-width="2.6"/>
<line x1="896.2" y1="1269.2" x2="896.2" y2="1264.7" stroke="#000" stroke-width="2.6"/>
<line x1="958.8" y1="1269.2" x2="958.8" y2="1264.7" stroke="#000" stroke-width="2.6"/>
<text x="599.3" y="1003.6" font-family="'Liberation Serif',serif" font-weight="bold" font-size="23" fill="#000" text-anchor="end"  textLength="49" lengthAdjust="spacingAndGlyphs">1600</text>
<text x="599.3" y="1072.0" font-family="'Liberation Serif',serif" font-weight="bold" font-size="23" fill="#000" text-anchor="end"  textLength="49" lengthAdjust="spacingAndGlyphs">1200</text>
<text x="599.3" y="1140.4" font-family="'Liberation Serif',serif" font-weight="bold" font-size="23" fill="#000" text-anchor="end"  textLength="37" lengthAdjust="spacingAndGlyphs">800</text>
<text x="599.3" y="1208.8" font-family="'Liberation Serif',serif" font-weight="bold" font-size="23" fill="#000" text-anchor="end"  textLength="37" lengthAdjust="spacingAndGlyphs">400</text>
<text x="599.3" y="1277.2" font-family="'Liberation Serif',serif" font-weight="bold" font-size="23" fill="#000" text-anchor="end"  textLength="13" lengthAdjust="spacingAndGlyphs">0</text>
<text x="615.0" y="1293.4" font-family="'Liberation Serif',serif" font-weight="bold" font-size="23" fill="#000" text-anchor="middle"  textLength="13" lengthAdjust="spacingAndGlyphs">0</text>
<text x="677.5" y="1293.4" font-family="'Liberation Serif',serif" font-weight="bold" font-size="23" fill="#000" text-anchor="middle"  textLength="38.5" lengthAdjust="spacingAndGlyphs">500</text>
<text x="740.0" y="1293.4" font-family="'Liberation Serif',serif" font-weight="bold" font-size="23" fill="#000" text-anchor="middle"  textLength="49.5" lengthAdjust="spacingAndGlyphs">1000</text>
<text x="802.5" y="1293.4" font-family="'Liberation Serif',serif" font-weight="bold" font-size="23" fill="#000" text-anchor="middle"  textLength="49.5" lengthAdjust="spacingAndGlyphs">1500</text>
<text x="865.0" y="1293.4" font-family="'Liberation Serif',serif" font-weight="bold" font-size="23" fill="#000" text-anchor="middle"  textLength="49.5" lengthAdjust="spacingAndGlyphs">2000</text>
<text x="927.5" y="1293.4" font-family="'Liberation Serif',serif" font-weight="bold" font-size="23" fill="#000" text-anchor="middle"  textLength="49.5" lengthAdjust="spacingAndGlyphs">2500</text>
<text x="990.0" y="1293.4" font-family="'Liberation Serif',serif" font-weight="bold" font-size="23" fill="#000" text-anchor="middle"  textLength="49.5" lengthAdjust="spacingAndGlyphs">3000</text>
<text x="823.5" y="1314" font-family="'Liberation Serif',serif" font-weight="bold" font-size="23.5" fill="#000" text-anchor="middle"  textLength="148" lengthAdjust="spacingAndGlyphs">Cycle number</text>
<text x="0" y="0" font-family="'Liberation Serif',serif" font-weight="bold" font-size="23.4" fill="#000" text-anchor="middle"  textLength="269.8" lengthAdjust="spacingAndGlyphs" transform="translate(544,1119.4) scale(1.15,1) rotate(-90)">Specific capacitance (F/g)</text>
<text x="947.6" y="1003.1" font-family="'Liberation Serif',serif" font-weight="bold" font-size="49.5" fill="#000" text-anchor="start" textLength="58" lengthAdjust="spacingAndGlyphs">(f)</text>
<polyline points="603,995.6 612,996.8" fill="none" stroke="#000" stroke-width="2"/>
<path d="M612.5,1001.5 L620,1002 L624,1003 L630,1003.4 L634,1005 L641,1005.5 L645,1007 L654,1007.8 L658,1009 L668,1009.8 L670,1012 L742.2,1012" fill="none" stroke="#000" stroke-width="4.4"/>
<rect x="651.5" y="1013.5" width="5" height="5.5" fill="#000"/>
<line x1="653.9" y1="1010" x2="653.9" y2="1015" stroke="#000" stroke-width="1.5"/>
<path d="M863.2,1013.2 L920.3,1013.2 L920.3,1014.3 L991.4,1014.3" fill="none" stroke="#000" stroke-width="4.6"/>
<rect x="921.8" y="1001.8" width="5" height="4.4" fill="#000"/><line x1="924.3" y1="1004" x2="924.3" y2="1012" stroke="#000" stroke-width="1.6"/>
<rect x="981.8" y="1014" width="9.6" height="4" fill="#000"/>
<line x1="737.5" y1="1046.3" x2="777" y2="1046.6" stroke="#e8302a" stroke-width="5.5"/>
<line x1="776" y1="1047" x2="798" y2="1047.5" stroke="#f3a19d" stroke-width="4.5"/>
<line x1="797.5" y1="1048.8" x2="866" y2="1049.2" stroke="#e8302a" stroke-width="5.8"/>
<line x1="770" y1="1047" x2="770" y2="1052" stroke="#e8302a" stroke-width="1.5"/>
<text x="699" y="999.5" font-family="'Liberation Sans',sans-serif" font-weight="bold" font-size="16" fill="#000" text-anchor="start"  textLength="44" lengthAdjust="spacingAndGlyphs">8 A/g</text>
<text x="870.5" y="999" font-family="'Liberation Sans',sans-serif" font-weight="bold" font-size="16" fill="#000" text-anchor="start"  textLength="44" lengthAdjust="spacingAndGlyphs">8 A/g</text>
<text x="772" y="1036" font-family="'Liberation Sans',sans-serif" font-weight="bold" font-size="16" fill="#000" text-anchor="start"  textLength="56" lengthAdjust="spacingAndGlyphs">10 A/g</text>
<defs><clipPath id="semclip"><rect x="661.8" y="1057.8" width="283.4000000000001" height="201.4000000000001"/></clipPath>
<filter id="semtex" x="0" y="0" width="1" height="1" color-interpolation-filters="sRGB"><feTurbulence type="fractalNoise" baseFrequency="0.03 0.024" numOctaves="4" seed="3"/>
<feColorMatrix type="matrix" values="0.6 0 0 0 0.05  0.6 0 0 0 0.055  0.6 0 0 0 0.065  0 0 0 0 1"/></filter>
<filter id="semblur"><feGaussianBlur stdDeviation="0.7"/></filter>
<filter id="semblur2"><feGaussianBlur stdDeviation="2.2"/></filter></defs>
<g clip-path="url(#semclip)"><rect x="661.8" y="1057.8" width="283.4000000000001" height="201.4000000000001" fill="#535558"/>
<rect x="661.8" y="1057.8" width="283.4000000000001" height="201.4000000000001" filter="url(#semtex)"/>
<g filter="url(#semblur2)">
<path d="M701.8,1200.5 Q683.1,1191.0 675.9,1171.1" fill="none" stroke="#8a8d90" stroke-width="6" opacity="0.22"/>
<path d="M652.8,1129.9 Q645.4,1120.1 633.2,1118.3" fill="none" stroke="#8a8d90" stroke-width="6" opacity="0.22"/>
<path d="M917.3,1184.2 Q933.5,1187.6 949.7,1191.2" fill="none" stroke="#8a8d90" stroke-width="6" opacity="0.22"/>
<path d="M689.7,1253.2 Q670.9,1263.8 649.4,1265.5" fill="none" stroke="#8a8d90" stroke-width="6" opacity="0.22"/>
<path d="M888.5,1094.0 Q917.8,1098.3 943.2,1083.1" fill="none" stroke="#8a8d90" stroke-width="6" opacity="0.22"/>
<path d="M902.7,1092.3 Q925.7,1076.3 951.9,1066.6" fill="none" stroke="#8a8d90" stroke-width="6" opacity="0.22"/>
<path d="M659.9,1068.4 Q653.8,1039.2 648.1,1009.9" fill="none" stroke="#8a8d90" stroke-width="6" opacity="0.22"/>
<path d="M820.6,1185.6 Q828.9,1196.6 831.9,1209.9" fill="none" stroke="#8a8d90" stroke-width="6" opacity="0.22"/>
<path d="M671.7,1228.0 Q679.1,1211.5 677.6,1193.5" fill="none" stroke="#8a8d90" stroke-width="6" opacity="0.22"/>
<path d="M943.5,1178.5 Q955.9,1162.7 972.9,1152.0" fill="none" stroke="#8a8d90" stroke-width="6" opacity="0.22"/>
<path d="M886.6,1154.8 Q889.2,1143.4 898.1,1135.9" fill="none" stroke="#8a8d90" stroke-width="6" opacity="0.22"/>
<path d="M924.6,1265.5 Q917.3,1246.1 923.6,1226.4" fill="none" stroke="#8a8d90" stroke-width="6" opacity="0.22"/>
<path d="M906.1,1223.9 Q920.8,1207.3 938.5,1194.0" fill="none" stroke="#8a8d90" stroke-width="6" opacity="0.22"/>
<path d="M884.9,1050.1 Q855.6,1031.0 861.9,996.6" fill="none" stroke="#8a8d90" stroke-width="6" opacity="0.22"/>
<path d="M774.9,1260.1 Q781.4,1247.0 795.9,1245.9" fill="none" stroke="#8a8d90" stroke-width="6" opacity="0.22"/>
<path d="M850.6,1075.8 Q834.6,1072.0 818.6,1067.9" fill="none" stroke="#8a8d90" stroke-width="6" opacity="0.22"/>
<path d="M818.7,1058.0 Q822.2,1028.8 805.3,1004.7" fill="none" stroke="#8a8d90" stroke-width="6" opacity="0.22"/>
<path d="M705.0,1205.3 Q710.8,1229.4 704.1,1253.2" fill="none" stroke="#8a8d90" stroke-width="6" opacity="0.22"/>
<path d="M804.4,1169.4 Q816.3,1167.2 827.1,1161.8" fill="none" stroke="#8a8d90" stroke-width="6" opacity="0.22"/>
<path d="M811.3,1171.9 Q828.7,1198.3 859.8,1192.4" fill="none" stroke="#8a8d90" stroke-width="6" opacity="0.22"/>
<path d="M674.0,1228.1 Q678.4,1209.4 676.4,1190.2" fill="none" stroke="#8a8d90" stroke-width="6" opacity="0.22"/>
<path d="M773.6,1097.7 Q793.4,1097.1 809.2,1109.0" fill="none" stroke="#8a8d90" stroke-width="6" opacity="0.22"/>
<path d="M768.7,1155.6 Q736.4,1145.5 729.2,1112.5" fill="none" stroke="#8a8d90" stroke-width="6" opacity="0.22"/>
<path d="M842.0,1215.7 Q835.2,1188.4 815.2,1168.4" fill="none" stroke="#8a8d90" stroke-width="6" opacity="0.22"/>
<path d="M902.1,1261.2 Q912.0,1257.8 922.3,1259.8" fill="none" stroke="#8a8d90" stroke-width="6" opacity="0.22"/>
<path d="M743.6,1256.7 Q732.1,1238.0 741.8,1218.2" fill="none" stroke="#8a8d90" stroke-width="6" opacity="0.22"/>
<path d="M858.6,1105.6 Q872.6,1095.2 890.0,1095.6" fill="none" stroke="#8a8d90" stroke-width="6" opacity="0.22"/>
<path d="M736.0,1131.7 Q753.4,1123.1 772.0,1117.6" fill="none" stroke="#8a8d90" stroke-width="6" opacity="0.22"/>
<path d="M709.0,1260.5 Q731.2,1281.7 760.2,1271.8" fill="none" stroke="#8a8d90" stroke-width="6" opacity="0.22"/>
<path d="M864.3,1101.0 Q885.7,1090.1 906.0,1103.0" fill="none" stroke="#8a8d90" stroke-width="6" opacity="0.22"/>
<path d="M892.0,1229.9 Q880.3,1232.6 870.4,1225.8" fill="none" stroke="#8a8d90" stroke-width="6" opacity="0.22"/>
<path d="M932.5,1243.4 Q955.4,1233.2 975.5,1248.2" fill="none" stroke="#8a8d90" stroke-width="6" opacity="0.22"/>
<path d="M899.1,1182.1 Q890.6,1162.8 870.9,1155.4" fill="none" stroke="#8a8d90" stroke-width="6" opacity="0.22"/>
<path d="M921.9,1063.5 Q938.2,1076.5 958.7,1080.2" fill="none" stroke="#8a8d90" stroke-width="6" opacity="0.22"/>
<path d="M858.3,1192.4 Q858.8,1206.5 871.5,1212.7" fill="none" stroke="#8a8d90" stroke-width="6" opacity="0.22"/>
<path d="M675.6,1231.0 Q680.2,1241.0 680.4,1252.0" fill="none" stroke="#8a8d90" stroke-width="6" opacity="0.22"/>
<path d="M701.0,1236.2 Q717.4,1212.3 720.6,1183.5" fill="none" stroke="#8a8d90" stroke-width="6" opacity="0.22"/>
<path d="M946.2,1134.2 Q977.2,1135.0 999.8,1113.6" fill="none" stroke="#8a8d90" stroke-width="6" opacity="0.22"/>
<path d="M848.1,1083.6 Q871.5,1084.9 885.6,1066.1" fill="none" stroke="#8a8d90" stroke-width="6" opacity="0.22"/>
<path d="M919.6,1128.0 Q939.4,1130.0 951.1,1146.0" fill="none" stroke="#8a8d90" stroke-width="6" opacity="0.22"/>
<path d="M780.1,1176.3 Q804.7,1170.8 826.1,1184.0" fill="none" stroke="#8a8d90" stroke-width="6" opacity="0.22"/>
<path d="M689.1,1100.9 Q664.8,1103.7 648.5,1121.9" fill="none" stroke="#8a8d90" stroke-width="6" opacity="0.22"/>
<path d="M800.3,1106.6 Q778.8,1114.2 763.1,1097.6" fill="none" stroke="#8a8d90" stroke-width="6" opacity="0.22"/>
<path d="M953.2,1131.2 Q943.9,1135.7 937.4,1143.7" fill="none" stroke="#8a8d90" stroke-width="6" opacity="0.22"/>
<path d="M874.5,1227.7 Q863.7,1230.9 852.5,1230.0" fill="none" stroke="#8a8d90" stroke-width="6" opacity="0.22"/>
<path d="M833.4,1201.2 Q846.7,1179.6 866.5,1163.8" fill="none" stroke="#8a8d90" stroke-width="6" opacity="0.22"/>
<path d="M909.0,1245.0 Q921.9,1255.2 937.6,1260.1" fill="none" stroke="#8a8d90" stroke-width="6" opacity="0.22"/>
<path d="M718.0,1093.6 Q693.9,1103.6 669.5,1094.4" fill="none" stroke="#8a8d90" stroke-width="6" opacity="0.22"/>
<path d="M694.6,1060.6 Q679.4,1046.5 682.5,1026.1" fill="none" stroke="#8a8d90" stroke-width="6" opacity="0.22"/>
<path d="M786.4,1158.6 Q804.2,1157.8 820.4,1150.4" fill="none" stroke="#8a8d90" stroke-width="6" opacity="0.22"/>
<path d="M790.4,1161.6 Q811.8,1184.1 799.0,1212.4" fill="none" stroke="#8a8d90" stroke-width="6" opacity="0.22"/>
<path d="M678.1,1156.3 Q696.8,1175.5 704.6,1201.1" fill="none" stroke="#8a8d90" stroke-width="6" opacity="0.22"/>
<path d="M841.2,1235.4 Q842.8,1247.5 845.6,1259.5" fill="none" stroke="#8a8d90" stroke-width="6" opacity="0.22"/>
</g><g filter="url(#semblur)">
<path d="M701.8,1200.5 Q683.1,1191.0 675.9,1171.1" fill="none" stroke="rgb(147,149,151)" stroke-width="1.8" stroke-linecap="round" opacity="0.54"/>
<path d="M892.3,1226.7 Q871.7,1232.5 852.2,1223.5" fill="none" stroke="rgb(147,149,151)" stroke-width="1.2" stroke-linecap="round" opacity="0.74"/>
<path d="M652.8,1129.9 Q645.4,1120.1 633.2,1118.3" fill="none" stroke="rgb(174,176,178)" stroke-width="1.0" stroke-linecap="round" opacity="0.77"/>
<path d="M722.3,1099.3 Q748.5,1116.8 780.1,1115.1" fill="none" stroke="rgb(154,156,158)" stroke-width="1.7" stroke-linecap="round" opacity="0.53"/>
<path d="M917.3,1184.2 Q933.5,1187.6 949.7,1191.2" fill="none" stroke="rgb(153,155,157)" stroke-width="1.5" stroke-linecap="round" opacity="0.78"/>
<path d="M686.9,1258.6 Q673.8,1264.3 669.2,1277.8" fill="none" stroke="rgb(173,175,177)" stroke-width="1.8" stroke-linecap="round" opacity="0.78"/>
<path d="M689.7,1253.2 Q670.9,1263.8 649.4,1265.5" fill="none" stroke="rgb(165,167,169)" stroke-width="1.4" stroke-linecap="round" opacity="0.61"/>
<path d="M798.9,1089.2 Q827.8,1085.6 852.0,1101.8" fill="none" stroke="rgb(183,185,187)" stroke-width="1.4" stroke-linecap="round" opacity="0.77"/>
<path d="M888.5,1094.0 Q917.8,1098.3 943.2,1083.1" fill="none" stroke="rgb(142,144,146)" stroke-width="1.7" stroke-linecap="round" opacity="0.52"/>
<path d="M883.2,1176.4 Q881.2,1164.1 880.1,1151.7" fill="none" stroke="rgb(165,167,169)" stroke-width="1.9" stroke-linecap="round" opacity="0.70"/>
<path d="M902.7,1092.3 Q925.7,1076.3 951.9,1066.6" fill="none" stroke="rgb(151,153,155)" stroke-width="1.0" stroke-linecap="round" opacity="0.72"/>
<path d="M762.6,1147.7 Q743.2,1171.0 717.6,1187.0" fill="none" stroke="rgb(156,158,160)" stroke-width="1.9" stroke-linecap="round" opacity="0.75"/>
<path d="M659.9,1068.4 Q653.8,1039.2 648.1,1009.9" fill="none" stroke="rgb(173,175,177)" stroke-width="2.0" stroke-linecap="round" opacity="0.60"/>
<path d="M800.9,1169.7 Q803.0,1155.2 800.6,1140.8" fill="none" stroke="rgb(163,165,167)" stroke-width="1.8" stroke-linecap="round" opacity="0.73"/>
<path d="M820.6,1185.6 Q828.9,1196.6 831.9,1209.9" fill="none" stroke="rgb(164,166,168)" stroke-width="2.1" stroke-linecap="round" opacity="0.60"/>
<path d="M933.1,1124.5 Q914.7,1122.6 906.6,1106.0" fill="none" stroke="rgb(147,149,151)" stroke-width="1.3" stroke-linecap="round" opacity="0.53"/>
<path d="M671.7,1228.0 Q679.1,1211.5 677.6,1193.5" fill="none" stroke="rgb(160,162,164)" stroke-width="2.0" stroke-linecap="round" opacity="0.55"/>
<path d="M856.9,1246.8 Q877.6,1254.1 891.9,1237.4" fill="none" stroke="rgb(149,151,153)" stroke-width="1.4" stroke-linecap="round" opacity="0.64"/>
<path d="M943.5,1178.5 Q955.9,1162.7 972.9,1152.0" fill="none" stroke="rgb(157,159,161)" stroke-width="1.8" stroke-linecap="round" opacity="0.65"/>
<path d="M726.8,1241.8 Q728.6,1254.0 738.7,1261.2" fill="none" stroke="rgb(154,156,158)" stroke-width="1.1" stroke-linecap="round" opacity="0.76"/>
<path d="M886.6,1154.8 Q889.2,1143.4 898.1,1135.9" fill="none" stroke="rgb(167,169,171)" stroke-width="1.6" stroke-linecap="round" opacity="0.54"/>
<path d="M739.7,1140.7 Q747.5,1149.5 750.6,1160.7" fill="none" stroke="rgb(170,172,174)" stroke-width="1.3" stroke-linecap="round" opacity="0.81"/>
<path d="M924.6,1265.5 Q917.3,1246.1 923.6,1226.4" fill="none" stroke="rgb(152,154,156)" stroke-width="1.1" stroke-linecap="round" opacity="0.72"/>
<path d="M942.7,1164.2 Q937.1,1154.3 939.9,1143.2" fill="none" stroke="rgb(178,180,182)" stroke-width="1.4" stroke-linecap="round" opacity="0.57"/>
<path d="M906.1,1223.9 Q920.8,1207.3 938.5,1194.0" fill="none" stroke="rgb(141,143,145)" stroke-width="1.5" stroke-linecap="round" opacity="0.57"/>
<path d="M828.1,1235.8 Q826.8,1257.5 813.4,1274.5" fill="none" stroke="rgb(142,144,146)" stroke-width="1.3" stroke-linecap="round" opacity="0.56"/>
<path d="M884.9,1050.1 Q855.6,1031.0 861.9,996.6" fill="none" stroke="rgb(161,163,165)" stroke-width="1.0" stroke-linecap="round" opacity="0.77"/>
<path d="M831.9,1190.4 Q838.9,1168.5 857.8,1155.5" fill="none" stroke="rgb(181,183,185)" stroke-width="2.2" stroke-linecap="round" opacity="0.59"/>
<path d="M774.9,1260.1 Q781.4,1247.0 795.9,1245.9" fill="none" stroke="rgb(162,164,166)" stroke-width="1.6" stroke-linecap="round" opacity="0.63"/>
<path d="M680.3,1053.4 Q666.0,1051.4 656.1,1061.8" fill="none" stroke="rgb(157,159,161)" stroke-width="1.8" stroke-linecap="round" opacity="0.81"/>
<path d="M850.6,1075.8 Q834.6,1072.0 818.6,1067.9" fill="none" stroke="rgb(151,153,155)" stroke-width="1.8" stroke-linecap="round" opacity="0.67"/>
<path d="M718.4,1084.6 Q720.8,1102.7 732.6,1116.7" fill="none" stroke="rgb(161,163,165)" stroke-width="1.4" stroke-linecap="round" opacity="0.82"/>
<path d="M818.7,1058.0 Q822.2,1028.8 805.3,1004.7" fill="none" stroke="rgb(181,183,185)" stroke-width="1.2" stroke-linecap="round" opacity="0.74"/>
<path d="M891.7,1049.5 Q879.8,1048.0 869.7,1054.6" fill="none" stroke="rgb(184,186,188)" stroke-width="1.8" stroke-linecap="round" opacity="0.84"/>
<path d="M705.0,1205.3 Q710.8,1229.4 704.1,1253.2" fill="none" stroke="rgb(143,145,147)" stroke-width="1.3" stroke-linecap="round" opacity="0.85"/>
<path d="M664.5,1133.9 Q661.8,1162.9 644.1,1186.1" fill="none" stroke="rgb(160,162,164)" stroke-width="1.7" stroke-linecap="round" opacity="0.79"/>
<path d="M804.4,1169.4 Q816.3,1167.2 827.1,1161.8" fill="none" stroke="rgb(150,152,154)" stroke-width="1.9" stroke-linecap="round" opacity="0.51"/>
<path d="M806.0,1210.4 Q822.8,1211.5 837.7,1203.8" fill="none" stroke="rgb(176,178,180)" stroke-width="1.3" stroke-linecap="round" opacity="0.59"/>
<path d="M811.3,1171.9 Q828.7,1198.3 859.8,1192.4" fill="none" stroke="rgb(179,181,183)" stroke-width="1.9" stroke-linecap="round" opacity="0.58"/>
<path d="M759.6,1118.2 Q771.4,1110.5 783.9,1117.2" fill="none" stroke="rgb(147,149,151)" stroke-width="2.0" stroke-linecap="round" opacity="0.81"/>
<path d="M674.0,1228.1 Q678.4,1209.4 676.4,1190.2" fill="none" stroke="rgb(164,166,168)" stroke-width="2.2" stroke-linecap="round" opacity="0.67"/>
<path d="M657.8,1190.5 Q639.9,1200.6 619.7,1204.9" fill="none" stroke="rgb(184,186,188)" stroke-width="1.8" stroke-linecap="round" opacity="0.57"/>
<path d="M773.6,1097.7 Q793.4,1097.1 809.2,1109.0" fill="none" stroke="rgb(150,152,154)" stroke-width="1.8" stroke-linecap="round" opacity="0.65"/>
<path d="M865.4,1228.7 Q855.4,1211.0 859.2,1191.0" fill="none" stroke="rgb(182,184,186)" stroke-width="2.1" stroke-linecap="round" opacity="0.77"/>
<path d="M768.7,1155.6 Q736.4,1145.5 729.2,1112.5" fill="none" stroke="rgb(173,175,177)" stroke-width="1.5" stroke-linecap="round" opacity="0.55"/>
<path d="M797.3,1156.7 Q802.3,1127.3 786.0,1102.3" fill="none" stroke="rgb(140,142,144)" stroke-width="1.9" stroke-linecap="round" opacity="0.56"/>
<path d="M842.0,1215.7 Q835.2,1188.4 815.2,1168.4" fill="none" stroke="rgb(147,149,151)" stroke-width="1.9" stroke-linecap="round" opacity="0.52"/>
<path d="M859.0,1102.1 Q875.8,1095.7 889.7,1084.4" fill="none" stroke="rgb(180,182,184)" stroke-width="1.4" stroke-linecap="round" opacity="0.56"/>
<path d="M902.1,1261.2 Q912.0,1257.8 922.3,1259.8" fill="none" stroke="rgb(177,179,181)" stroke-width="1.4" stroke-linecap="round" opacity="0.66"/>
<path d="M746.4,1134.4 Q769.1,1143.5 772.1,1167.8" fill="none" stroke="rgb(185,187,189)" stroke-width="1.3" stroke-linecap="round" opacity="0.77"/>
<path d="M743.6,1256.7 Q732.1,1238.0 741.8,1218.2" fill="none" stroke="rgb(175,177,179)" stroke-width="1.1" stroke-linecap="round" opacity="0.62"/>
<path d="M941.9,1203.7 Q943.2,1220.6 951.0,1235.8" fill="none" stroke="rgb(184,186,188)" stroke-width="1.5" stroke-linecap="round" opacity="0.78"/>
<path d="M858.6,1105.6 Q872.6,1095.2 890.0,1095.6" fill="none" stroke="rgb(156,158,160)" stroke-width="1.6" stroke-linecap="round" opacity="0.82"/>
<path d="M908.3,1081.8 Q904.2,1068.3 896.6,1056.3" fill="none" stroke="rgb(184,186,188)" stroke-width="1.3" stroke-linecap="round" opacity="0.62"/>
<path d="M736.0,1131.7 Q753.4,1123.1 772.0,1117.6" fill="none" stroke="rgb(173,175,177)" stroke-width="1.4" stroke-linecap="round" opacity="0.83"/>
<path d="M839.0,1109.9 Q852.1,1123.1 855.2,1141.4" fill="none" stroke="rgb(162,164,166)" stroke-width="1.2" stroke-linecap="round" opacity="0.56"/>
<path d="M709.0,1260.5 Q731.2,1281.7 760.2,1271.8" fill="none" stroke="rgb(145,147,149)" stroke-width="1.3" stroke-linecap="round" opacity="0.77"/>
<path d="M865.6,1052.0 Q854.8,1050.3 844.0,1051.8" fill="none" stroke="rgb(140,142,144)" stroke-width="2.2" stroke-linecap="round" opacity="0.52"/>
<path d="M864.3,1101.0 Q885.7,1090.1 906.0,1103.0" fill="none" stroke="rgb(162,164,166)" stroke-width="1.8" stroke-linecap="round" opacity="0.68"/>
<path d="M745.5,1148.3 Q753.8,1130.6 773.0,1126.9" fill="none" stroke="rgb(142,144,146)" stroke-width="2.0" stroke-linecap="round" opacity="0.56"/>
<path d="M892.0,1229.9 Q880.3,1232.6 870.4,1225.8" fill="none" stroke="rgb(176,178,180)" stroke-width="1.8" stroke-linecap="round" opacity="0.58"/>
<path d="M774.1,1170.0 Q765.7,1197.7 782.2,1221.5" fill="none" stroke="rgb(148,150,152)" stroke-width="2.0" stroke-linecap="round" opacity="0.72"/>
<path d="M932.5,1243.4 Q955.4,1233.2 975.5,1248.2" fill="none" stroke="rgb(150,152,154)" stroke-width="1.7" stroke-linecap="round" opacity="0.57"/>
<path d="M924.8,1213.2 Q917.1,1198.9 926.4,1185.7" fill="none" stroke="rgb(151,153,155)" stroke-width="2.1" stroke-linecap="round" opacity="0.61"/>
<path d="M899.1,1182.1 Q890.6,1162.8 870.9,1155.4" fill="none" stroke="rgb(156,158,160)" stroke-width="1.4" stroke-linecap="round" opacity="0.75"/>
<path d="M754.3,1107.5 Q742.5,1118.5 735.1,1133.0" fill="none" stroke="rgb(164,166,168)" stroke-width="1.9" stroke-linecap="round" opacity="0.80"/>
<path d="M921.9,1063.5 Q938.2,1076.5 958.7,1080.2" fill="none" stroke="rgb(142,144,146)" stroke-width="1.3" stroke-linecap="round" opacity="0.61"/>
<path d="M709.4,1107.5 Q719.4,1111.4 729.4,1115.3" fill="none" stroke="rgb(159,161,163)" stroke-width="2.0" stroke-linecap="round" opacity="0.77"/>
<path d="M858.3,1192.4 Q858.8,1206.5 871.5,1212.7" fill="none" stroke="rgb(152,154,156)" stroke-width="2.2" stroke-linecap="round" opacity="0.53"/>
<path d="M815.2,1138.2 Q807.1,1115.0 797.4,1092.5" fill="none" stroke="rgb(169,171,173)" stroke-width="1.6" stroke-linecap="round" opacity="0.74"/>
<path d="M675.6,1231.0 Q680.2,1241.0 680.4,1252.0" fill="none" stroke="rgb(151,153,155)" stroke-width="1.2" stroke-linecap="round" opacity="0.72"/>
<path d="M813.4,1186.9 Q824.7,1208.3 835.6,1229.9" fill="none" stroke="rgb(143,145,147)" stroke-width="2.1" stroke-linecap="round" opacity="0.82"/>
<path d="M701.0,1236.2 Q717.4,1212.3 720.6,1183.5" fill="none" stroke="rgb(145,147,149)" stroke-width="2.1" stroke-linecap="round" opacity="0.69"/>
<path d="M717.7,1220.0 Q741.4,1217.8 751.6,1196.3" fill="none" stroke="rgb(150,152,154)" stroke-width="2.0" stroke-linecap="round" opacity="0.82"/>
<path d="M946.2,1134.2 Q977.2,1135.0 999.8,1113.6" fill="none" stroke="rgb(179,181,183)" stroke-width="2.0" stroke-linecap="round" opacity="0.75"/>
<path d="M655.2,1125.7 Q643.7,1105.2 621.7,1096.7" fill="none" stroke="rgb(141,143,145)" stroke-width="2.2" stroke-linecap="round" opacity="0.68"/>
<path d="M848.1,1083.6 Q871.5,1084.9 885.6,1066.1" fill="none" stroke="rgb(180,182,184)" stroke-width="1.0" stroke-linecap="round" opacity="0.81"/>
<path d="M714.6,1268.8 Q693.4,1252.1 666.5,1251.5" fill="none" stroke="rgb(168,170,172)" stroke-width="1.1" stroke-linecap="round" opacity="0.64"/>
<path d="M919.6,1128.0 Q939.4,1130.0 951.1,1146.0" fill="none" stroke="rgb(178,180,182)" stroke-width="2.0" stroke-linecap="round" opacity="0.78"/>
<path d="M815.6,1228.2 Q813.8,1243.3 799.2,1247.5" fill="none" stroke="rgb(171,173,175)" stroke-width="1.9" stroke-linecap="round" opacity="0.57"/>
<path d="M780.1,1176.3 Q804.7,1170.8 826.1,1184.0" fill="none" stroke="rgb(159,161,163)" stroke-width="1.8" stroke-linecap="round" opacity="0.84"/>
<path d="M684.3,1253.2 Q656.7,1248.6 629.1,1245.1" fill="none" stroke="rgb(159,161,163)" stroke-width="1.1" stroke-linecap="round" opacity="0.82"/>
<path d="M689.1,1100.9 Q664.8,1103.7 648.5,1121.9" fill="none" stroke="rgb(150,152,154)" stroke-width="2.1" stroke-linecap="round" opacity="0.73"/>
<path d="M879.8,1191.9 Q882.6,1210.5 879.1,1229.1" fill="none" stroke="rgb(175,177,179)" stroke-width="1.3" stroke-linecap="round" opacity="0.62"/>
<path d="M800.3,1106.6 Q778.8,1114.2 763.1,1097.6" fill="none" stroke="rgb(174,176,178)" stroke-width="1.9" stroke-linecap="round" opacity="0.63"/>
<path d="M901.5,1177.6 Q917.1,1156.9 917.6,1130.9" fill="none" stroke="rgb(172,174,176)" stroke-width="1.1" stroke-linecap="round" opacity="0.53"/>
<path d="M953.2,1131.2 Q943.9,1135.7 937.4,1143.7" fill="none" stroke="rgb(152,154,156)" stroke-width="2.1" stroke-linecap="round" opacity="0.66"/>
<path d="M828.2,1175.4 Q842.1,1169.9 856.1,1175.0" fill="none" stroke="rgb(170,172,174)" stroke-width="1.3" stroke-linecap="round" opacity="0.79"/>
<path d="M874.5,1227.7 Q863.7,1230.9 852.5,1230.0" fill="none" stroke="rgb(182,184,186)" stroke-width="1.7" stroke-linecap="round" opacity="0.60"/>
<path d="M902.5,1158.5 Q884.5,1159.6 868.0,1167.0" fill="none" stroke="rgb(152,154,156)" stroke-width="1.8" stroke-linecap="round" opacity="0.61"/>
<path d="M833.4,1201.2 Q846.7,1179.6 866.5,1163.8" fill="none" stroke="rgb(179,181,183)" stroke-width="1.7" stroke-linecap="round" opacity="0.67"/>
<path d="M727.8,1220.9 Q723.8,1190.2 743.0,1165.8" fill="none" stroke="rgb(166,168,170)" stroke-width="1.9" stroke-linecap="round" opacity="0.72"/>
<path d="M909.0,1245.0 Q921.9,1255.2 937.6,1260.1" fill="none" stroke="rgb(156,158,160)" stroke-width="1.2" stroke-linecap="round" opacity="0.56"/>
<path d="M696.1,1231.8 Q700.7,1256.0 691.7,1278.9" fill="none" stroke="rgb(174,176,178)" stroke-width="1.6" stroke-linecap="round" opacity="0.82"/>
<path d="M718.0,1093.6 Q693.9,1103.6 669.5,1094.4" fill="none" stroke="rgb(146,148,150)" stroke-width="2.1" stroke-linecap="round" opacity="0.56"/>
<path d="M860.1,1122.0 Q843.8,1112.4 839.5,1094.0" fill="none" stroke="rgb(170,172,174)" stroke-width="1.5" stroke-linecap="round" opacity="0.69"/>
<path d="M694.6,1060.6 Q679.4,1046.5 682.5,1026.1" fill="none" stroke="rgb(155,157,159)" stroke-width="1.6" stroke-linecap="round" opacity="0.53"/>
<path d="M919.0,1192.8 Q942.8,1199.2 967.5,1199.3" fill="none" stroke="rgb(178,180,182)" stroke-width="1.8" stroke-linecap="round" opacity="0.72"/>
<path d="M786.4,1158.6 Q804.2,1157.8 820.4,1150.4" fill="none" stroke="rgb(147,149,151)" stroke-width="2.0" stroke-linecap="round" opacity="0.70"/>
<path d="M844.7,1128.8 Q826.5,1146.7 816.1,1170.0" fill="none" stroke="rgb(144,146,148)" stroke-width="1.2" stroke-linecap="round" opacity="0.69"/>
<path d="M790.4,1161.6 Q811.8,1184.1 799.0,1212.4" fill="none" stroke="rgb(184,186,188)" stroke-width="1.0" stroke-linecap="round" opacity="0.77"/>
<path d="M846.9,1148.5 Q848.3,1170.4 854.7,1191.3" fill="none" stroke="rgb(172,174,176)" stroke-width="2.2" stroke-linecap="round" opacity="0.77"/>
<path d="M678.1,1156.3 Q696.8,1175.5 704.6,1201.1" fill="none" stroke="rgb(155,157,159)" stroke-width="1.8" stroke-linecap="round" opacity="0.74"/>
<path d="M751.4,1095.5 Q766.5,1093.2 777.6,1103.7" fill="none" stroke="rgb(183,185,187)" stroke-width="2.0" stroke-linecap="round" opacity="0.64"/>
<path d="M841.2,1235.4 Q842.8,1247.5 845.6,1259.5" fill="none" stroke="rgb(179,181,183)" stroke-width="1.8" stroke-linecap="round" opacity="0.65"/>
</g></g>
<text x="833" y="1230" font-family="'Liberation Sans',sans-serif" font-weight="bold" font-size="27" fill="#fff" text-anchor="start"  textLength="106" lengthAdjust="spacingAndGlyphs">500 nm</text>
<rect x="851.3" y="1246" width="54.5" height="5" fill="#fff"/>
</svg></body></html>
